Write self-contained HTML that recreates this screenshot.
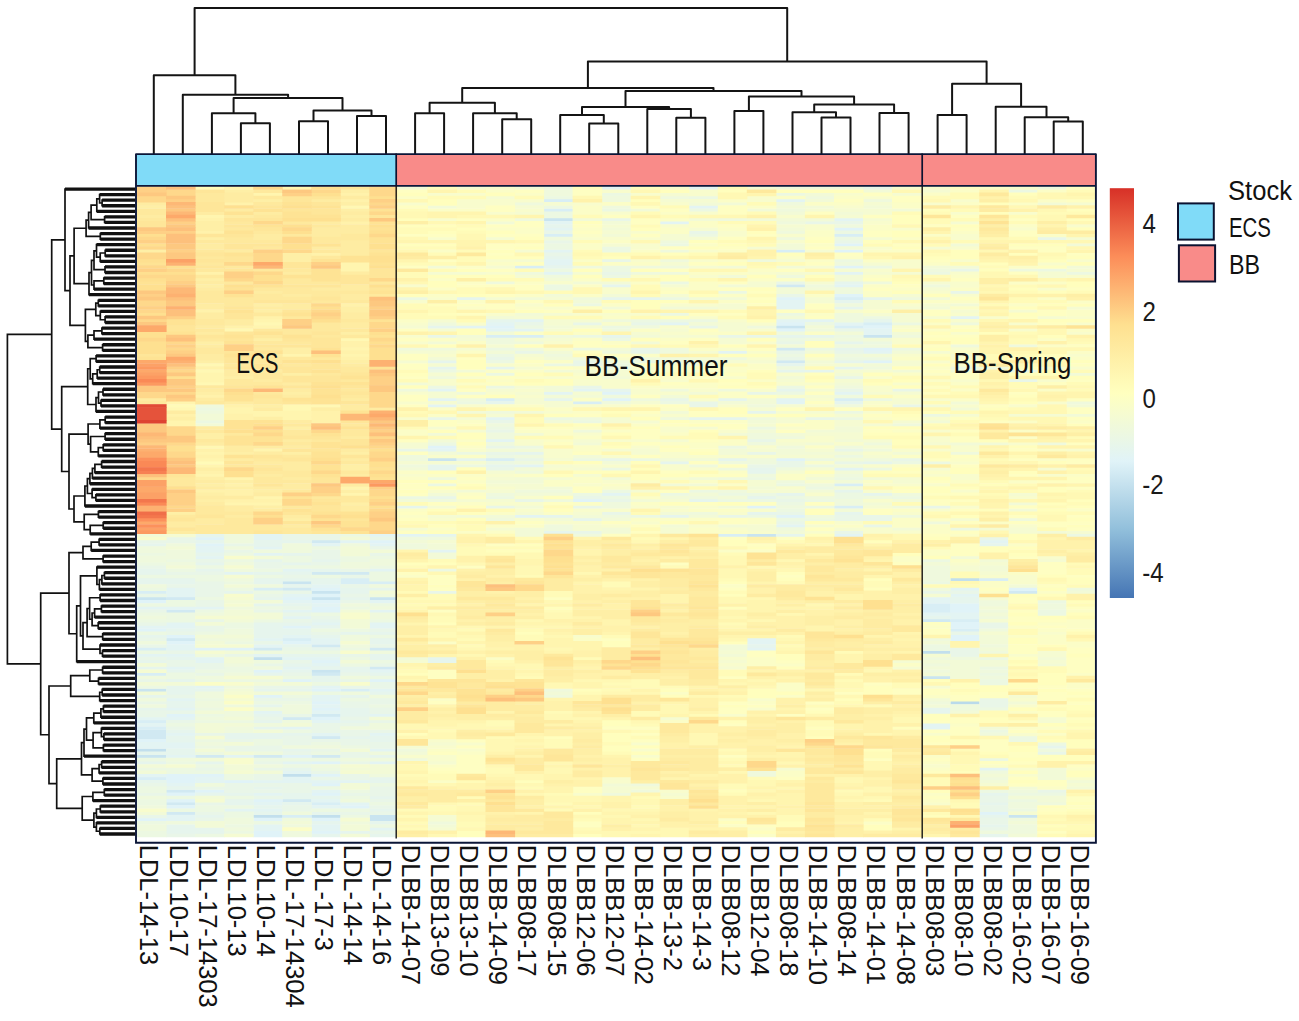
<!DOCTYPE html>
<html><head><meta charset="utf-8"><style>
html,body{margin:0;padding:0;background:#fff;width:1299px;height:1021px;overflow:hidden}
svg{position:absolute;left:0;top:0}
</style></head><body>
<svg width="1299" height="1021" viewBox="0 0 1299 1021">
<defs><linearGradient id="cb" x1="0" y1="1" x2="0" y2="0">
<stop offset="0" stop-color="#4575b4"/><stop offset="0.1667" stop-color="#91bfdb"/><stop offset="0.3333" stop-color="#e0f3f8"/><stop offset="0.5" stop-color="#ffffbf"/><stop offset="0.6667" stop-color="#fee090"/><stop offset="0.8333" stop-color="#fc8d59"/><stop offset="1" stop-color="#d73027"/>
</linearGradient>
<filter id="bl" x="-1%" y="-1%" width="102%" height="102%"><feGaussianBlur stdDeviation="0.55"/></filter>
</defs>
<path d="M194.6 75.2V8.0H787.2V61.4M153.8 154.0V75.2H235.4V94.8M182.8 154.0V94.8H288.1V98.0M233.6 113.2V98.0H342.5V110.4M211.9 154.0V113.2H255.4V123.2M240.9 154.0V123.2H269.9V154.0M313.5 121.2V110.4H371.5V116.0M299.0 154.0V121.2H328.0V154.0M357.0 154.0V116.0H386.0V154.0M587.9 88.0V61.4H986.6V83.8M462.2 102.8V88.0H713.5V91.0M429.6 113.2V102.8H494.9V113.2M415.1 154.0V113.2H444.1V154.0M473.1 154.0V113.2H516.7V119.2M502.2 154.0V119.2H531.2V154.0M625.5 107.0V91.0H801.5V96.6M582.0 115.0V107.0H669.1V109.0M560.2 154.0V115.0H603.8V123.4M589.2 154.0V123.4H618.3V154.0M647.3 154.0V109.0H690.9V117.8M676.3 154.0V117.8H705.4V154.0M748.9 111.0V96.6H854.1V104.6M734.4 154.0V111.0H763.4V154.0M814.2 112.3V104.6H894.1V113.0M792.5 154.0V112.3H836.0V117.4M821.5 154.0V117.4H850.5V154.0M879.5 154.0V113.0H908.6V154.0M952.1 115.0V83.8H1021.1V106.7M937.6 154.0V115.0H966.6V154.0M995.7 154.0V106.7H1046.5V117.3M1024.7 154.0V117.3H1068.2V121.5M1053.7 154.0V121.5H1082.8V154.0" fill="none" stroke="#141414" stroke-width="2.0" stroke-linejoin="round"/>
<path d="M135.0 200.20H102.1V205.76H135.0M135.0 194.64H99.6V202.98H102.1M99.6 198.81H96.8V211.32H135.0M135.0 216.88H104.6V222.44H135.0M96.8 205.06H91.1V219.66H104.6M91.1 212.36H88.6V228.00H135.0M135.0 233.56H100.3V239.12H135.0M88.6 220.18H86.1V236.34H100.3M135.0 250.24H105.2V255.80H135.0M105.2 253.02H100.2V261.36H135.0M135.0 244.68H96.5V257.19H100.2M135.0 266.92H105.0V272.48H135.0M96.5 250.93H94.0V269.70H105.0M135.0 278.04H103.8V283.60H135.0M103.8 280.82H94.0V289.16H135.0M94.0 260.32H91.5V284.99H94.0M91.5 272.65H89.0V294.72H135.0M86.1 228.26H74.1V283.68H89.0M135.0 300.28H98.3V305.84H135.0M135.0 316.96H105.1V322.52H135.0M135.0 311.40H100.3V319.74H105.1M98.3 303.06H95.8V315.57H100.3M135.0 328.08H101.9V333.64H135.0M101.9 330.86H94.0V339.20H135.0M135.0 344.76H102.6V350.31H135.0M94.0 335.03H87.9V347.54H102.6M95.8 309.31H85.4V341.28H87.9M74.1 255.97H70.0V325.30H85.4M135.0 189.08H65.0V290.63H70.0M135.0 355.87H96.1V361.43H135.0M135.0 366.99H99.7V372.55H135.0M99.7 369.77H97.2V378.11H135.0M97.2 373.94H92.7V383.67H135.0M96.1 358.65H90.2V378.81H92.7M135.0 389.23H103.0V394.79H135.0M135.0 400.35H101.0V405.91H135.0M103.0 392.01H98.5V403.13H101.0M98.5 397.57H96.0V411.47H135.0M90.2 368.73H87.7V404.52H96.0M135.0 417.03H105.2V422.59H135.0M105.2 419.81H99.9V428.15H135.0M135.0 433.71H105.1V439.27H135.0M135.0 444.83H103.2V450.39H135.0M103.2 447.61H98.3V455.95H135.0M105.1 436.49H90.6V451.78H98.3M99.9 423.98H88.1V444.14H90.6M135.0 461.51H101.6V467.07H135.0M101.6 464.29H94.9V472.63H135.0M94.9 468.46H92.4V478.19H135.0M92.4 473.33H89.9V483.75H135.0M135.0 494.87H95.9V500.43H135.0M135.0 489.31H92.1V497.65H95.9M89.9 478.54H87.4V493.48H92.1M87.4 486.01H84.9V505.99H135.0M135.0 511.55H98.4V517.11H135.0M135.0 522.67H103.2V528.23H135.0M103.2 525.45H90.2V533.79H135.0M98.4 514.33H84.2V529.62H90.2M84.9 496.00H74.0V521.97H84.2M88.1 434.06H69.0V508.99H74.0M87.7 386.63H61.7V471.52H69.0M65.0 239.86H51.7V429.08H61.7M135.0 539.35H99.1V544.91H135.0M99.1 542.13H91.2V550.47H135.0M135.0 556.03H103.1V561.59H135.0M91.2 546.30H83.0V558.81H103.1M135.0 572.71H104.4V578.27H135.0M104.4 575.49H101.9V583.83H135.0M101.9 579.66H99.4V589.39H135.0M135.0 567.15H96.9V584.52H99.4M135.0 594.95H100.1V600.51H135.0M135.0 606.07H101.4V611.63H135.0M101.4 608.85H94.6V617.19H135.0M135.0 622.75H98.2V628.31H135.0M94.6 613.02H92.1V625.53H98.2M100.1 597.73H89.6V619.27H92.1M135.0 633.87H102.7V639.43H135.0M89.6 608.50H87.1V636.65H102.7M135.0 650.55H102.5V656.11H135.0M135.0 644.99H100.0V653.33H102.5M87.1 622.57H83.0V649.16H100.0M96.9 575.84H80.5V635.86H83.0M80.5 605.85H76.7V661.67H135.0M83.0 552.55H69.0V633.76H76.7M135.0 667.23H102.6V672.79H135.0M135.0 678.34H98.5V683.90H135.0M102.6 670.01H89.8V681.12H98.5M135.0 689.46H102.2V695.02H135.0M102.2 692.24H99.7V700.58H135.0M89.8 675.56H70.7V696.41H99.7M135.0 706.14H103.4V711.70H135.0M103.4 708.92H100.9V717.26H135.0M100.9 713.09H93.8V722.82H135.0M135.0 733.94H103.9V739.50H135.0M135.0 728.38H101.4V736.72H103.9M135.0 745.06H103.4V750.62H135.0M101.4 732.55H93.1V747.84H103.4M93.8 717.96H86.5V740.20H93.1M86.5 729.08H84.0V756.18H135.0M135.0 761.74H101.6V767.30H135.0M101.6 764.52H99.1V772.86H135.0M135.0 778.42H102.9V783.98H135.0M99.1 768.69H92.1V781.20H102.9M84.0 742.63H81.5V774.95H92.1M135.0 789.54H104.3V795.10H135.0M104.3 792.32H92.9V800.66H135.0M135.0 806.22H100.3V811.78H135.0M100.3 809.00H96.4V817.34H135.0M135.0 828.46H99.8V834.02H135.0M135.0 822.90H96.4V831.24H99.8M96.4 813.17H93.9V827.07H96.4M92.9 796.49H82.2V820.12H93.9M81.5 758.79H56.7V808.31H82.2M70.7 685.99H49.0V783.55H56.7M69.0 593.16H40.7V734.77H49.0M51.7 334.47H7.4V663.96H40.7" fill="none" stroke="#111" stroke-width="1.7"/><path d="M102.1 200.20H135.0M102.1 205.76H135.0M99.6 194.64H135.0M96.8 211.32H135.0M104.6 216.88H135.0M104.6 222.44H135.0M88.6 228.00H135.0M100.3 233.56H135.0M100.3 239.12H135.0M105.2 250.24H135.0M105.2 255.80H135.0M100.2 261.36H135.0M96.5 244.68H135.0M105.0 266.92H135.0M105.0 272.48H135.0M103.8 278.04H135.0M103.8 283.60H135.0M94.0 289.16H135.0M89.0 294.72H135.0M98.3 300.28H135.0M98.3 305.84H135.0M105.1 316.96H135.0M105.1 322.52H135.0M100.3 311.40H135.0M101.9 328.08H135.0M101.9 333.64H135.0M94.0 339.20H135.0M102.6 344.76H135.0M102.6 350.31H135.0M65.0 189.08H135.0M96.1 355.87H135.0M96.1 361.43H135.0M99.7 366.99H135.0M99.7 372.55H135.0M97.2 378.11H135.0M92.7 383.67H135.0M103.0 389.23H135.0M103.0 394.79H135.0M101.0 400.35H135.0M101.0 405.91H135.0M96.0 411.47H135.0M105.2 417.03H135.0M105.2 422.59H135.0M99.9 428.15H135.0M105.1 433.71H135.0M105.1 439.27H135.0M103.2 444.83H135.0M103.2 450.39H135.0M98.3 455.95H135.0M101.6 461.51H135.0M101.6 467.07H135.0M94.9 472.63H135.0M92.4 478.19H135.0M89.9 483.75H135.0M95.9 494.87H135.0M95.9 500.43H135.0M92.1 489.31H135.0M84.9 505.99H135.0M98.4 511.55H135.0M98.4 517.11H135.0M103.2 522.67H135.0M103.2 528.23H135.0M90.2 533.79H135.0M99.1 539.35H135.0M99.1 544.91H135.0M91.2 550.47H135.0M103.1 556.03H135.0M103.1 561.59H135.0M104.4 572.71H135.0M104.4 578.27H135.0M101.9 583.83H135.0M99.4 589.39H135.0M96.9 567.15H135.0M100.1 594.95H135.0M100.1 600.51H135.0M101.4 606.07H135.0M101.4 611.63H135.0M94.6 617.19H135.0M98.2 622.75H135.0M98.2 628.31H135.0M102.7 633.87H135.0M102.7 639.43H135.0M102.5 650.55H135.0M102.5 656.11H135.0M100.0 644.99H135.0M76.7 661.67H135.0M102.6 667.23H135.0M102.6 672.79H135.0M98.5 678.34H135.0M98.5 683.90H135.0M102.2 689.46H135.0M102.2 695.02H135.0M99.7 700.58H135.0M103.4 706.14H135.0M103.4 711.70H135.0M100.9 717.26H135.0M93.8 722.82H135.0M103.9 733.94H135.0M103.9 739.50H135.0M101.4 728.38H135.0M103.4 745.06H135.0M103.4 750.62H135.0M84.0 756.18H135.0M101.6 761.74H135.0M101.6 767.30H135.0M99.1 772.86H135.0M102.9 778.42H135.0M102.9 783.98H135.0M104.3 789.54H135.0M104.3 795.10H135.0M92.9 800.66H135.0M100.3 806.22H135.0M100.3 811.78H135.0M96.4 817.34H135.0M99.8 828.46H135.0M99.8 834.02H135.0M96.4 822.90H135.0" fill="none" stroke="#111" stroke-width="3.3"/>
<g filter="url(#bl)"><path fill="#badaea" d="M950.1 701.02h29.6v3.56h-29.6z"/><path fill="#c2dfed" d="M950.1 577.86h29.6v3.56h-29.6zM922.0 650.49h28.7v3.56h-28.7zM253.2 656.81h29.6v3.56h-29.6zM137.0 748.38h29.6v3.56h-29.6zM282.2 773.64h29.6v3.56h-29.6zM253.2 814.70h29.6v3.56h-29.6zM311.2 814.70h29.6v3.56h-29.6z"/><path fill="#c9e4f0" d="M543.6 217.88h29.6v3.56h-29.6zM775.9 325.24h29.6v3.56h-29.6zM863.0 334.72h29.6v3.56h-29.6zM427.4 457.87h29.6v3.56h-29.6zM746.8 533.65h29.6v3.56h-29.6zM282.2 581.02h29.6v3.56h-29.6zM311.2 590.49h29.6v3.56h-29.6zM137.0 596.81h29.6v3.56h-29.6zM311.2 596.81h29.6v3.56h-29.6zM369.3 596.81h27.9v3.56h-27.9zM311.2 669.44h29.6v3.56h-29.6zM922.0 675.75h28.7v3.56h-28.7zM137.0 688.38h29.6v3.56h-29.6zM137.0 754.70h29.6v3.56h-29.6zM369.3 814.70h27.9v3.56h-27.9zM1008.2 814.70h29.6v3.56h-29.6zM369.3 817.85h27.9v3.56h-27.9z"/><path fill="#d1e9f2" d="M775.9 284.19h29.6v3.56h-29.6zM775.9 347.35h29.6v3.56h-29.6zM775.9 359.98h29.6v3.56h-29.6zM311.2 539.97h29.6v3.56h-29.6zM311.2 571.55h58.7v3.56h-58.7zM282.2 587.34h29.6v3.56h-29.6zM1008.2 590.49h29.6v3.56h-29.6zM166.0 596.81h29.6v3.56h-29.6zM166.0 609.44h29.6v3.56h-29.6zM922.0 618.91h28.7v3.56h-28.7zM166.0 637.86h29.6v3.56h-29.6zM311.2 644.18h29.6v3.56h-29.6zM253.2 647.33h29.6v3.56h-29.6zM369.3 647.33h27.9v3.56h-27.9zM369.3 666.28h27.9v3.56h-27.9zM311.2 672.60h29.6v3.56h-29.6zM311.2 713.65h29.6v3.56h-29.6zM282.2 716.80h29.6v3.56h-29.6zM137.0 729.44h29.6v3.56h-29.6zM137.0 732.59h29.6v3.56h-29.6zM137.0 735.75h29.6v3.56h-29.6zM311.2 735.75h29.6v3.56h-29.6zM195.1 754.70h29.6v3.56h-29.6zM253.2 754.70h29.6v3.56h-29.6zM311.2 754.70h29.6v3.56h-29.6zM166.0 789.43h29.6v3.56h-29.6zM282.2 798.91h29.6v3.56h-29.6zM166.0 802.06h29.6v3.56h-29.6zM166.0 811.54h29.6v3.56h-29.6z"/><path fill="#d8eef5" d="M543.6 198.93h29.6v3.56h-29.6zM543.6 208.40h29.6v3.56h-29.6zM543.6 233.67h29.6v3.56h-29.6zM834.0 233.67h29.6v3.56h-29.6zM775.9 249.46h29.6v3.56h-29.6zM514.5 265.24h29.6v3.56h-29.6zM834.0 296.82h29.6v3.56h-29.6zM863.0 322.08h29.6v3.56h-29.6zM834.0 325.24h29.6v3.56h-29.6zM485.5 334.72h58.7v3.56h-58.7zM485.5 397.87h29.6v3.56h-29.6zM834.0 397.87h29.6v3.56h-29.6zM572.6 401.03h29.6v3.56h-29.6zM485.5 457.87h29.6v3.56h-29.6zM834.0 483.13h29.6v3.56h-29.6zM834.0 505.23h29.6v3.56h-29.6zM717.8 533.65h29.6v3.56h-29.6zM340.3 577.86h29.6v3.56h-29.6zM979.2 577.86h29.6v3.56h-29.6zM340.3 581.02h56.9v3.56h-56.9zM253.2 587.34h29.6v3.56h-29.6zM137.0 590.49h29.6v3.56h-29.6zM922.0 603.13h28.7v3.56h-28.7zM922.0 606.28h28.7v3.56h-28.7zM922.0 609.44h28.7v3.56h-28.7zM950.1 618.91h29.6v3.56h-29.6zM950.1 628.39h29.6v3.56h-29.6zM282.2 637.86h29.6v3.56h-29.6zM137.0 647.33h29.6v3.56h-29.6zM137.0 672.60h29.6v3.56h-29.6zM340.3 688.38h29.6v3.56h-29.6zM137.0 719.96h29.6v3.56h-29.6zM137.0 726.28h29.6v3.56h-29.6zM137.0 776.80h29.6v3.56h-29.6zM311.2 802.06h29.6v3.56h-29.6zM282.2 814.70h29.6v3.56h-29.6z"/><path fill="#e0f3f8" d="M834.0 227.35h29.6v3.56h-29.6zM834.0 243.14h29.6v3.56h-29.6zM834.0 249.46h29.6v3.56h-29.6zM834.0 265.24h29.6v3.56h-29.6zM834.0 293.66h29.6v3.56h-29.6zM775.9 296.82h29.6v3.56h-29.6zM775.9 322.08h29.6v3.56h-29.6zM485.5 325.24h29.6v3.56h-29.6zM863.0 325.24h29.6v3.56h-29.6zM775.9 328.40h29.6v3.56h-29.6zM863.0 347.35h29.6v3.56h-29.6zM863.0 359.98h29.6v3.56h-29.6zM601.6 391.55h29.6v3.56h-29.6zM601.6 397.87h29.6v3.56h-29.6zM427.4 445.24h29.6v3.56h-29.6zM775.9 457.87h29.6v3.56h-29.6zM572.6 498.92h29.6v3.56h-29.6zM746.8 505.23h29.6v3.56h-29.6zM775.9 514.71h29.6v3.56h-29.6zM195.1 536.81h29.6v3.56h-29.6zM369.3 539.97h27.9v3.56h-27.9zM195.1 543.13h29.6v3.56h-29.6zM311.2 587.34h29.6v3.56h-29.6zM1008.2 587.34h29.6v3.56h-29.6zM311.2 593.65h29.6v3.56h-29.6zM282.2 596.81h29.6v3.56h-29.6zM137.0 599.97h29.6v3.56h-29.6zM311.2 599.97h29.6v3.56h-29.6zM950.1 603.13h29.6v3.56h-29.6zM311.2 606.28h29.6v3.56h-29.6zM950.1 606.28h29.6v3.56h-29.6zM311.2 609.44h29.6v3.56h-29.6zM950.1 609.44h29.6v3.56h-29.6zM950.1 622.07h29.6v3.56h-29.6zM282.2 625.23h29.6v3.56h-29.6zM950.1 625.23h29.6v3.56h-29.6zM137.0 628.39h29.6v3.56h-29.6zM166.0 634.70h29.6v3.56h-29.6zM950.1 634.70h29.6v3.56h-29.6zM950.1 637.86h29.6v3.56h-29.6zM166.0 641.02h29.6v3.56h-29.6zM282.2 641.02h29.6v3.56h-29.6zM195.1 647.33h58.7v3.56h-58.7zM311.2 659.97h29.6v3.56h-29.6zM253.2 669.44h29.6v3.56h-29.6zM282.2 678.91h29.6v3.56h-29.6zM369.3 678.91h27.9v3.56h-27.9zM311.2 688.38h29.6v3.56h-29.6zM253.2 694.70h29.6v3.56h-29.6zM311.2 701.02h29.6v3.56h-29.6zM311.2 707.33h29.6v3.56h-29.6zM166.0 713.65h29.6v3.56h-29.6zM311.2 716.80h29.6v3.56h-29.6zM137.0 738.91h29.6v3.56h-29.6zM282.2 754.70h29.6v3.56h-29.6zM311.2 761.01h29.6v3.56h-29.6zM166.0 773.64h58.7v3.56h-58.7zM311.2 773.64h29.6v3.56h-29.6zM166.0 776.80h29.6v3.56h-29.6zM166.0 779.96h29.6v3.56h-29.6zM224.1 779.96h29.6v3.56h-29.6zM311.2 783.12h29.6v3.56h-29.6zM195.1 789.43h29.6v3.56h-29.6zM166.0 792.59h29.6v3.56h-29.6zM311.2 792.59h29.6v3.56h-29.6zM166.0 798.91h29.6v3.56h-29.6zM253.2 798.91h29.6v3.56h-29.6zM166.0 805.22h29.6v3.56h-29.6zM340.3 805.22h29.6v3.56h-29.6zM979.2 811.54h29.6v3.56h-29.6zM137.0 817.85h29.6v3.56h-29.6zM253.2 817.85h29.6v3.56h-29.6zM311.2 817.85h29.6v3.56h-29.6zM253.2 830.48h29.6v3.56h-29.6zM311.2 830.48h29.6v3.56h-29.6zM253.2 833.64h29.6v3.56h-29.6z"/><path fill="#e3f4f3" d="M601.6 186.30h29.6v3.56h-29.6zM688.8 186.30h29.6v3.56h-29.6zM775.9 198.93h29.6v3.56h-29.6zM688.8 205.25h29.6v3.56h-29.6zM834.0 217.88h29.6v3.56h-29.6zM543.6 221.04h29.6v3.56h-29.6zM659.7 221.04h29.6v3.56h-29.6zM543.6 227.35h29.6v3.56h-29.6zM543.6 249.46h29.6v3.56h-29.6zM543.6 258.93h29.6v3.56h-29.6zM543.6 262.09h29.6v3.56h-29.6zM543.6 271.56h29.6v3.56h-29.6zM834.0 271.56h29.6v3.56h-29.6zM834.0 284.19h29.6v3.56h-29.6zM775.9 299.98h29.6v3.56h-29.6zM775.9 303.14h29.6v3.56h-29.6zM775.9 306.30h29.6v3.56h-29.6zM950.1 315.77h29.6v3.56h-29.6zM514.5 318.93h29.6v3.56h-29.6zM775.9 318.93h58.7v3.56h-58.7zM485.5 322.08h29.6v3.56h-29.6zM659.7 322.08h29.6v3.56h-29.6zM834.0 322.08h29.6v3.56h-29.6zM456.4 325.24h29.6v3.56h-29.6zM485.5 328.40h58.7v3.56h-58.7zM863.0 328.40h29.6v3.56h-29.6zM863.0 331.56h29.6v3.56h-29.6zM717.8 350.50h29.6v3.56h-29.6zM863.0 350.50h29.6v3.56h-29.6zM427.4 388.40h29.6v3.56h-29.6zM572.6 388.40h29.6v3.56h-29.6zM543.6 391.55h29.6v3.56h-29.6zM834.0 391.55h29.6v3.56h-29.6zM427.4 397.87h29.6v3.56h-29.6zM775.9 397.87h29.6v3.56h-29.6zM775.9 401.03h29.6v3.56h-29.6zM427.4 404.19h29.6v3.56h-29.6zM485.5 416.82h29.6v3.56h-29.6zM485.5 438.92h29.6v3.56h-29.6zM427.4 448.39h29.6v3.56h-29.6zM514.5 464.18h29.6v3.56h-29.6zM834.0 467.34h29.6v3.56h-29.6zM601.6 492.60h29.6v3.56h-29.6zM514.5 514.71h29.6v3.56h-29.6zM775.9 524.18h29.6v3.56h-29.6zM253.2 533.65h29.6v3.56h-29.6zM369.3 533.65h58.7v3.56h-58.7zM834.0 533.65h29.6v3.56h-29.6zM253.2 536.81h29.6v3.56h-29.6zM340.3 539.97h29.6v3.56h-29.6zM979.2 539.97h29.6v3.56h-29.6zM311.2 543.13h29.6v3.56h-29.6zM369.3 543.13h27.9v3.56h-27.9zM195.1 546.29h29.6v3.56h-29.6zM253.2 546.29h29.6v3.56h-29.6zM195.1 549.44h29.6v3.56h-29.6zM427.4 549.44h29.6v3.56h-29.6zM253.2 552.60h29.6v3.56h-29.6zM195.1 555.76h29.6v3.56h-29.6zM282.2 568.39h29.6v3.56h-29.6zM369.3 568.39h27.9v3.56h-27.9zM224.1 571.55h29.6v3.56h-29.6zM311.2 584.18h29.6v3.56h-29.6zM166.0 587.34h29.6v3.56h-29.6zM950.1 587.34h29.6v3.56h-29.6zM166.0 590.49h29.6v3.56h-29.6zM166.0 593.65h29.6v3.56h-29.6zM282.2 593.65h29.6v3.56h-29.6zM950.1 593.65h29.6v3.56h-29.6zM922.0 596.81h28.7v3.56h-28.7zM282.2 599.97h29.6v3.56h-29.6zM369.3 599.97h27.9v3.56h-27.9zM922.0 599.97h28.7v3.56h-28.7zM311.2 603.13h29.6v3.56h-29.6zM137.0 606.28h87.7v3.56h-87.7zM282.2 609.44h29.6v3.56h-29.6zM369.3 609.44h27.9v3.56h-27.9zM922.0 612.60h57.8v3.56h-57.8zM282.2 615.76h29.6v3.56h-29.6zM950.1 615.76h29.6v3.56h-29.6zM166.0 622.07h29.6v3.56h-29.6zM311.2 622.07h29.6v3.56h-29.6zM369.3 622.07h27.9v3.56h-27.9zM137.0 625.23h58.7v3.56h-58.7zM369.3 625.23h27.9v3.56h-27.9zM282.2 634.70h29.6v3.56h-29.6zM253.2 637.86h29.6v3.56h-29.6zM311.2 637.86h29.6v3.56h-29.6zM746.8 637.86h29.6v3.56h-29.6zM311.2 641.02h29.6v3.56h-29.6zM746.8 641.02h29.6v3.56h-29.6zM166.0 644.18h29.6v3.56h-29.6zM253.2 644.18h29.6v3.56h-29.6zM166.0 647.33h29.6v3.56h-29.6zM746.8 647.33h29.6v3.56h-29.6zM137.0 653.65h58.7v3.56h-58.7zM253.2 653.65h29.6v3.56h-29.6zM195.1 656.81h29.6v3.56h-29.6zM282.2 656.81h58.7v3.56h-58.7zM195.1 659.97h29.6v3.56h-29.6zM311.2 663.12h29.6v3.56h-29.6zM166.0 666.28h29.6v3.56h-29.6zM282.2 666.28h29.6v3.56h-29.6zM369.3 669.44h27.9v3.56h-27.9zM195.1 685.23h29.6v3.56h-29.6zM311.2 685.23h29.6v3.56h-29.6zM369.3 688.38h27.9v3.56h-27.9zM311.2 694.70h29.6v3.56h-29.6zM166.0 697.86h29.6v3.56h-29.6zM311.2 697.86h29.6v3.56h-29.6zM311.2 704.17h29.6v3.56h-29.6zM166.0 707.33h29.6v3.56h-29.6zM253.2 710.49h29.6v3.56h-29.6zM311.2 710.49h29.6v3.56h-29.6zM369.3 713.65h27.9v3.56h-27.9zM137.0 716.80h58.7v3.56h-58.7zM311.2 719.96h29.6v3.56h-29.6zM137.0 723.12h29.6v3.56h-29.6zM922.0 723.12h28.7v3.56h-28.7zM282.2 726.28h29.6v3.56h-29.6zM922.0 726.28h28.7v3.56h-28.7zM166.0 732.59h29.6v3.56h-29.6zM311.2 732.59h29.6v3.56h-29.6zM369.3 732.59h27.9v3.56h-27.9zM137.0 742.07h58.7v3.56h-58.7zM137.0 745.22h58.7v3.56h-58.7zM369.3 748.38h27.9v3.56h-27.9zM166.0 754.70h29.6v3.56h-29.6zM224.1 754.70h29.6v3.56h-29.6zM282.2 761.01h29.6v3.56h-29.6zM369.3 761.01h27.9v3.56h-27.9zM979.2 767.33h29.6v3.56h-29.6zM282.2 770.49h29.6v3.56h-29.6zM137.0 773.64h29.6v3.56h-29.6zM195.1 776.80h29.6v3.56h-29.6zM282.2 776.80h29.6v3.56h-29.6zM195.1 779.96h29.6v3.56h-29.6zM253.2 779.96h116.8v3.56h-116.8zM166.0 783.12h29.6v3.56h-29.6zM311.2 789.43h29.6v3.56h-29.6zM253.2 792.59h29.6v3.56h-29.6zM311.2 798.91h29.6v3.56h-29.6zM253.2 802.06h29.6v3.56h-29.6zM340.3 802.06h29.6v3.56h-29.6zM311.2 805.22h29.6v3.56h-29.6zM224.1 808.38h58.7v3.56h-58.7zM166.0 814.70h29.6v3.56h-29.6zM166.0 817.85h29.6v3.56h-29.6zM253.2 824.17h29.6v3.56h-29.6zM311.2 824.17h29.6v3.56h-29.6zM253.2 827.33h29.6v3.56h-29.6zM311.2 827.33h29.6v3.56h-29.6zM369.3 827.33h27.9v3.56h-27.9z"/><path fill="#e6f5ed" d="M543.6 224.19h29.6v3.56h-29.6zM543.6 255.77h29.6v3.56h-29.6zM543.6 265.24h29.6v3.56h-29.6zM834.0 281.03h29.6v3.56h-29.6zM601.6 284.19h29.6v3.56h-29.6zM456.4 296.82h29.6v3.56h-29.6zM601.6 296.82h58.7v3.56h-58.7zM863.0 296.82h29.6v3.56h-29.6zM834.0 299.98h29.6v3.56h-29.6zM834.0 306.30h29.6v3.56h-29.6zM485.5 318.93h29.6v3.56h-29.6zM863.0 318.93h29.6v3.56h-29.6zM427.4 325.24h29.6v3.56h-29.6zM601.6 334.72h29.6v3.56h-29.6zM775.9 334.72h58.7v3.56h-58.7zM834.0 341.03h29.6v3.56h-29.6zM834.0 347.35h29.6v3.56h-29.6zM427.4 359.98h29.6v3.56h-29.6zM834.0 359.98h29.6v3.56h-29.6zM775.9 363.13h29.6v3.56h-29.6zM427.4 366.29h29.6v3.56h-29.6zM485.5 366.29h29.6v3.56h-29.6zM834.0 366.29h29.6v3.56h-29.6zM775.9 369.45h58.7v3.56h-58.7zM601.6 388.40h29.6v3.56h-29.6zM775.9 388.40h29.6v3.56h-29.6zM543.6 397.87h29.6v3.56h-29.6zM717.8 397.87h29.6v3.56h-29.6zM485.5 401.03h29.6v3.56h-29.6zM834.0 401.03h29.6v3.56h-29.6zM746.8 410.50h29.6v3.56h-29.6zM688.8 416.82h58.7v3.56h-58.7zM514.5 451.55h29.6v3.56h-29.6zM456.4 457.87h29.6v3.56h-29.6zM717.8 457.87h29.6v3.56h-29.6zM659.7 461.03h29.6v3.56h-29.6zM863.0 461.03h29.6v3.56h-29.6zM427.4 464.18h29.6v3.56h-29.6zM485.5 464.18h29.6v3.56h-29.6zM427.4 467.34h29.6v3.56h-29.6zM746.8 467.34h29.6v3.56h-29.6zM746.8 470.50h29.6v3.56h-29.6zM834.0 489.45h29.6v3.56h-29.6zM775.9 492.60h29.6v3.56h-29.6zM863.0 492.60h29.6v3.56h-29.6zM746.8 495.76h29.6v3.56h-29.6zM688.8 498.92h29.6v3.56h-29.6zM396.6 505.23h31.4v3.56h-31.4zM746.8 511.55h29.6v3.56h-29.6zM834.0 511.55h29.6v3.56h-29.6zM543.6 514.71h29.6v3.56h-29.6zM659.7 514.71h29.6v3.56h-29.6zM572.6 517.87h29.6v3.56h-29.6zM543.6 530.50h29.6v3.56h-29.6zM195.1 533.65h29.6v3.56h-29.6zM427.4 533.65h29.6v3.56h-29.6zM775.9 533.65h29.6v3.56h-29.6zM195.1 539.97h29.6v3.56h-29.6zM253.2 539.97h58.7v3.56h-58.7zM137.0 543.13h29.6v3.56h-29.6zM253.2 543.13h29.6v3.56h-29.6zM979.2 543.13h29.6v3.56h-29.6zM195.1 552.60h29.6v3.56h-29.6zM282.2 552.60h29.6v3.56h-29.6zM253.2 558.92h29.6v3.56h-29.6zM311.2 558.92h29.6v3.56h-29.6zM195.1 562.07h29.6v3.56h-29.6zM282.2 562.07h29.6v3.56h-29.6zM137.0 568.39h29.6v3.56h-29.6zM195.1 568.39h29.6v3.56h-29.6zM311.2 568.39h29.6v3.56h-29.6zM137.0 571.55h29.6v3.56h-29.6zM253.2 571.55h58.7v3.56h-58.7zM137.0 577.86h58.7v3.56h-58.7zM253.2 577.86h87.7v3.56h-87.7zM137.0 581.02h58.7v3.56h-58.7zM253.2 581.02h29.6v3.56h-29.6zM311.2 581.02h29.6v3.56h-29.6zM282.2 584.18h29.6v3.56h-29.6zM340.3 587.34h56.9v3.56h-56.9zM224.1 590.49h29.6v3.56h-29.6zM340.3 590.49h29.6v3.56h-29.6zM253.2 596.81h29.6v3.56h-29.6zM340.3 596.81h29.6v3.56h-29.6zM950.1 596.81h29.6v3.56h-29.6zM950.1 599.97h29.6v3.56h-29.6zM253.2 603.13h58.7v3.56h-58.7zM922.0 615.76h28.7v3.56h-28.7zM311.2 618.91h29.6v3.56h-29.6zM253.2 622.07h58.7v3.56h-58.7zM253.2 625.23h29.6v3.56h-29.6zM311.2 625.23h29.6v3.56h-29.6zM166.0 628.39h29.6v3.56h-29.6zM253.2 628.39h58.7v3.56h-58.7zM253.2 631.55h58.7v3.56h-58.7zM340.3 631.55h56.9v3.56h-56.9zM137.0 634.70h29.6v3.56h-29.6zM253.2 634.70h29.6v3.56h-29.6zM311.2 634.70h29.6v3.56h-29.6zM369.3 637.86h27.9v3.56h-27.9zM369.3 641.02h27.9v3.56h-27.9zM282.2 644.18h29.6v3.56h-29.6zM746.8 644.18h29.6v3.56h-29.6zM311.2 647.33h29.6v3.56h-29.6zM282.2 653.65h58.7v3.56h-58.7zM369.3 653.65h27.9v3.56h-27.9zM166.0 656.81h29.6v3.56h-29.6zM369.3 656.81h27.9v3.56h-27.9zM427.4 656.81h29.6v3.56h-29.6zM137.0 659.97h29.6v3.56h-29.6zM427.4 659.97h29.6v3.56h-29.6zM282.2 663.12h29.6v3.56h-29.6zM137.0 666.28h29.6v3.56h-29.6zM311.2 666.28h58.7v3.56h-58.7zM166.0 669.44h29.6v3.56h-29.6zM282.2 669.44h29.6v3.56h-29.6zM340.3 669.44h29.6v3.56h-29.6zM253.2 672.60h29.6v3.56h-29.6zM369.3 672.60h27.9v3.56h-27.9zM311.2 675.75h29.6v3.56h-29.6zM166.0 678.91h29.6v3.56h-29.6zM311.2 678.91h29.6v3.56h-29.6zM166.0 685.23h29.6v3.56h-29.6zM166.0 688.38h58.7v3.56h-58.7zM253.2 688.38h58.7v3.56h-58.7zM166.0 691.54h29.6v3.56h-29.6zM369.3 691.54h27.9v3.56h-27.9zM137.0 694.70h29.6v3.56h-29.6zM340.3 694.70h29.6v3.56h-29.6zM166.0 701.02h29.6v3.56h-29.6zM166.0 704.17h29.6v3.56h-29.6zM253.2 704.17h29.6v3.56h-29.6zM137.0 707.33h29.6v3.56h-29.6zM340.3 707.33h29.6v3.56h-29.6zM922.0 707.33h28.7v3.56h-28.7zM340.3 710.49h29.6v3.56h-29.6zM922.0 710.49h28.7v3.56h-28.7zM253.2 713.65h29.6v3.56h-29.6zM340.3 713.65h29.6v3.56h-29.6zM253.2 719.96h29.6v3.56h-29.6zM340.3 719.96h29.6v3.56h-29.6zM253.2 726.28h29.6v3.56h-29.6zM166.0 729.44h29.6v3.56h-29.6zM224.1 732.59h87.7v3.56h-87.7zM166.0 735.75h29.6v3.56h-29.6zM224.1 735.75h58.7v3.56h-58.7zM340.3 735.75h56.9v3.56h-56.9zM166.0 738.91h29.6v3.56h-29.6zM369.3 738.91h27.9v3.56h-27.9zM1037.2 745.22h29.6v3.56h-29.6zM166.0 748.38h29.6v3.56h-29.6zM282.2 748.38h29.6v3.56h-29.6zM137.0 751.54h58.7v3.56h-58.7zM369.3 754.70h27.9v3.56h-27.9zM137.0 761.01h29.6v3.56h-29.6zM195.1 761.01h29.6v3.56h-29.6zM282.2 767.33h29.6v3.56h-29.6zM369.3 776.80h27.9v3.56h-27.9zM137.0 779.96h29.6v3.56h-29.6zM369.3 779.96h27.9v3.56h-27.9zM166.0 786.28h29.6v3.56h-29.6zM253.2 786.28h29.6v3.56h-29.6zM195.1 792.59h58.7v3.56h-58.7zM282.2 792.59h29.6v3.56h-29.6zM979.2 792.59h29.6v3.56h-29.6zM282.2 795.75h58.7v3.56h-58.7zM369.3 795.75h27.9v3.56h-27.9zM224.1 798.91h29.6v3.56h-29.6zM224.1 802.06h29.6v3.56h-29.6zM282.2 802.06h29.6v3.56h-29.6zM979.2 802.06h29.6v3.56h-29.6zM253.2 805.22h29.6v3.56h-29.6zM369.3 808.38h27.9v3.56h-27.9zM253.2 811.54h29.6v3.56h-29.6zM311.2 811.54h29.6v3.56h-29.6zM195.1 814.70h29.6v3.56h-29.6zM979.2 814.70h29.6v3.56h-29.6zM311.2 821.01h29.6v3.56h-29.6zM369.3 821.01h27.9v3.56h-27.9zM166.0 824.17h29.6v3.56h-29.6zM979.2 824.17h29.6v3.56h-29.6zM166.0 827.33h58.7v3.56h-58.7zM166.0 830.48h58.7v3.56h-58.7zM340.3 830.48h29.6v3.56h-29.6zM311.2 833.64h29.6v3.56h-29.6zM369.3 833.64h27.9v3.56h-27.9zM979.2 833.64h29.6v3.56h-29.6z"/><path fill="#e9f6e8" d="M863.0 186.30h29.6v3.56h-29.6zM601.6 217.88h29.6v3.56h-29.6zM804.9 221.04h58.7v3.56h-58.7zM543.6 230.51h29.6v3.56h-29.6zM688.8 230.51h29.6v3.56h-29.6zM1037.2 236.82h29.6v3.56h-29.6zM543.6 239.98h29.6v3.56h-29.6zM834.0 239.98h29.6v3.56h-29.6zM543.6 252.61h29.6v3.56h-29.6zM601.6 258.93h29.6v3.56h-29.6zM950.1 268.40h29.6v3.56h-29.6zM601.6 271.56h29.6v3.56h-29.6zM775.9 281.03h29.6v3.56h-29.6zM950.1 290.51h29.6v3.56h-29.6zM775.9 293.66h29.6v3.56h-29.6zM514.5 322.08h29.6v3.56h-29.6zM572.6 322.08h29.6v3.56h-29.6zM630.7 322.08h29.6v3.56h-29.6zM688.8 325.24h29.6v3.56h-29.6zM834.0 328.40h29.6v3.56h-29.6zM427.4 334.72h29.6v3.56h-29.6zM717.8 334.72h58.7v3.56h-58.7zM775.9 341.03h29.6v3.56h-29.6zM630.7 347.35h29.6v3.56h-29.6zM514.5 350.50h29.6v3.56h-29.6zM630.7 350.50h29.6v3.56h-29.6zM775.9 350.50h29.6v3.56h-29.6zM834.0 350.50h29.6v3.56h-29.6zM485.5 356.82h29.6v3.56h-29.6zM775.9 356.82h29.6v3.56h-29.6zM572.6 359.98h29.6v3.56h-29.6zM572.6 363.13h29.6v3.56h-29.6zM834.0 375.77h29.6v3.56h-29.6zM1008.2 378.92h29.6v3.56h-29.6zM572.6 385.24h29.6v3.56h-29.6zM834.0 388.40h29.6v3.56h-29.6zM892.0 388.40h30.6v3.56h-30.6zM746.8 391.55h29.6v3.56h-29.6zM659.7 397.87h29.6v3.56h-29.6zM688.8 401.03h29.6v3.56h-29.6zM688.8 404.19h29.6v3.56h-29.6zM892.0 404.19h30.6v3.56h-30.6zM427.4 416.82h29.6v3.56h-29.6zM804.9 416.82h29.6v3.56h-29.6zM485.5 419.97h29.6v3.56h-29.6zM485.5 429.45h29.6v3.56h-29.6zM746.8 438.92h29.6v3.56h-29.6zM485.5 445.24h29.6v3.56h-29.6zM396.6 448.39h31.4v3.56h-31.4zM834.0 448.39h29.6v3.56h-29.6zM485.5 451.55h29.6v3.56h-29.6zM746.8 451.55h29.6v3.56h-29.6zM514.5 457.87h29.6v3.56h-29.6zM601.6 457.87h29.6v3.56h-29.6zM892.0 457.87h30.6v3.56h-30.6zM775.9 461.03h29.6v3.56h-29.6zM834.0 461.03h29.6v3.56h-29.6zM746.8 464.18h58.7v3.56h-58.7zM485.5 467.34h29.6v3.56h-29.6zM427.4 495.76h29.6v3.56h-29.6zM572.6 495.76h29.6v3.56h-29.6zM514.5 498.92h29.6v3.56h-29.6zM601.6 498.92h29.6v3.56h-29.6zM775.9 498.92h29.6v3.56h-29.6zM485.5 505.23h29.6v3.56h-29.6zM572.6 505.23h29.6v3.56h-29.6zM922.0 505.23h28.7v3.56h-28.7zM601.6 511.55h29.6v3.56h-29.6zM775.9 511.55h29.6v3.56h-29.6zM717.8 514.71h29.6v3.56h-29.6zM834.0 514.71h58.7v3.56h-58.7zM834.0 517.87h58.7v3.56h-58.7zM775.9 521.02h29.6v3.56h-29.6zM863.0 524.18h29.6v3.56h-29.6zM572.6 530.50h29.6v3.56h-29.6zM834.0 530.50h29.6v3.56h-29.6zM282.2 533.65h58.7v3.56h-58.7zM166.0 536.81h29.6v3.56h-29.6zM282.2 536.81h58.7v3.56h-58.7zM369.3 536.81h27.9v3.56h-27.9zM979.2 536.81h29.6v3.56h-29.6zM137.0 539.97h58.7v3.56h-58.7zM224.1 543.13h29.6v3.56h-29.6zM369.3 546.29h27.9v3.56h-27.9zM224.1 549.44h29.6v3.56h-29.6zM311.2 549.44h29.6v3.56h-29.6zM311.2 552.60h29.6v3.56h-29.6zM369.3 552.60h27.9v3.56h-27.9zM311.2 555.76h29.6v3.56h-29.6zM195.1 558.92h29.6v3.56h-29.6zM253.2 562.07h29.6v3.56h-29.6zM311.2 562.07h29.6v3.56h-29.6zM137.0 565.23h29.6v3.56h-29.6zM253.2 565.23h29.6v3.56h-29.6zM340.3 568.39h29.6v3.56h-29.6zM166.0 571.55h58.7v3.56h-58.7zM282.2 574.71h29.6v3.56h-29.6zM340.3 574.71h29.6v3.56h-29.6zM195.1 581.02h29.6v3.56h-29.6zM166.0 584.18h58.7v3.56h-58.7zM340.3 584.18h29.6v3.56h-29.6zM195.1 587.34h29.6v3.56h-29.6zM195.1 590.49h29.6v3.56h-29.6zM282.2 590.49h29.6v3.56h-29.6zM427.4 590.49h29.6v3.56h-29.6zM922.0 590.49h57.8v3.56h-57.8zM137.0 593.65h29.6v3.56h-29.6zM195.1 593.65h29.6v3.56h-29.6zM253.2 593.65h29.6v3.56h-29.6zM340.3 593.65h29.6v3.56h-29.6zM195.1 599.97h29.6v3.56h-29.6zM340.3 599.97h29.6v3.56h-29.6zM195.1 603.13h29.6v3.56h-29.6zM282.2 606.28h29.6v3.56h-29.6zM137.0 609.44h29.6v3.56h-29.6zM253.2 609.44h29.6v3.56h-29.6zM282.2 612.60h29.6v3.56h-29.6zM311.2 615.76h29.6v3.56h-29.6zM195.1 618.91h29.6v3.56h-29.6zM282.2 618.91h29.6v3.56h-29.6zM137.0 622.07h29.6v3.56h-29.6zM979.2 622.07h29.6v3.56h-29.6zM195.1 625.23h29.6v3.56h-29.6zM979.2 625.23h29.6v3.56h-29.6zM195.1 628.39h29.6v3.56h-29.6zM369.3 628.39h27.9v3.56h-27.9zM166.0 631.55h29.6v3.56h-29.6zM311.2 631.55h29.6v3.56h-29.6zM950.1 631.55h29.6v3.56h-29.6zM137.0 637.86h29.6v3.56h-29.6zM253.2 641.02h29.6v3.56h-29.6zM137.0 644.18h29.6v3.56h-29.6zM369.3 644.18h27.9v3.56h-27.9zM282.2 647.33h29.6v3.56h-29.6zM950.1 647.33h29.6v3.56h-29.6zM166.0 650.49h29.6v3.56h-29.6zM950.1 650.49h29.6v3.56h-29.6zM224.1 653.65h29.6v3.56h-29.6zM340.3 653.65h29.6v3.56h-29.6zM950.1 653.65h29.6v3.56h-29.6zM137.0 656.81h29.6v3.56h-29.6zM166.0 659.97h29.6v3.56h-29.6zM282.2 659.97h29.6v3.56h-29.6zM166.0 663.12h58.7v3.56h-58.7zM253.2 663.12h29.6v3.56h-29.6zM369.3 663.12h27.9v3.56h-27.9zM195.1 666.28h29.6v3.56h-29.6zM195.1 672.60h29.6v3.56h-29.6zM282.2 672.60h29.6v3.56h-29.6zM340.3 672.60h29.6v3.56h-29.6zM137.0 678.91h29.6v3.56h-29.6zM340.3 678.91h29.6v3.56h-29.6zM369.3 682.07h27.9v3.56h-27.9zM253.2 685.23h58.7v3.56h-58.7zM340.3 685.23h56.9v3.56h-56.9zM166.0 694.70h29.6v3.56h-29.6zM253.2 697.86h58.7v3.56h-58.7zM369.3 697.86h27.9v3.56h-27.9zM979.2 697.86h29.6v3.56h-29.6zM137.0 701.02h29.6v3.56h-29.6zM340.3 701.02h56.9v3.56h-56.9zM979.2 701.02h29.6v3.56h-29.6zM340.3 704.17h29.6v3.56h-29.6zM979.2 704.17h29.6v3.56h-29.6zM369.3 707.33h27.9v3.56h-27.9zM137.0 710.49h58.7v3.56h-58.7zM369.3 710.49h27.9v3.56h-27.9zM137.0 713.65h29.6v3.56h-29.6zM282.2 713.65h29.6v3.56h-29.6zM253.2 716.80h29.6v3.56h-29.6zM340.3 716.80h29.6v3.56h-29.6zM166.0 719.96h29.6v3.56h-29.6zM369.3 719.96h27.9v3.56h-27.9zM311.2 723.12h58.7v3.56h-58.7zM166.0 726.28h29.6v3.56h-29.6zM311.2 726.28h29.6v3.56h-29.6zM311.2 729.44h86.0v3.56h-86.0zM195.1 732.59h29.6v3.56h-29.6zM340.3 732.59h29.6v3.56h-29.6zM282.2 735.75h29.6v3.56h-29.6zM224.1 738.91h29.6v3.56h-29.6zM282.2 738.91h87.7v3.56h-87.7zM282.2 742.07h29.6v3.56h-29.6zM340.3 742.07h56.9v3.56h-56.9zM224.1 745.22h58.7v3.56h-58.7zM369.3 745.22h27.9v3.56h-27.9zM224.1 748.38h58.7v3.56h-58.7zM311.2 748.38h29.6v3.56h-29.6zM282.2 751.54h29.6v3.56h-29.6zM340.3 751.54h29.6v3.56h-29.6zM1037.2 751.54h29.6v3.56h-29.6zM340.3 754.70h29.6v3.56h-29.6zM253.2 761.01h29.6v3.56h-29.6zM340.3 761.01h29.6v3.56h-29.6zM195.1 767.33h29.6v3.56h-29.6zM253.2 767.33h29.6v3.56h-29.6zM311.2 770.49h29.6v3.56h-29.6zM253.2 773.64h29.6v3.56h-29.6zM340.3 773.64h29.6v3.56h-29.6zM253.2 776.80h29.6v3.56h-29.6zM311.2 776.80h58.7v3.56h-58.7zM137.0 783.12h29.6v3.56h-29.6zM224.1 783.12h87.7v3.56h-87.7zM195.1 786.28h58.7v3.56h-58.7zM282.2 786.28h29.6v3.56h-29.6zM369.3 786.28h27.9v3.56h-27.9zM224.1 789.43h87.7v3.56h-87.7zM369.3 789.43h27.9v3.56h-27.9zM1037.2 789.43h29.6v3.56h-29.6zM137.0 792.59h29.6v3.56h-29.6zM340.3 792.59h56.9v3.56h-56.9zM253.2 795.75h29.6v3.56h-29.6zM979.2 795.75h29.6v3.56h-29.6zM369.3 798.91h27.9v3.56h-27.9zM979.2 798.91h29.6v3.56h-29.6zM195.1 802.06h29.6v3.56h-29.6zM282.2 805.22h29.6v3.56h-29.6zM369.3 805.22h27.9v3.56h-27.9zM979.2 805.22h29.6v3.56h-29.6zM282.2 808.38h29.6v3.56h-29.6zM979.2 808.38h29.6v3.56h-29.6zM195.1 811.54h29.6v3.56h-29.6zM340.3 811.54h56.9v3.56h-56.9zM137.0 814.70h29.6v3.56h-29.6zM195.1 817.85h29.6v3.56h-29.6zM979.2 817.85h29.6v3.56h-29.6zM979.2 821.01h29.6v3.56h-29.6zM979.2 827.33h29.6v3.56h-29.6zM369.3 830.48h27.9v3.56h-27.9zM166.0 833.64h29.6v3.56h-29.6z"/><path fill="#ecf8e2" d="M543.6 186.30h29.6v3.56h-29.6zM1008.2 189.46h29.6v3.56h-29.6zM601.6 192.62h29.6v3.56h-29.6zM775.9 192.62h29.6v3.56h-29.6zM543.6 195.77h29.6v3.56h-29.6zM688.8 195.77h29.6v3.56h-29.6zM543.6 205.25h29.6v3.56h-29.6zM601.6 208.40h29.6v3.56h-29.6zM688.8 208.40h29.6v3.56h-29.6zM543.6 211.56h29.6v3.56h-29.6zM543.6 214.72h29.6v3.56h-29.6zM834.0 230.51h29.6v3.56h-29.6zM688.8 233.67h29.6v3.56h-29.6zM834.0 236.82h29.6v3.56h-29.6zM543.6 243.14h29.6v3.56h-29.6zM659.7 243.14h29.6v3.56h-29.6zM543.6 246.30h29.6v3.56h-29.6zM601.6 246.30h29.6v3.56h-29.6zM601.6 249.46h29.6v3.56h-29.6zM834.0 258.93h29.6v3.56h-29.6zM601.6 265.24h29.6v3.56h-29.6zM863.0 265.24h29.6v3.56h-29.6zM543.6 268.40h29.6v3.56h-29.6zM601.6 268.40h29.6v3.56h-29.6zM1037.2 268.40h29.6v3.56h-29.6zM922.0 271.56h28.7v3.56h-28.7zM1066.3 271.56h29.0v3.56h-29.0zM601.6 274.72h29.6v3.56h-29.6zM659.7 281.03h29.6v3.56h-29.6zM543.6 284.19h29.6v3.56h-29.6zM543.6 287.35h29.6v3.56h-29.6zM717.8 290.51h29.6v3.56h-29.6zM396.6 296.82h31.4v3.56h-31.4zM659.7 296.82h29.6v3.56h-29.6zM572.6 303.14h29.6v3.56h-29.6zM659.7 312.61h29.6v3.56h-29.6zM775.9 312.61h29.6v3.56h-29.6zM863.0 315.77h29.6v3.56h-29.6zM630.7 318.93h87.7v3.56h-87.7zM804.9 322.08h29.6v3.56h-29.6zM892.0 322.08h30.6v3.56h-30.6zM514.5 325.24h29.6v3.56h-29.6zM601.6 325.24h29.6v3.56h-29.6zM572.6 334.72h29.6v3.56h-29.6zM834.0 334.72h29.6v3.56h-29.6zM601.6 337.87h29.6v3.56h-29.6zM775.9 337.87h29.6v3.56h-29.6zM863.0 341.03h29.6v3.56h-29.6zM485.5 347.35h29.6v3.56h-29.6zM572.6 347.35h29.6v3.56h-29.6zM804.9 347.35h29.6v3.56h-29.6zM892.0 347.35h30.6v3.56h-30.6zM485.5 353.66h29.6v3.56h-29.6zM775.9 353.66h29.6v3.56h-29.6zM834.0 356.82h58.7v3.56h-58.7zM485.5 359.98h29.6v3.56h-29.6zM630.7 359.98h29.6v3.56h-29.6zM543.6 363.13h29.6v3.56h-29.6zM601.6 363.13h29.6v3.56h-29.6zM601.6 366.29h29.6v3.56h-29.6zM950.1 366.29h29.6v3.56h-29.6zM427.4 369.45h29.6v3.56h-29.6zM1008.2 369.45h29.6v3.56h-29.6zM485.5 372.61h29.6v3.56h-29.6zM427.4 385.24h29.6v3.56h-29.6zM485.5 385.24h29.6v3.56h-29.6zM775.9 385.24h29.6v3.56h-29.6zM775.9 391.55h29.6v3.56h-29.6zM863.0 397.87h29.6v3.56h-29.6zM456.4 401.03h29.6v3.56h-29.6zM659.7 401.03h29.6v3.56h-29.6zM195.1 407.34h29.6v3.56h-29.6zM834.0 410.50h29.6v3.56h-29.6zM922.0 413.66h28.7v3.56h-28.7zM543.6 416.82h29.6v3.56h-29.6zM834.0 416.82h29.6v3.56h-29.6zM195.1 419.97h29.6v3.56h-29.6zM572.6 419.97h29.6v3.56h-29.6zM485.5 426.29h29.6v3.56h-29.6zM746.8 426.29h29.6v3.56h-29.6zM427.4 442.08h29.6v3.56h-29.6zM514.5 445.24h29.6v3.56h-29.6zM717.8 445.24h29.6v3.56h-29.6zM456.4 451.55h29.6v3.56h-29.6zM485.5 454.71h29.6v3.56h-29.6zM834.0 454.71h29.6v3.56h-29.6zM572.6 457.87h29.6v3.56h-29.6zM630.7 457.87h29.6v3.56h-29.6zM804.9 457.87h29.6v3.56h-29.6zM485.5 461.03h29.6v3.56h-29.6zM892.0 461.03h58.7v3.56h-58.7zM456.4 464.18h29.6v3.56h-29.6zM804.9 464.18h29.6v3.56h-29.6zM601.6 467.34h29.6v3.56h-29.6zM863.0 467.34h29.6v3.56h-29.6zM746.8 476.81h29.6v3.56h-29.6zM834.0 476.81h29.6v3.56h-29.6zM427.4 483.13h29.6v3.56h-29.6zM775.9 483.13h29.6v3.56h-29.6zM804.9 486.29h29.6v3.56h-29.6zM601.6 489.45h29.6v3.56h-29.6zM688.8 489.45h29.6v3.56h-29.6zM572.6 492.60h29.6v3.56h-29.6zM659.7 492.60h29.6v3.56h-29.6zM717.8 492.60h58.7v3.56h-58.7zM834.0 492.60h29.6v3.56h-29.6zM396.6 495.76h31.4v3.56h-31.4zM485.5 495.76h29.6v3.56h-29.6zM601.6 495.76h29.6v3.56h-29.6zM775.9 495.76h29.6v3.56h-29.6zM834.0 495.76h29.6v3.56h-29.6zM892.0 495.76h30.6v3.56h-30.6zM717.8 498.92h58.7v3.56h-58.7zM804.9 498.92h29.6v3.56h-29.6zM775.9 502.08h29.6v3.56h-29.6zM804.9 505.23h29.6v3.56h-29.6zM775.9 508.39h29.6v3.56h-29.6zM630.7 514.71h29.6v3.56h-29.6zM746.8 514.71h29.6v3.56h-29.6zM775.9 517.87h58.7v3.56h-58.7zM950.1 527.34h29.6v3.56h-29.6zM340.3 533.65h29.6v3.56h-29.6zM1066.3 533.65h29.0v3.56h-29.0zM311.2 546.29h29.6v3.56h-29.6zM137.0 552.60h29.6v3.56h-29.6zM224.1 552.60h29.6v3.56h-29.6zM282.2 555.76h29.6v3.56h-29.6zM340.3 555.76h56.9v3.56h-56.9zM166.0 558.92h29.6v3.56h-29.6zM224.1 558.92h29.6v3.56h-29.6zM282.2 558.92h29.6v3.56h-29.6zM340.3 558.92h29.6v3.56h-29.6zM922.0 558.92h28.7v3.56h-28.7zM137.0 562.07h29.6v3.56h-29.6zM195.1 565.23h29.6v3.56h-29.6zM282.2 565.23h58.7v3.56h-58.7zM369.3 565.23h27.9v3.56h-27.9zM166.0 568.39h29.6v3.56h-29.6zM253.2 568.39h29.6v3.56h-29.6zM427.4 568.39h29.6v3.56h-29.6zM369.3 571.55h27.9v3.56h-27.9zM137.0 574.71h87.7v3.56h-87.7zM253.2 574.71h29.6v3.56h-29.6zM311.2 574.71h29.6v3.56h-29.6zM369.3 574.71h27.9v3.56h-27.9zM195.1 577.86h29.6v3.56h-29.6zM369.3 577.86h27.9v3.56h-27.9zM224.1 581.02h29.6v3.56h-29.6zM922.0 581.02h28.7v3.56h-28.7zM137.0 587.34h29.6v3.56h-29.6zM224.1 587.34h29.6v3.56h-29.6zM253.2 590.49h29.6v3.56h-29.6zM195.1 596.81h29.6v3.56h-29.6zM166.0 599.97h29.6v3.56h-29.6zM1037.2 599.97h29.6v3.56h-29.6zM137.0 603.13h58.7v3.56h-58.7zM369.3 603.13h27.9v3.56h-27.9zM253.2 606.28h29.6v3.56h-29.6zM340.3 606.28h29.6v3.56h-29.6zM195.1 609.44h29.6v3.56h-29.6zM1037.2 609.44h29.6v3.56h-29.6zM137.0 612.60h58.7v3.56h-58.7zM311.2 612.60h29.6v3.56h-29.6zM1037.2 612.60h29.6v3.56h-29.6zM166.0 615.76h29.6v3.56h-29.6zM137.0 618.91h58.7v3.56h-58.7zM253.2 618.91h29.6v3.56h-29.6zM369.3 618.91h27.9v3.56h-27.9zM224.1 622.07h29.6v3.56h-29.6zM224.1 625.23h29.6v3.56h-29.6zM311.2 628.39h58.7v3.56h-58.7zM137.0 631.55h29.6v3.56h-29.6zM195.1 631.55h29.6v3.56h-29.6zM369.3 634.70h27.9v3.56h-27.9zM224.1 641.02h29.6v3.56h-29.6zM922.0 644.18h28.7v3.56h-28.7zM340.3 647.33h29.6v3.56h-29.6zM922.0 647.33h28.7v3.56h-28.7zM137.0 650.49h29.6v3.56h-29.6zM282.2 650.49h58.7v3.56h-58.7zM340.3 656.81h29.6v3.56h-29.6zM979.2 656.81h29.6v3.56h-29.6zM369.3 659.97h27.9v3.56h-27.9zM340.3 663.12h29.6v3.56h-29.6zM224.1 666.28h29.6v3.56h-29.6zM979.2 666.28h29.6v3.56h-29.6zM195.1 669.44h58.7v3.56h-58.7zM166.0 672.60h29.6v3.56h-29.6zM979.2 672.60h29.6v3.56h-29.6zM166.0 675.75h29.6v3.56h-29.6zM282.2 675.75h29.6v3.56h-29.6zM369.3 675.75h27.9v3.56h-27.9zM195.1 678.91h87.7v3.56h-87.7zM979.2 678.91h29.6v3.56h-29.6zM311.2 682.07h29.6v3.56h-29.6zM979.2 682.07h29.6v3.56h-29.6zM137.0 685.23h29.6v3.56h-29.6zM311.2 691.54h29.6v3.56h-29.6zM282.2 694.70h29.6v3.56h-29.6zM195.1 697.86h29.6v3.56h-29.6zM340.3 697.86h29.6v3.56h-29.6zM253.2 701.02h58.7v3.56h-58.7zM369.3 704.17h27.9v3.56h-27.9zM195.1 707.33h29.6v3.56h-29.6zM979.2 707.33h29.6v3.56h-29.6zM195.1 713.65h29.6v3.56h-29.6zM195.1 719.96h58.7v3.56h-58.7zM166.0 723.12h29.6v3.56h-29.6zM282.2 729.44h29.6v3.56h-29.6zM979.2 729.44h29.6v3.56h-29.6zM1008.2 735.75h29.6v3.56h-29.6zM195.1 738.91h29.6v3.56h-29.6zM253.2 738.91h29.6v3.56h-29.6zM1008.2 738.91h29.6v3.56h-29.6zM253.2 742.07h29.6v3.56h-29.6zM311.2 742.07h29.6v3.56h-29.6zM1037.2 742.07h29.6v3.56h-29.6zM195.1 745.22h29.6v3.56h-29.6zM340.3 745.22h29.6v3.56h-29.6zM195.1 751.54h29.6v3.56h-29.6zM311.2 751.54h29.6v3.56h-29.6zM137.0 757.86h29.6v3.56h-29.6zM253.2 757.86h87.7v3.56h-87.7zM979.2 757.86h29.6v3.56h-29.6zM166.0 761.01h29.6v3.56h-29.6zM195.1 764.17h29.6v3.56h-29.6zM282.2 764.17h29.6v3.56h-29.6zM137.0 767.33h58.7v3.56h-58.7zM311.2 767.33h29.6v3.56h-29.6zM166.0 770.49h58.7v3.56h-58.7zM224.1 773.64h29.6v3.56h-29.6zM224.1 776.80h29.6v3.56h-29.6zM369.3 783.12h27.9v3.56h-27.9zM137.0 786.28h29.6v3.56h-29.6zM311.2 786.28h29.6v3.56h-29.6zM137.0 789.43h29.6v3.56h-29.6zM340.3 789.43h29.6v3.56h-29.6zM979.2 789.43h29.6v3.56h-29.6zM1008.2 792.59h58.7v3.56h-58.7zM166.0 795.75h29.6v3.56h-29.6zM224.1 795.75h29.6v3.56h-29.6zM340.3 795.75h29.6v3.56h-29.6zM137.0 798.91h29.6v3.56h-29.6zM1008.2 798.91h29.6v3.56h-29.6zM137.0 802.06h29.6v3.56h-29.6zM369.3 802.06h27.9v3.56h-27.9zM195.1 805.22h58.7v3.56h-58.7zM166.0 808.38h58.7v3.56h-58.7zM311.2 808.38h58.7v3.56h-58.7zM1008.2 808.38h29.6v3.56h-29.6zM224.1 811.54h29.6v3.56h-29.6zM224.1 814.70h29.6v3.56h-29.6zM340.3 814.70h29.6v3.56h-29.6zM137.0 821.01h29.6v3.56h-29.6zM253.2 821.01h29.6v3.56h-29.6zM224.1 824.17h29.6v3.56h-29.6zM369.3 824.17h27.9v3.56h-27.9zM137.0 830.48h29.6v3.56h-29.6zM224.1 830.48h29.6v3.56h-29.6zM137.0 833.64h29.6v3.56h-29.6zM195.1 833.64h29.6v3.56h-29.6z"/><path fill="#eff9dd" d="M775.9 186.30h87.7v3.56h-87.7zM1037.2 186.30h29.6v3.56h-29.6zM543.6 189.46h29.6v3.56h-29.6zM543.6 192.62h29.6v3.56h-29.6zM601.6 195.77h29.6v3.56h-29.6zM659.7 195.77h29.6v3.56h-29.6zM804.9 195.77h29.6v3.56h-29.6zM601.6 198.93h29.6v3.56h-29.6zM863.0 198.93h29.6v3.56h-29.6zM514.5 202.09h29.6v3.56h-29.6zM775.9 202.09h29.6v3.56h-29.6zM601.6 205.25h29.6v3.56h-29.6zM775.9 208.40h29.6v3.56h-29.6zM514.5 217.88h29.6v3.56h-29.6zM717.8 217.88h29.6v3.56h-29.6zM775.9 221.04h29.6v3.56h-29.6zM834.0 224.19h29.6v3.56h-29.6zM775.9 230.51h29.6v3.56h-29.6zM543.6 236.82h29.6v3.56h-29.6zM775.9 236.82h29.6v3.56h-29.6zM659.7 239.98h29.6v3.56h-29.6zM659.7 249.46h29.6v3.56h-29.6zM659.7 258.93h29.6v3.56h-29.6zM746.8 258.93h29.6v3.56h-29.6zM834.0 262.09h29.6v3.56h-29.6zM572.6 265.24h29.6v3.56h-29.6zM630.7 265.24h58.7v3.56h-58.7zM922.0 268.40h28.7v3.56h-28.7zM1008.2 268.40h29.6v3.56h-29.6zM514.5 271.56h29.6v3.56h-29.6zM630.7 271.56h58.7v3.56h-58.7zM543.6 274.72h29.6v3.56h-29.6zM775.9 274.72h29.6v3.56h-29.6zM485.5 281.03h29.6v3.56h-29.6zM863.0 281.03h29.6v3.56h-29.6zM804.9 284.19h29.6v3.56h-29.6zM922.0 284.19h28.7v3.56h-28.7zM834.0 287.35h29.6v3.56h-29.6zM834.0 290.51h29.6v3.56h-29.6zM572.6 296.82h29.6v3.56h-29.6zM892.0 296.82h30.6v3.56h-30.6zM834.0 303.14h29.6v3.56h-29.6zM834.0 312.61h29.6v3.56h-29.6zM834.0 315.77h29.6v3.56h-29.6zM601.6 318.93h29.6v3.56h-29.6zM834.0 318.93h29.6v3.56h-29.6zM427.4 322.08h29.6v3.56h-29.6zM950.1 322.08h29.6v3.56h-29.6zM630.7 325.24h29.6v3.56h-29.6zM746.8 325.24h29.6v3.56h-29.6zM601.6 328.40h29.6v3.56h-29.6zM804.9 328.40h29.6v3.56h-29.6zM775.9 331.56h29.6v3.56h-29.6zM543.6 334.72h29.6v3.56h-29.6zM892.0 334.72h30.6v3.56h-30.6zM485.5 337.87h29.6v3.56h-29.6zM804.9 337.87h58.7v3.56h-58.7zM485.5 341.03h58.7v3.56h-58.7zM834.0 344.19h58.7v3.56h-58.7zM950.1 344.19h29.6v3.56h-29.6zM1008.2 344.19h29.6v3.56h-29.6zM396.6 347.35h60.4v3.56h-60.4zM514.5 347.35h29.6v3.56h-29.6zM659.7 347.35h29.6v3.56h-29.6zM601.6 350.50h29.6v3.56h-29.6zM659.7 350.50h29.6v3.56h-29.6zM543.6 353.66h29.6v3.56h-29.6zM834.0 353.66h29.6v3.56h-29.6zM572.6 356.82h29.6v3.56h-29.6zM630.7 356.82h58.7v3.56h-58.7zM717.8 356.82h29.6v3.56h-29.6zM601.6 359.98h29.6v3.56h-29.6zM659.7 359.98h29.6v3.56h-29.6zM775.9 366.29h29.6v3.56h-29.6zM863.0 366.29h29.6v3.56h-29.6zM979.2 366.29h29.6v3.56h-29.6zM427.4 375.77h29.6v3.56h-29.6zM834.0 385.24h29.6v3.56h-29.6zM396.6 388.40h31.4v3.56h-31.4zM659.7 388.40h29.6v3.56h-29.6zM717.8 388.40h29.6v3.56h-29.6zM456.4 391.55h29.6v3.56h-29.6zM601.6 394.71h29.6v3.56h-29.6zM834.0 394.71h29.6v3.56h-29.6zM456.4 397.87h29.6v3.56h-29.6zM630.7 397.87h29.6v3.56h-29.6zM601.6 401.03h29.6v3.56h-29.6zM1066.3 401.03h29.0v3.56h-29.0zM195.1 404.19h29.6v3.56h-29.6zM746.8 404.19h29.6v3.56h-29.6zM834.0 404.19h29.6v3.56h-29.6zM195.1 410.50h29.6v3.56h-29.6zM485.5 410.50h29.6v3.56h-29.6zM572.6 416.82h29.6v3.56h-29.6zM659.7 416.82h29.6v3.56h-29.6zM746.8 416.82h29.6v3.56h-29.6zM485.5 423.13h29.6v3.56h-29.6zM892.0 423.13h30.6v3.56h-30.6zM572.6 429.45h29.6v3.56h-29.6zM485.5 432.61h29.6v3.56h-29.6zM746.8 432.61h29.6v3.56h-29.6zM485.5 435.76h29.6v3.56h-29.6zM746.8 435.76h58.7v3.56h-58.7zM485.5 442.08h29.6v3.56h-29.6zM746.8 442.08h29.6v3.56h-29.6zM863.0 442.08h29.6v3.56h-29.6zM1037.2 442.08h29.6v3.56h-29.6zM775.9 445.24h29.6v3.56h-29.6zM834.0 445.24h29.6v3.56h-29.6zM863.0 448.39h29.6v3.56h-29.6zM950.1 451.55h29.6v3.56h-29.6zM396.6 454.71h31.4v3.56h-31.4zM514.5 454.71h29.6v3.56h-29.6zM396.6 457.87h31.4v3.56h-31.4zM746.8 457.87h29.6v3.56h-29.6zM863.0 457.87h29.6v3.56h-29.6zM514.5 461.03h29.6v3.56h-29.6zM717.8 461.03h58.7v3.56h-58.7zM396.6 464.18h31.4v3.56h-31.4zM688.8 464.18h29.6v3.56h-29.6zM717.8 467.34h29.6v3.56h-29.6zM775.9 467.34h29.6v3.56h-29.6zM514.5 470.50h29.6v3.56h-29.6zM746.8 473.66h29.6v3.56h-29.6zM834.0 473.66h29.6v3.56h-29.6zM427.4 476.81h29.6v3.56h-29.6zM717.8 476.81h29.6v3.56h-29.6zM775.9 479.97h29.6v3.56h-29.6zM804.9 483.13h29.6v3.56h-29.6zM514.5 489.45h58.7v3.56h-58.7zM717.8 489.45h29.6v3.56h-29.6zM485.5 492.60h29.6v3.56h-29.6zM892.0 492.60h30.6v3.56h-30.6zM688.8 495.76h29.6v3.56h-29.6zM804.9 495.76h29.6v3.56h-29.6zM863.0 495.76h29.6v3.56h-29.6zM427.4 498.92h29.6v3.56h-29.6zM543.6 498.92h29.6v3.56h-29.6zM834.0 498.92h29.6v3.56h-29.6zM601.6 502.08h29.6v3.56h-29.6zM834.0 502.08h29.6v3.56h-29.6zM601.6 505.23h29.6v3.56h-29.6zM775.9 505.23h29.6v3.56h-29.6zM892.0 505.23h30.6v3.56h-30.6zM688.8 511.55h29.6v3.56h-29.6zM601.6 514.71h29.6v3.56h-29.6zM804.9 514.71h29.6v3.56h-29.6zM892.0 514.71h30.6v3.56h-30.6zM485.5 517.87h29.6v3.56h-29.6zM1008.2 517.87h29.6v3.56h-29.6zM922.0 521.02h28.7v3.56h-28.7zM543.6 524.18h29.6v3.56h-29.6zM543.6 527.34h29.6v3.56h-29.6zM775.9 527.34h29.6v3.56h-29.6zM224.1 533.65h29.6v3.56h-29.6zM572.6 533.65h29.6v3.56h-29.6zM224.1 536.81h29.6v3.56h-29.6zM396.6 536.81h60.4v3.56h-60.4zM224.1 539.97h29.6v3.56h-29.6zM166.0 543.13h29.6v3.56h-29.6zM282.2 543.13h29.6v3.56h-29.6zM340.3 543.13h29.6v3.56h-29.6zM396.6 543.13h31.4v3.56h-31.4zM137.0 546.29h29.6v3.56h-29.6zM224.1 546.29h29.6v3.56h-29.6zM282.2 546.29h29.6v3.56h-29.6zM396.6 546.29h31.4v3.56h-31.4zM137.0 549.44h58.7v3.56h-58.7zM253.2 549.44h58.7v3.56h-58.7zM166.0 552.60h29.6v3.56h-29.6zM137.0 555.76h58.7v3.56h-58.7zM137.0 558.92h29.6v3.56h-29.6zM369.3 558.92h27.9v3.56h-27.9zM166.0 562.07h29.6v3.56h-29.6zM224.1 562.07h29.6v3.56h-29.6zM340.3 562.07h56.9v3.56h-56.9zM340.3 565.23h29.6v3.56h-29.6zM922.0 565.23h28.7v3.56h-28.7zM224.1 568.39h29.6v3.56h-29.6zM922.0 568.39h28.7v3.56h-28.7zM922.0 571.55h28.7v3.56h-28.7zM922.0 574.71h28.7v3.56h-28.7zM224.1 577.86h29.6v3.56h-29.6zM922.0 577.86h28.7v3.56h-28.7zM137.0 584.18h29.6v3.56h-29.6zM253.2 584.18h29.6v3.56h-29.6zM369.3 584.18h27.9v3.56h-27.9zM922.0 587.34h28.7v3.56h-28.7zM1066.3 587.34h29.0v3.56h-29.0zM369.3 593.65h27.9v3.56h-27.9zM979.2 599.97h29.6v3.56h-29.6zM340.3 603.13h29.6v3.56h-29.6zM979.2 603.13h29.6v3.56h-29.6zM1037.2 603.13h29.6v3.56h-29.6zM224.1 606.28h29.6v3.56h-29.6zM369.3 606.28h27.9v3.56h-27.9zM1037.2 606.28h29.6v3.56h-29.6zM979.2 609.44h29.6v3.56h-29.6zM195.1 612.60h29.6v3.56h-29.6zM369.3 612.60h27.9v3.56h-27.9zM137.0 615.76h29.6v3.56h-29.6zM369.3 615.76h27.9v3.56h-27.9zM979.2 615.76h29.6v3.56h-29.6zM224.1 628.39h29.6v3.56h-29.6zM979.2 628.39h29.6v3.56h-29.6zM224.1 631.55h29.6v3.56h-29.6zM340.3 634.70h29.6v3.56h-29.6zM195.1 637.86h58.7v3.56h-58.7zM340.3 637.86h29.6v3.56h-29.6zM922.0 637.86h28.7v3.56h-28.7zM137.0 641.02h29.6v3.56h-29.6zM340.3 644.18h29.6v3.56h-29.6zM979.2 644.18h29.6v3.56h-29.6zM253.2 650.49h29.6v3.56h-29.6zM369.3 650.49h27.9v3.56h-27.9zM979.2 650.49h29.6v3.56h-29.6zM195.1 653.65h29.6v3.56h-29.6zM922.0 656.81h57.8v3.56h-57.8zM253.2 659.97h29.6v3.56h-29.6zM224.1 663.12h29.6v3.56h-29.6zM922.0 663.12h28.7v3.56h-28.7zM253.2 666.28h29.6v3.56h-29.6zM922.0 669.44h28.7v3.56h-28.7zM979.2 669.44h29.6v3.56h-29.6zM224.1 672.60h29.6v3.56h-29.6zM137.0 675.75h29.6v3.56h-29.6zM195.1 675.75h29.6v3.56h-29.6zM340.3 675.75h29.6v3.56h-29.6zM979.2 675.75h29.6v3.56h-29.6zM224.1 685.23h29.6v3.56h-29.6zM543.6 688.38h29.6v3.56h-29.6zM195.1 691.54h29.6v3.56h-29.6zM340.3 691.54h29.6v3.56h-29.6zM195.1 694.70h29.6v3.56h-29.6zM369.3 694.70h27.9v3.56h-27.9zM543.6 694.70h29.6v3.56h-29.6zM137.0 697.86h29.6v3.56h-29.6zM195.1 701.02h29.6v3.56h-29.6zM922.0 701.02h28.7v3.56h-28.7zM137.0 704.17h29.6v3.56h-29.6zM195.1 704.17h58.7v3.56h-58.7zM282.2 704.17h29.6v3.56h-29.6zM950.1 704.17h29.6v3.56h-29.6zM253.2 707.33h58.7v3.56h-58.7zM950.1 707.33h29.6v3.56h-29.6zM224.1 710.49h29.6v3.56h-29.6zM282.2 710.49h29.6v3.56h-29.6zM224.1 713.65h29.6v3.56h-29.6zM195.1 716.80h29.6v3.56h-29.6zM282.2 719.96h29.6v3.56h-29.6zM253.2 723.12h29.6v3.56h-29.6zM369.3 723.12h27.9v3.56h-27.9zM224.1 726.28h29.6v3.56h-29.6zM340.3 726.28h56.9v3.56h-56.9zM224.1 729.44h29.6v3.56h-29.6zM979.2 732.59h29.6v3.56h-29.6zM195.1 742.07h29.6v3.56h-29.6zM282.2 745.22h58.7v3.56h-58.7zM396.6 748.38h31.4v3.56h-31.4zM1037.2 748.38h29.6v3.56h-29.6zM253.2 751.54h29.6v3.56h-29.6zM369.3 751.54h27.9v3.56h-27.9zM166.0 757.86h29.6v3.56h-29.6zM340.3 757.86h87.7v3.56h-87.7zM253.2 764.17h29.6v3.56h-29.6zM311.2 764.17h29.6v3.56h-29.6zM746.8 770.49h29.6v3.56h-29.6zM979.2 770.49h29.6v3.56h-29.6zM369.3 773.64h27.9v3.56h-27.9zM746.8 773.64h29.6v3.56h-29.6zM979.2 776.80h29.6v3.56h-29.6zM195.1 783.12h29.6v3.56h-29.6zM630.7 783.12h29.6v3.56h-29.6zM630.7 789.43h29.6v3.56h-29.6zM1008.2 789.43h29.6v3.56h-29.6zM601.6 792.59h29.6v3.56h-29.6zM137.0 795.75h29.6v3.56h-29.6zM340.3 798.91h29.6v3.56h-29.6zM1008.2 802.06h58.7v3.56h-58.7zM137.0 805.22h29.6v3.56h-29.6zM1008.2 805.22h29.6v3.56h-29.6zM282.2 811.54h29.6v3.56h-29.6zM224.1 817.85h29.6v3.56h-29.6zM282.2 817.85h29.6v3.56h-29.6zM1008.2 817.85h29.6v3.56h-29.6zM166.0 821.01h29.6v3.56h-29.6zM224.1 821.01h29.6v3.56h-29.6zM340.3 821.01h29.6v3.56h-29.6zM427.4 821.01h29.6v3.56h-29.6zM137.0 824.17h29.6v3.56h-29.6zM282.2 824.17h29.6v3.56h-29.6zM1008.2 824.17h29.6v3.56h-29.6zM137.0 827.33h29.6v3.56h-29.6zM224.1 827.33h29.6v3.56h-29.6zM1008.2 827.33h29.6v3.56h-29.6zM282.2 830.48h29.6v3.56h-29.6zM979.2 830.48h58.7v3.56h-58.7zM282.2 833.64h29.6v3.56h-29.6z"/><path fill="#f2fad7" d="M396.6 186.30h31.4v3.56h-31.4zM514.5 186.30h29.6v3.56h-29.6zM863.0 189.46h29.6v3.56h-29.6zM804.9 192.62h29.6v3.56h-29.6zM804.9 198.93h29.6v3.56h-29.6zM688.8 202.09h58.7v3.56h-58.7zM1037.2 202.09h29.6v3.56h-29.6zM427.4 205.25h29.6v3.56h-29.6zM775.9 205.25h58.7v3.56h-58.7zM863.0 205.25h29.6v3.56h-29.6zM630.7 208.40h29.6v3.56h-29.6zM746.8 208.40h29.6v3.56h-29.6zM892.0 208.40h30.6v3.56h-30.6zM775.9 211.56h29.6v3.56h-29.6zM834.0 211.56h29.6v3.56h-29.6zM572.6 217.88h29.6v3.56h-29.6zM688.8 217.88h29.6v3.56h-29.6zM746.8 217.88h87.7v3.56h-87.7zM485.5 221.04h29.6v3.56h-29.6zM601.6 221.04h29.6v3.56h-29.6zM601.6 227.35h29.6v3.56h-29.6zM775.9 227.35h29.6v3.56h-29.6zM601.6 233.67h29.6v3.56h-29.6zM775.9 243.14h29.6v3.56h-29.6zM950.1 243.14h29.6v3.56h-29.6zM1066.3 243.14h29.0v3.56h-29.0zM775.9 246.30h29.6v3.56h-29.6zM834.0 246.30h29.6v3.56h-29.6zM427.4 265.24h29.6v3.56h-29.6zM717.8 265.24h29.6v3.56h-29.6zM775.9 265.24h29.6v3.56h-29.6zM922.0 265.24h57.8v3.56h-57.8zM1066.3 265.24h29.0v3.56h-29.0zM717.8 274.72h29.6v3.56h-29.6zM834.0 274.72h29.6v3.56h-29.6zM543.6 277.88h29.6v3.56h-29.6zM834.0 277.88h29.6v3.56h-29.6zM572.6 281.03h58.7v3.56h-58.7zM717.8 284.19h29.6v3.56h-29.6zM775.9 287.35h58.7v3.56h-58.7zM775.9 290.51h29.6v3.56h-29.6zM543.6 293.66h29.6v3.56h-29.6zM601.6 293.66h29.6v3.56h-29.6zM514.5 296.82h29.6v3.56h-29.6zM688.8 296.82h58.7v3.56h-58.7zM922.0 296.82h28.7v3.56h-28.7zM572.6 299.98h29.6v3.56h-29.6zM950.1 303.14h29.6v3.56h-29.6zM601.6 306.30h29.6v3.56h-29.6zM659.7 306.30h58.7v3.56h-58.7zM922.0 306.30h28.7v3.56h-28.7zM514.5 312.61h29.6v3.56h-29.6zM485.5 315.77h29.6v3.56h-29.6zM775.9 315.77h29.6v3.56h-29.6zM688.8 322.08h29.6v3.56h-29.6zM543.6 325.24h29.6v3.56h-29.6zM804.9 325.24h29.6v3.56h-29.6zM485.5 331.56h29.6v3.56h-29.6zM834.0 331.56h29.6v3.56h-29.6zM892.0 331.56h30.6v3.56h-30.6zM456.4 334.72h29.6v3.56h-29.6zM630.7 334.72h29.6v3.56h-29.6zM863.0 337.87h29.6v3.56h-29.6zM427.4 341.03h29.6v3.56h-29.6zM630.7 341.03h29.6v3.56h-29.6zM775.9 344.19h29.6v3.56h-29.6zM601.6 347.35h29.6v3.56h-29.6zM485.5 350.50h29.6v3.56h-29.6zM543.6 350.50h29.6v3.56h-29.6zM804.9 350.50h29.6v3.56h-29.6zM892.0 350.50h30.6v3.56h-30.6zM863.0 353.66h29.6v3.56h-29.6zM427.4 356.82h29.6v3.56h-29.6zM543.6 356.82h29.6v3.56h-29.6zM688.8 356.82h29.6v3.56h-29.6zM688.8 359.98h29.6v3.56h-29.6zM804.9 359.98h29.6v3.56h-29.6zM688.8 363.13h29.6v3.56h-29.6zM863.0 363.13h29.6v3.56h-29.6zM456.4 369.45h29.6v3.56h-29.6zM543.6 369.45h29.6v3.56h-29.6zM892.0 369.45h30.6v3.56h-30.6zM950.1 369.45h29.6v3.56h-29.6zM834.0 372.61h29.6v3.56h-29.6zM1066.3 372.61h29.0v3.56h-29.0zM601.6 375.77h29.6v3.56h-29.6zM775.9 375.77h29.6v3.56h-29.6zM396.6 382.08h31.4v3.56h-31.4zM834.0 382.08h29.6v3.56h-29.6zM543.6 385.24h29.6v3.56h-29.6zM543.6 388.40h29.6v3.56h-29.6zM688.8 391.55h29.6v3.56h-29.6zM543.6 394.71h58.7v3.56h-58.7zM659.7 394.71h29.6v3.56h-29.6zM746.8 397.87h29.6v3.56h-29.6zM717.8 401.03h58.7v3.56h-58.7zM950.1 401.03h29.6v3.56h-29.6zM922.0 404.19h28.7v3.56h-28.7zM1066.3 404.19h29.0v3.56h-29.0zM950.1 407.34h29.6v3.56h-29.6zM456.4 410.50h29.6v3.56h-29.6zM514.5 410.50h29.6v3.56h-29.6zM659.7 410.50h29.6v3.56h-29.6zM195.1 413.66h29.6v3.56h-29.6zM1066.3 413.66h29.0v3.56h-29.0zM195.1 416.82h29.6v3.56h-29.6zM543.6 419.97h29.6v3.56h-29.6zM746.8 419.97h29.6v3.56h-29.6zM922.0 419.97h28.7v3.56h-28.7zM195.1 423.13h29.6v3.56h-29.6zM834.0 426.29h29.6v3.56h-29.6zM746.8 429.45h29.6v3.56h-29.6zM804.9 429.45h58.7v3.56h-58.7zM427.4 432.61h29.6v3.56h-29.6zM514.5 432.61h29.6v3.56h-29.6zM717.8 432.61h29.6v3.56h-29.6zM775.9 432.61h29.6v3.56h-29.6zM427.4 438.92h29.6v3.56h-29.6zM834.0 438.92h29.6v3.56h-29.6zM572.6 442.08h29.6v3.56h-29.6zM804.9 442.08h29.6v3.56h-29.6zM950.1 442.08h58.7v3.56h-58.7zM485.5 448.39h58.7v3.56h-58.7zM717.8 448.39h29.6v3.56h-29.6zM775.9 448.39h29.6v3.56h-29.6zM427.4 451.55h29.6v3.56h-29.6zM717.8 451.55h29.6v3.56h-29.6zM775.9 451.55h87.7v3.56h-87.7zM892.0 451.55h30.6v3.56h-30.6zM572.6 454.71h29.6v3.56h-29.6zM659.7 457.87h58.7v3.56h-58.7zM834.0 457.87h29.6v3.56h-29.6zM601.6 461.03h29.6v3.56h-29.6zM834.0 464.18h29.6v3.56h-29.6zM396.6 467.34h31.4v3.56h-31.4zM514.5 467.34h29.6v3.56h-29.6zM834.0 470.50h29.6v3.56h-29.6zM514.5 476.81h29.6v3.56h-29.6zM601.6 476.81h29.6v3.56h-29.6zM688.8 476.81h29.6v3.56h-29.6zM804.9 476.81h29.6v3.56h-29.6zM863.0 476.81h29.6v3.56h-29.6zM485.5 479.97h58.7v3.56h-58.7zM834.0 479.97h29.6v3.56h-29.6zM659.7 483.13h58.7v3.56h-58.7zM543.6 486.29h29.6v3.56h-29.6zM746.8 486.29h29.6v3.56h-29.6zM834.0 486.29h29.6v3.56h-29.6zM456.4 489.45h29.6v3.56h-29.6zM804.9 489.45h29.6v3.56h-29.6zM427.4 492.60h29.6v3.56h-29.6zM514.5 492.60h58.7v3.56h-58.7zM688.8 492.60h29.6v3.56h-29.6zM659.7 495.76h29.6v3.56h-29.6zM717.8 495.76h29.6v3.56h-29.6zM396.6 498.92h31.4v3.56h-31.4zM630.7 498.92h29.6v3.56h-29.6zM892.0 498.92h30.6v3.56h-30.6zM863.0 502.08h29.6v3.56h-29.6zM1008.2 502.08h29.6v3.56h-29.6zM514.5 505.23h29.6v3.56h-29.6zM717.8 505.23h29.6v3.56h-29.6zM834.0 508.39h29.6v3.56h-29.6zM1008.2 508.39h29.6v3.56h-29.6zM659.7 511.55h29.6v3.56h-29.6zM456.4 514.71h58.7v3.56h-58.7zM572.6 514.71h29.6v3.56h-29.6zM688.8 514.71h29.6v3.56h-29.6zM543.6 517.87h29.6v3.56h-29.6zM601.6 517.87h29.6v3.56h-29.6zM659.7 524.18h29.6v3.56h-29.6zM717.8 524.18h29.6v3.56h-29.6zM514.5 527.34h29.6v3.56h-29.6zM601.6 527.34h29.6v3.56h-29.6zM892.0 527.34h30.6v3.56h-30.6zM514.5 530.50h29.6v3.56h-29.6zM601.6 530.50h29.6v3.56h-29.6zM775.9 530.50h29.6v3.56h-29.6zM1037.2 530.50h29.6v3.56h-29.6zM137.0 533.65h29.6v3.56h-29.6zM514.5 533.65h29.6v3.56h-29.6zM340.3 536.81h29.6v3.56h-29.6zM396.6 539.97h31.4v3.56h-31.4zM427.4 543.13h29.6v3.56h-29.6zM166.0 546.29h29.6v3.56h-29.6zM340.3 546.29h29.6v3.56h-29.6zM427.4 546.29h29.6v3.56h-29.6zM340.3 549.44h56.9v3.56h-56.9zM340.3 552.60h29.6v3.56h-29.6zM427.4 552.60h29.6v3.56h-29.6zM253.2 555.76h29.6v3.56h-29.6zM427.4 555.76h29.6v3.56h-29.6zM950.1 555.76h29.6v3.56h-29.6zM979.2 558.92h29.6v3.56h-29.6zM922.0 562.07h28.7v3.56h-28.7zM166.0 565.23h29.6v3.56h-29.6zM979.2 565.23h29.6v3.56h-29.6zM979.2 568.39h29.6v3.56h-29.6zM224.1 584.18h29.6v3.56h-29.6zM1008.2 584.18h29.6v3.56h-29.6zM369.3 590.49h27.9v3.56h-27.9zM1066.3 590.49h29.0v3.56h-29.0zM224.1 599.97h58.7v3.56h-58.7zM979.2 606.28h29.6v3.56h-29.6zM224.1 609.44h29.6v3.56h-29.6zM340.3 609.44h29.6v3.56h-29.6zM224.1 612.60h58.7v3.56h-58.7zM979.2 612.60h29.6v3.56h-29.6zM253.2 615.76h29.6v3.56h-29.6zM224.1 618.91h29.6v3.56h-29.6zM340.3 618.91h29.6v3.56h-29.6zM195.1 622.07h29.6v3.56h-29.6zM340.3 622.07h29.6v3.56h-29.6zM340.3 625.23h29.6v3.56h-29.6zM195.1 634.70h58.7v3.56h-58.7zM979.2 634.70h29.6v3.56h-29.6zM979.2 637.86h29.6v3.56h-29.6zM195.1 641.02h29.6v3.56h-29.6zM922.0 641.02h28.7v3.56h-28.7zM979.2 641.02h29.6v3.56h-29.6zM717.8 644.18h29.6v3.56h-29.6zM717.8 647.33h29.6v3.56h-29.6zM979.2 647.33h29.6v3.56h-29.6zM224.1 650.49h29.6v3.56h-29.6zM717.8 653.65h29.6v3.56h-29.6zM224.1 656.81h29.6v3.56h-29.6zM396.6 656.81h31.4v3.56h-31.4zM1037.2 656.81h29.6v3.56h-29.6zM224.1 659.97h29.6v3.56h-29.6zM340.3 659.97h29.6v3.56h-29.6zM922.0 659.97h86.8v3.56h-86.8zM137.0 663.12h29.6v3.56h-29.6zM950.1 663.12h58.7v3.56h-58.7zM1037.2 663.12h29.6v3.56h-29.6zM922.0 666.28h57.8v3.56h-57.8zM950.1 669.44h29.6v3.56h-29.6zM922.0 672.60h57.8v3.56h-57.8zM950.1 675.75h29.6v3.56h-29.6zM137.0 682.07h58.7v3.56h-58.7zM253.2 682.07h58.7v3.56h-58.7zM224.1 688.38h29.6v3.56h-29.6zM137.0 691.54h29.6v3.56h-29.6zM253.2 691.54h58.7v3.56h-58.7zM543.6 691.54h29.6v3.56h-29.6zM922.0 697.86h28.7v3.56h-28.7zM1008.2 701.02h29.6v3.56h-29.6zM922.0 704.17h28.7v3.56h-28.7zM195.1 710.49h29.6v3.56h-29.6zM950.1 710.49h29.6v3.56h-29.6zM224.1 716.80h29.6v3.56h-29.6zM369.3 716.80h27.9v3.56h-27.9zM195.1 723.12h58.7v3.56h-58.7zM282.2 723.12h29.6v3.56h-29.6zM195.1 726.28h29.6v3.56h-29.6zM979.2 726.28h29.6v3.56h-29.6zM195.1 729.44h29.6v3.56h-29.6zM253.2 729.44h29.6v3.56h-29.6zM224.1 742.07h29.6v3.56h-29.6zM195.1 748.38h29.6v3.56h-29.6zM340.3 748.38h29.6v3.56h-29.6zM224.1 751.54h29.6v3.56h-29.6zM396.6 751.54h31.4v3.56h-31.4zM195.1 757.86h29.6v3.56h-29.6zM137.0 764.17h29.6v3.56h-29.6zM224.1 764.17h29.6v3.56h-29.6zM369.3 764.17h27.9v3.56h-27.9zM224.1 767.33h29.6v3.56h-29.6zM340.3 767.33h56.9v3.56h-56.9zM1037.2 767.33h29.6v3.56h-29.6zM137.0 770.49h29.6v3.56h-29.6zM253.2 770.49h29.6v3.56h-29.6zM369.3 770.49h27.9v3.56h-27.9zM1037.2 770.49h29.6v3.56h-29.6zM979.2 773.64h29.6v3.56h-29.6zM1037.2 773.64h29.6v3.56h-29.6zM1037.2 776.80h29.6v3.56h-29.6zM979.2 779.96h29.6v3.56h-29.6zM1066.3 779.96h29.0v3.56h-29.0zM340.3 783.12h29.6v3.56h-29.6zM601.6 783.12h29.6v3.56h-29.6zM340.3 786.28h29.6v3.56h-29.6zM1008.2 786.28h29.6v3.56h-29.6zM1066.3 786.28h29.0v3.56h-29.0zM195.1 795.75h29.6v3.56h-29.6zM1008.2 795.75h58.7v3.56h-58.7zM1037.2 798.91h29.6v3.56h-29.6zM137.0 811.54h29.6v3.56h-29.6zM195.1 821.01h29.6v3.56h-29.6zM282.2 821.01h29.6v3.56h-29.6zM1008.2 821.01h29.6v3.56h-29.6zM195.1 824.17h29.6v3.56h-29.6zM340.3 824.17h29.6v3.56h-29.6zM427.4 824.17h29.6v3.56h-29.6zM340.3 827.33h29.6v3.56h-29.6zM340.3 833.64h29.6v3.56h-29.6zM1008.2 833.64h29.6v3.56h-29.6z"/><path fill="#f5fbd2" d="M456.4 186.30h29.6v3.56h-29.6zM746.8 186.30h29.6v3.56h-29.6zM922.0 189.46h28.7v3.56h-28.7zM659.7 192.62h29.6v3.56h-29.6zM892.0 192.62h30.6v3.56h-30.6zM485.5 195.77h29.6v3.56h-29.6zM659.7 198.93h58.7v3.56h-58.7zM543.6 202.09h29.6v3.56h-29.6zM863.0 202.09h29.6v3.56h-29.6zM1066.3 202.09h29.0v3.56h-29.0zM514.5 205.25h29.6v3.56h-29.6zM804.9 208.40h87.7v3.56h-87.7zM514.5 211.56h29.6v3.56h-29.6zM863.0 211.56h29.6v3.56h-29.6zM834.0 214.72h29.6v3.56h-29.6zM863.0 217.88h29.6v3.56h-29.6zM950.1 221.04h29.6v3.56h-29.6zM601.6 224.19h29.6v3.56h-29.6zM775.9 224.19h29.6v3.56h-29.6zM688.8 227.35h29.6v3.56h-29.6zM601.6 230.51h29.6v3.56h-29.6zM659.7 233.67h29.6v3.56h-29.6zM485.5 236.82h29.6v3.56h-29.6zM659.7 236.82h58.7v3.56h-58.7zM863.0 236.82h29.6v3.56h-29.6zM1066.3 236.82h29.0v3.56h-29.0zM601.6 243.14h29.6v3.56h-29.6zM746.8 246.30h29.6v3.56h-29.6zM922.0 246.30h28.7v3.56h-28.7zM514.5 249.46h29.6v3.56h-29.6zM804.9 249.46h29.6v3.56h-29.6zM514.5 258.93h29.6v3.56h-29.6zM775.9 258.93h29.6v3.56h-29.6zM659.7 262.09h29.6v3.56h-29.6zM863.0 262.09h29.6v3.56h-29.6zM485.5 265.24h29.6v3.56h-29.6zM688.8 265.24h29.6v3.56h-29.6zM804.9 265.24h29.6v3.56h-29.6zM834.0 268.40h29.6v3.56h-29.6zM1066.3 268.40h29.0v3.56h-29.0zM427.4 271.56h58.7v3.56h-58.7zM572.6 271.56h29.6v3.56h-29.6zM775.9 271.56h58.7v3.56h-58.7zM863.0 271.56h59.6v3.56h-59.6zM1037.2 271.56h29.6v3.56h-29.6zM514.5 274.72h29.6v3.56h-29.6zM1037.2 274.72h29.6v3.56h-29.6zM746.8 281.03h29.6v3.56h-29.6zM804.9 281.03h29.6v3.56h-29.6zM922.0 281.03h28.7v3.56h-28.7zM659.7 284.19h29.6v3.56h-29.6zM746.8 284.19h29.6v3.56h-29.6zM922.0 287.35h28.7v3.56h-28.7zM659.7 293.66h29.6v3.56h-29.6zM892.0 293.66h30.6v3.56h-30.6zM485.5 296.82h29.6v3.56h-29.6zM543.6 296.82h29.6v3.56h-29.6zM804.9 296.82h29.6v3.56h-29.6zM804.9 299.98h29.6v3.56h-29.6zM863.0 299.98h29.6v3.56h-29.6zM717.8 303.14h29.6v3.56h-29.6zM863.0 303.14h29.6v3.56h-29.6zM922.0 303.14h28.7v3.56h-28.7zM717.8 306.30h29.6v3.56h-29.6zM863.0 306.30h59.6v3.56h-59.6zM1066.3 306.30h29.0v3.56h-29.0zM950.1 309.45h29.6v3.56h-29.6zM1008.2 309.45h29.6v3.56h-29.6zM543.6 312.61h29.6v3.56h-29.6zM863.0 312.61h59.6v3.56h-59.6zM514.5 315.77h29.6v3.56h-29.6zM892.0 315.77h58.7v3.56h-58.7zM1037.2 315.77h29.6v3.56h-29.6zM427.4 318.93h29.6v3.56h-29.6zM543.6 318.93h58.7v3.56h-58.7zM892.0 318.93h30.6v3.56h-30.6zM543.6 322.08h29.6v3.56h-29.6zM717.8 322.08h29.6v3.56h-29.6zM396.6 325.24h31.4v3.56h-31.4zM572.6 325.24h29.6v3.56h-29.6zM717.8 325.24h29.6v3.56h-29.6zM427.4 328.40h29.6v3.56h-29.6zM543.6 328.40h29.6v3.56h-29.6zM659.7 328.40h29.6v3.56h-29.6zM717.8 328.40h29.6v3.56h-29.6zM630.7 331.56h29.6v3.56h-29.6zM659.7 334.72h58.7v3.56h-58.7zM456.4 337.87h29.6v3.56h-29.6zM514.5 337.87h58.7v3.56h-58.7zM717.8 337.87h29.6v3.56h-29.6zM717.8 341.03h29.6v3.56h-29.6zM485.5 344.19h29.6v3.56h-29.6zM456.4 347.35h29.6v3.56h-29.6zM396.6 350.50h60.4v3.56h-60.4zM688.8 350.50h29.6v3.56h-29.6zM922.0 350.50h28.7v3.56h-28.7zM514.5 353.66h29.6v3.56h-29.6zM950.1 353.66h29.6v3.56h-29.6zM396.6 359.98h31.4v3.56h-31.4zM717.8 359.98h58.7v3.56h-58.7zM892.0 359.98h30.6v3.56h-30.6zM427.4 363.13h29.6v3.56h-29.6zM804.9 363.13h58.7v3.56h-58.7zM892.0 363.13h30.6v3.56h-30.6zM514.5 366.29h29.6v3.56h-29.6zM572.6 369.45h58.7v3.56h-58.7zM834.0 369.45h58.7v3.56h-58.7zM427.4 372.61h29.6v3.56h-29.6zM601.6 372.61h29.6v3.56h-29.6zM775.9 378.92h29.6v3.56h-29.6zM834.0 378.92h29.6v3.56h-29.6zM514.5 385.24h29.6v3.56h-29.6zM485.5 388.40h29.6v3.56h-29.6zM804.9 388.40h29.6v3.56h-29.6zM427.4 391.55h29.6v3.56h-29.6zM514.5 391.55h29.6v3.56h-29.6zM572.6 391.55h29.6v3.56h-29.6zM863.0 391.55h59.6v3.56h-59.6zM427.4 394.71h29.6v3.56h-29.6zM804.9 394.71h29.6v3.56h-29.6zM514.5 397.87h29.6v3.56h-29.6zM892.0 397.87h30.6v3.56h-30.6zM427.4 401.03h29.6v3.56h-29.6zM514.5 401.03h58.7v3.56h-58.7zM630.7 401.03h29.6v3.56h-29.6zM892.0 401.03h30.6v3.56h-30.6zM543.6 404.19h29.6v3.56h-29.6zM775.9 404.19h29.6v3.56h-29.6zM746.8 407.34h29.6v3.56h-29.6zM775.9 410.50h58.7v3.56h-58.7zM485.5 413.66h29.6v3.56h-29.6zM834.0 413.66h29.6v3.56h-29.6zM950.1 413.66h29.6v3.56h-29.6zM1008.2 413.66h58.7v3.56h-58.7zM456.4 416.82h29.6v3.56h-29.6zM601.6 416.82h29.6v3.56h-29.6zM775.9 416.82h29.6v3.56h-29.6zM601.6 419.97h58.7v3.56h-58.7zM775.9 419.97h29.6v3.56h-29.6zM834.0 419.97h29.6v3.56h-29.6zM892.0 419.97h30.6v3.56h-30.6zM746.8 423.13h29.6v3.56h-29.6zM834.0 423.13h58.7v3.56h-58.7zM427.4 426.29h29.6v3.56h-29.6zM688.8 426.29h29.6v3.56h-29.6zM456.4 429.45h29.6v3.56h-29.6zM804.9 432.61h58.7v3.56h-58.7zM834.0 435.76h29.6v3.56h-29.6zM572.6 438.92h29.6v3.56h-29.6zM659.7 438.92h29.6v3.56h-29.6zM863.0 438.92h29.6v3.56h-29.6zM396.6 442.08h31.4v3.56h-31.4zM775.9 442.08h29.6v3.56h-29.6zM922.0 442.08h28.7v3.56h-28.7zM396.6 445.24h31.4v3.56h-31.4zM863.0 445.24h29.6v3.56h-29.6zM601.6 448.39h58.7v3.56h-58.7zM746.8 448.39h29.6v3.56h-29.6zM804.9 448.39h29.6v3.56h-29.6zM630.7 451.55h29.6v3.56h-29.6zM775.9 454.71h58.7v3.56h-58.7zM863.0 454.71h29.6v3.56h-29.6zM543.6 457.87h29.6v3.56h-29.6zM396.6 461.03h89.5v3.56h-89.5zM543.6 464.18h29.6v3.56h-29.6zM572.6 467.34h29.6v3.56h-29.6zM804.9 467.34h29.6v3.56h-29.6zM922.0 467.34h28.7v3.56h-28.7zM1037.2 467.34h29.6v3.56h-29.6zM485.5 470.50h29.6v3.56h-29.6zM775.9 470.50h29.6v3.56h-29.6zM572.6 473.66h29.6v3.56h-29.6zM485.5 476.81h29.6v3.56h-29.6zM543.6 476.81h29.6v3.56h-29.6zM892.0 476.81h30.6v3.56h-30.6zM746.8 479.97h29.6v3.56h-29.6zM892.0 479.97h30.6v3.56h-30.6zM485.5 483.13h58.7v3.56h-58.7zM746.8 483.13h29.6v3.56h-29.6zM514.5 486.29h29.6v3.56h-29.6zM485.5 489.45h29.6v3.56h-29.6zM630.7 489.45h29.6v3.56h-29.6zM746.8 489.45h58.7v3.56h-58.7zM1008.2 492.60h29.6v3.56h-29.6zM456.4 498.92h58.7v3.56h-58.7zM659.7 498.92h29.6v3.56h-29.6zM427.4 505.23h29.6v3.56h-29.6zM659.7 505.23h29.6v3.56h-29.6zM863.0 505.23h29.6v3.56h-29.6zM514.5 511.55h29.6v3.56h-29.6zM572.6 511.55h29.6v3.56h-29.6zM427.4 514.71h29.6v3.56h-29.6zM950.1 517.87h29.6v3.56h-29.6zM572.6 524.18h29.6v3.56h-29.6zM746.8 524.18h29.6v3.56h-29.6zM804.9 524.18h29.6v3.56h-29.6zM396.6 527.34h31.4v3.56h-31.4zM485.5 527.34h29.6v3.56h-29.6zM572.6 527.34h29.6v3.56h-29.6zM659.7 527.34h29.6v3.56h-29.6zM746.8 527.34h29.6v3.56h-29.6zM834.0 527.34h29.6v3.56h-29.6zM979.2 527.34h58.7v3.56h-58.7zM659.7 530.50h29.6v3.56h-29.6zM1008.2 530.50h29.6v3.56h-29.6zM1066.3 530.50h29.0v3.56h-29.0zM166.0 533.65h29.6v3.56h-29.6zM427.4 539.97h29.6v3.56h-29.6zM1037.2 558.92h29.6v3.56h-29.6zM979.2 562.07h29.6v3.56h-29.6zM224.1 565.23h29.6v3.56h-29.6zM950.1 565.23h29.6v3.56h-29.6zM950.1 568.39h29.6v3.56h-29.6zM979.2 571.55h29.6v3.56h-29.6zM224.1 574.71h29.6v3.56h-29.6zM922.0 593.65h28.7v3.56h-28.7zM224.1 596.81h29.6v3.56h-29.6zM979.2 596.81h29.6v3.56h-29.6zM224.1 603.13h29.6v3.56h-29.6zM195.1 615.76h58.7v3.56h-58.7zM979.2 618.91h29.6v3.56h-29.6zM979.2 631.55h29.6v3.56h-29.6zM340.3 641.02h29.6v3.56h-29.6zM195.1 644.18h58.7v3.56h-58.7zM195.1 650.49h29.6v3.56h-29.6zM717.8 650.49h29.6v3.56h-29.6zM1037.2 650.49h29.6v3.56h-29.6zM922.0 653.65h28.7v3.56h-28.7zM1037.2 653.65h29.6v3.56h-29.6zM396.6 659.97h31.4v3.56h-31.4zM717.8 659.97h29.6v3.56h-29.6zM892.0 659.97h30.6v3.56h-30.6zM1037.2 659.97h29.6v3.56h-29.6zM717.8 666.28h29.6v3.56h-29.6zM892.0 666.28h30.6v3.56h-30.6zM137.0 669.44h29.6v3.56h-29.6zM224.1 675.75h58.7v3.56h-58.7zM922.0 685.23h28.7v3.56h-28.7zM224.1 691.54h29.6v3.56h-29.6zM1008.2 694.70h29.6v3.56h-29.6zM224.1 697.86h29.6v3.56h-29.6zM659.7 716.80h29.6v3.56h-29.6zM1037.2 716.80h29.6v3.56h-29.6zM1037.2 719.96h29.6v3.56h-29.6zM195.1 735.75h29.6v3.56h-29.6zM427.4 742.07h29.6v3.56h-29.6zM396.6 745.22h31.4v3.56h-31.4zM427.4 761.01h29.6v3.56h-29.6zM166.0 764.17h29.6v3.56h-29.6zM340.3 764.17h29.6v3.56h-29.6zM775.9 767.33h29.6v3.56h-29.6zM224.1 770.49h29.6v3.56h-29.6zM340.3 770.49h29.6v3.56h-29.6zM979.2 783.12h29.6v3.56h-29.6zM1066.3 783.12h29.0v3.56h-29.0zM601.6 786.28h58.7v3.56h-58.7zM601.6 789.43h29.6v3.56h-29.6zM659.7 792.59h29.6v3.56h-29.6zM195.1 798.91h29.6v3.56h-29.6zM1008.2 811.54h29.6v3.56h-29.6zM427.4 814.70h29.6v3.56h-29.6zM340.3 817.85h29.6v3.56h-29.6zM427.4 817.85h29.6v3.56h-29.6zM427.4 827.33h29.6v3.56h-29.6zM224.1 833.64h29.6v3.56h-29.6z"/><path fill="#f8fccd" d="M485.5 186.30h29.6v3.56h-29.6zM659.7 186.30h29.6v3.56h-29.6zM892.0 186.30h58.7v3.56h-58.7zM1008.2 186.30h29.6v3.56h-29.6zM601.6 189.46h29.6v3.56h-29.6zM688.8 189.46h29.6v3.56h-29.6zM427.4 192.62h58.7v3.56h-58.7zM630.7 192.62h29.6v3.56h-29.6zM688.8 192.62h29.6v3.56h-29.6zM834.0 192.62h29.6v3.56h-29.6zM746.8 195.77h29.6v3.56h-29.6zM863.0 195.77h29.6v3.56h-29.6zM456.4 198.93h87.7v3.56h-87.7zM746.8 198.93h29.6v3.56h-29.6zM950.1 198.93h29.6v3.56h-29.6zM396.6 202.09h31.4v3.56h-31.4zM456.4 202.09h58.7v3.56h-58.7zM572.6 202.09h29.6v3.56h-29.6zM659.7 202.09h29.6v3.56h-29.6zM922.0 202.09h28.7v3.56h-28.7zM456.4 205.25h29.6v3.56h-29.6zM834.0 205.25h29.6v3.56h-29.6zM514.5 208.40h29.6v3.56h-29.6zM485.5 211.56h29.6v3.56h-29.6zM601.6 211.56h29.6v3.56h-29.6zM688.8 211.56h29.6v3.56h-29.6zM950.1 211.56h29.6v3.56h-29.6zM1008.2 211.56h29.6v3.56h-29.6zM775.9 214.72h29.6v3.56h-29.6zM427.4 217.88h29.6v3.56h-29.6zM863.0 221.04h29.6v3.56h-29.6zM659.7 224.19h29.6v3.56h-29.6zM804.9 224.19h29.6v3.56h-29.6zM1066.3 224.19h29.0v3.56h-29.0zM804.9 227.35h29.6v3.56h-29.6zM892.0 227.35h30.6v3.56h-30.6zM1008.2 227.35h29.6v3.56h-29.6zM630.7 230.51h29.6v3.56h-29.6zM717.8 230.51h29.6v3.56h-29.6zM717.8 233.67h29.6v3.56h-29.6zM775.9 233.67h29.6v3.56h-29.6zM950.1 233.67h29.6v3.56h-29.6zM427.4 236.82h29.6v3.56h-29.6zM572.6 236.82h87.7v3.56h-87.7zM950.1 236.82h29.6v3.56h-29.6zM775.9 239.98h29.6v3.56h-29.6zM630.7 243.14h29.6v3.56h-29.6zM630.7 246.30h29.6v3.56h-29.6zM863.0 246.30h29.6v3.56h-29.6zM950.1 246.30h29.6v3.56h-29.6zM688.8 249.46h29.6v3.56h-29.6zM485.5 258.93h29.6v3.56h-29.6zM630.7 258.93h29.6v3.56h-29.6zM688.8 258.93h29.6v3.56h-29.6zM892.0 258.93h30.6v3.56h-30.6zM950.1 258.93h29.6v3.56h-29.6zM1066.3 258.93h29.0v3.56h-29.0zM892.0 262.09h30.6v3.56h-30.6zM1037.2 262.09h29.6v3.56h-29.6zM892.0 265.24h30.6v3.56h-30.6zM863.0 268.40h29.6v3.56h-29.6zM485.5 271.56h29.6v3.56h-29.6zM746.8 271.56h29.6v3.56h-29.6zM950.1 271.56h29.6v3.56h-29.6zM688.8 274.72h29.6v3.56h-29.6zM1066.3 274.72h29.0v3.56h-29.0zM543.6 281.03h29.6v3.56h-29.6zM950.1 281.03h29.6v3.56h-29.6zM396.6 284.19h31.4v3.56h-31.4zM950.1 284.19h29.6v3.56h-29.6zM601.6 287.35h29.6v3.56h-29.6zM1037.2 287.35h29.6v3.56h-29.6zM601.6 290.51h29.6v3.56h-29.6zM922.0 290.51h28.7v3.56h-28.7zM950.1 293.66h29.6v3.56h-29.6zM427.4 296.82h29.6v3.56h-29.6zM396.6 299.98h31.4v3.56h-31.4zM514.5 303.14h29.6v3.56h-29.6zM659.7 303.14h58.7v3.56h-58.7zM892.0 303.14h30.6v3.56h-30.6zM543.6 306.30h29.6v3.56h-29.6zM834.0 309.45h29.6v3.56h-29.6zM485.5 312.61h29.6v3.56h-29.6zM572.6 312.61h87.7v3.56h-87.7zM950.1 312.61h29.6v3.56h-29.6zM688.8 315.77h29.6v3.56h-29.6zM979.2 315.77h29.6v3.56h-29.6zM1066.3 315.77h29.0v3.56h-29.0zM717.8 318.93h29.6v3.56h-29.6zM950.1 318.93h29.6v3.56h-29.6zM396.6 322.08h31.4v3.56h-31.4zM456.4 322.08h29.6v3.56h-29.6zM601.6 322.08h29.6v3.56h-29.6zM746.8 322.08h29.6v3.56h-29.6zM1008.2 322.08h29.6v3.56h-29.6zM1066.3 322.08h29.0v3.56h-29.0zM659.7 325.24h29.6v3.56h-29.6zM892.0 325.24h30.6v3.56h-30.6zM746.8 328.40h29.6v3.56h-29.6zM1008.2 328.40h29.6v3.56h-29.6zM659.7 331.56h29.6v3.56h-29.6zM950.1 331.56h29.6v3.56h-29.6zM1066.3 331.56h29.0v3.56h-29.0zM396.6 334.72h31.4v3.56h-31.4zM892.0 337.87h30.6v3.56h-30.6zM396.6 341.03h31.4v3.56h-31.4zM543.6 341.03h29.6v3.56h-29.6zM746.8 341.03h29.6v3.56h-29.6zM892.0 341.03h30.6v3.56h-30.6zM543.6 347.35h29.6v3.56h-29.6zM717.8 347.35h29.6v3.56h-29.6zM950.1 347.35h29.6v3.56h-29.6zM746.8 350.50h29.6v3.56h-29.6zM427.4 353.66h29.6v3.56h-29.6zM892.0 353.66h30.6v3.56h-30.6zM1066.3 353.66h29.0v3.56h-29.0zM514.5 356.82h29.6v3.56h-29.6zM601.6 356.82h29.6v3.56h-29.6zM746.8 356.82h29.6v3.56h-29.6zM804.9 356.82h29.6v3.56h-29.6zM950.1 356.82h29.6v3.56h-29.6zM922.0 359.98h28.7v3.56h-28.7zM485.5 363.13h29.6v3.56h-29.6zM659.7 363.13h29.6v3.56h-29.6zM950.1 363.13h29.6v3.56h-29.6zM630.7 366.29h29.6v3.56h-29.6zM1037.2 366.29h58.1v3.56h-58.1zM630.7 369.45h29.6v3.56h-29.6zM688.8 369.45h29.6v3.56h-29.6zM572.6 372.61h29.6v3.56h-29.6zM775.9 372.61h29.6v3.56h-29.6zM456.4 375.77h29.6v3.56h-29.6zM543.6 375.77h29.6v3.56h-29.6zM717.8 375.77h29.6v3.56h-29.6zM863.0 375.77h29.6v3.56h-29.6zM427.4 378.92h29.6v3.56h-29.6zM572.6 378.92h58.7v3.56h-58.7zM659.7 378.92h29.6v3.56h-29.6zM950.1 378.92h29.6v3.56h-29.6zM1037.2 378.92h29.6v3.56h-29.6zM427.4 382.08h29.6v3.56h-29.6zM572.6 382.08h58.7v3.56h-58.7zM775.9 382.08h58.7v3.56h-58.7zM892.0 382.08h30.6v3.56h-30.6zM601.6 385.24h29.6v3.56h-29.6zM863.0 385.24h29.6v3.56h-29.6zM514.5 388.40h29.6v3.56h-29.6zM630.7 388.40h29.6v3.56h-29.6zM688.8 388.40h29.6v3.56h-29.6zM746.8 388.40h29.6v3.56h-29.6zM863.0 388.40h29.6v3.56h-29.6zM396.6 391.55h31.4v3.56h-31.4zM485.5 391.55h29.6v3.56h-29.6zM630.7 391.55h58.7v3.56h-58.7zM514.5 394.71h29.6v3.56h-29.6zM775.9 394.71h29.6v3.56h-29.6zM688.8 397.87h29.6v3.56h-29.6zM804.9 397.87h29.6v3.56h-29.6zM922.0 397.87h28.7v3.56h-28.7zM396.6 401.03h31.4v3.56h-31.4zM863.0 401.03h29.6v3.56h-29.6zM1037.2 401.03h29.6v3.56h-29.6zM456.4 404.19h29.6v3.56h-29.6zM572.6 404.19h58.7v3.56h-58.7zM717.8 404.19h29.6v3.56h-29.6zM804.9 404.19h29.6v3.56h-29.6zM950.1 404.19h29.6v3.56h-29.6zM1008.2 404.19h29.6v3.56h-29.6zM543.6 410.50h29.6v3.56h-29.6zM863.0 410.50h29.6v3.56h-29.6zM659.7 413.66h29.6v3.56h-29.6zM396.6 416.82h31.4v3.56h-31.4zM922.0 416.82h28.7v3.56h-28.7zM659.7 426.29h29.6v3.56h-29.6zM775.9 426.29h29.6v3.56h-29.6zM659.7 429.45h29.6v3.56h-29.6zM717.8 429.45h29.6v3.56h-29.6zM922.0 429.45h28.7v3.56h-28.7zM572.6 432.61h29.6v3.56h-29.6zM804.9 435.76h29.6v3.56h-29.6zM922.0 435.76h28.7v3.56h-28.7zM514.5 438.92h29.6v3.56h-29.6zM601.6 438.92h58.7v3.56h-58.7zM775.9 438.92h58.7v3.56h-58.7zM922.0 438.92h28.7v3.56h-28.7zM514.5 442.08h29.6v3.56h-29.6zM834.0 442.08h29.6v3.56h-29.6zM1008.2 442.08h29.6v3.56h-29.6zM630.7 445.24h29.6v3.56h-29.6zM746.8 445.24h29.6v3.56h-29.6zM950.1 445.24h29.6v3.56h-29.6zM456.4 448.39h29.6v3.56h-29.6zM543.6 448.39h29.6v3.56h-29.6zM892.0 448.39h87.7v3.56h-87.7zM1066.3 448.39h29.0v3.56h-29.0zM543.6 451.55h29.6v3.56h-29.6zM659.7 451.55h29.6v3.56h-29.6zM863.0 451.55h29.6v3.56h-29.6zM427.4 454.71h29.6v3.56h-29.6zM543.6 454.71h29.6v3.56h-29.6zM601.6 454.71h29.6v3.56h-29.6zM659.7 454.71h116.8v3.56h-116.8zM804.9 461.03h29.6v3.56h-29.6zM950.1 461.03h29.6v3.56h-29.6zM572.6 464.18h58.7v3.56h-58.7zM659.7 464.18h29.6v3.56h-29.6zM863.0 464.18h29.6v3.56h-29.6zM543.6 467.34h29.6v3.56h-29.6zM659.7 467.34h58.7v3.56h-58.7zM396.6 473.66h31.4v3.56h-31.4zM485.5 473.66h29.6v3.56h-29.6zM804.9 473.66h29.6v3.56h-29.6zM922.0 473.66h57.8v3.56h-57.8zM1037.2 473.66h29.6v3.56h-29.6zM659.7 476.81h29.6v3.56h-29.6zM950.1 476.81h29.6v3.56h-29.6zM601.6 479.97h29.6v3.56h-29.6zM804.9 479.97h29.6v3.56h-29.6zM572.6 483.13h29.6v3.56h-29.6zM863.0 483.13h87.7v3.56h-87.7zM485.5 486.29h29.6v3.56h-29.6zM601.6 486.29h29.6v3.56h-29.6zM775.9 486.29h29.6v3.56h-29.6zM427.4 489.45h29.6v3.56h-29.6zM863.0 489.45h29.6v3.56h-29.6zM950.1 489.45h29.6v3.56h-29.6zM804.9 492.60h29.6v3.56h-29.6zM514.5 495.76h29.6v3.56h-29.6zM1008.2 495.76h29.6v3.56h-29.6zM863.0 498.92h29.6v3.56h-29.6zM485.5 502.08h58.7v3.56h-58.7zM630.7 505.23h29.6v3.56h-29.6zM688.8 505.23h29.6v3.56h-29.6zM950.1 505.23h29.6v3.56h-29.6zM514.5 508.39h29.6v3.56h-29.6zM572.6 508.39h58.7v3.56h-58.7zM659.7 508.39h29.6v3.56h-29.6zM746.8 508.39h29.6v3.56h-29.6zM922.0 508.39h28.7v3.56h-28.7zM717.8 511.55h29.6v3.56h-29.6zM892.0 511.55h30.6v3.56h-30.6zM427.4 517.87h29.6v3.56h-29.6zM514.5 517.87h29.6v3.56h-29.6zM543.6 521.02h58.7v3.56h-58.7zM630.7 521.02h29.6v3.56h-29.6zM834.0 521.02h29.6v3.56h-29.6zM601.6 524.18h29.6v3.56h-29.6zM688.8 524.18h29.6v3.56h-29.6zM1008.2 524.18h29.6v3.56h-29.6zM717.8 527.34h29.6v3.56h-29.6zM863.0 527.34h29.6v3.56h-29.6zM746.8 530.50h29.6v3.56h-29.6zM804.9 530.50h29.6v3.56h-29.6zM863.0 530.50h59.6v3.56h-59.6zM137.0 536.81h29.6v3.56h-29.6zM224.1 555.76h29.6v3.56h-29.6zM1037.2 555.76h29.6v3.56h-29.6zM950.1 562.07h29.6v3.56h-29.6zM979.2 574.71h58.7v3.56h-58.7zM1008.2 577.86h29.6v3.56h-29.6zM1008.2 581.02h29.6v3.56h-29.6zM224.1 593.65h29.6v3.56h-29.6zM340.3 612.60h29.6v3.56h-29.6zM340.3 615.76h29.6v3.56h-29.6zM1037.2 631.55h29.6v3.56h-29.6zM572.6 634.70h29.6v3.56h-29.6zM340.3 650.49h29.6v3.56h-29.6zM1008.2 653.65h29.6v3.56h-29.6zM717.8 656.81h29.6v3.56h-29.6zM717.8 663.12h29.6v3.56h-29.6zM224.1 682.07h29.6v3.56h-29.6zM340.3 682.07h29.6v3.56h-29.6zM746.8 697.86h29.6v3.56h-29.6zM1008.2 697.86h29.6v3.56h-29.6zM1008.2 704.17h29.6v3.56h-29.6zM746.8 707.33h29.6v3.56h-29.6zM717.8 713.65h29.6v3.56h-29.6zM922.0 732.59h28.7v3.56h-28.7zM1008.2 732.59h29.6v3.56h-29.6zM427.4 738.91h29.6v3.56h-29.6zM456.4 742.07h29.6v3.56h-29.6zM630.7 742.07h29.6v3.56h-29.6zM427.4 745.22h29.6v3.56h-29.6zM456.4 748.38h29.6v3.56h-29.6zM630.7 748.38h29.6v3.56h-29.6zM396.6 754.70h60.4v3.56h-60.4zM630.7 754.70h29.6v3.56h-29.6zM224.1 757.86h29.6v3.56h-29.6zM427.4 757.86h29.6v3.56h-29.6zM224.1 761.01h29.6v3.56h-29.6zM922.0 764.17h28.7v3.56h-28.7zM1008.2 767.33h29.6v3.56h-29.6zM1008.2 773.64h29.6v3.56h-29.6zM601.6 776.80h29.6v3.56h-29.6zM1066.3 776.80h29.0v3.56h-29.0zM601.6 779.96h29.6v3.56h-29.6zM659.7 789.43h29.6v3.56h-29.6zM572.6 792.59h29.6v3.56h-29.6zM659.7 795.75h29.6v3.56h-29.6zM922.0 802.06h28.7v3.56h-28.7zM137.0 808.38h29.6v3.56h-29.6z"/><path fill="#fbfdc7" d="M979.2 186.30h29.6v3.56h-29.6zM485.5 189.46h29.6v3.56h-29.6zM950.1 189.46h29.6v3.56h-29.6zM1037.2 189.46h29.6v3.56h-29.6zM514.5 192.62h29.6v3.56h-29.6zM922.0 192.62h28.7v3.56h-28.7zM396.6 195.77h31.4v3.56h-31.4zM775.9 195.77h29.6v3.56h-29.6zM834.0 195.77h29.6v3.56h-29.6zM717.8 198.93h29.6v3.56h-29.6zM1037.2 198.93h29.6v3.56h-29.6zM601.6 202.09h29.6v3.56h-29.6zM804.9 202.09h58.7v3.56h-58.7zM892.0 202.09h30.6v3.56h-30.6zM950.1 202.09h29.6v3.56h-29.6zM1008.2 202.09h29.6v3.56h-29.6zM572.6 205.25h29.6v3.56h-29.6zM746.8 205.25h29.6v3.56h-29.6zM892.0 205.25h30.6v3.56h-30.6zM427.4 208.40h58.7v3.56h-58.7zM572.6 208.40h29.6v3.56h-29.6zM572.6 211.56h29.6v3.56h-29.6zM659.7 211.56h29.6v3.56h-29.6zM485.5 217.88h29.6v3.56h-29.6zM659.7 217.88h29.6v3.56h-29.6zM688.8 221.04h29.6v3.56h-29.6zM688.8 224.19h29.6v3.56h-29.6zM863.0 224.19h29.6v3.56h-29.6zM1008.2 224.19h29.6v3.56h-29.6zM485.5 227.35h58.7v3.56h-58.7zM572.6 227.35h29.6v3.56h-29.6zM659.7 227.35h29.6v3.56h-29.6zM717.8 227.35h29.6v3.56h-29.6zM863.0 227.35h29.6v3.56h-29.6zM514.5 230.51h29.6v3.56h-29.6zM659.7 230.51h29.6v3.56h-29.6zM804.9 230.51h29.6v3.56h-29.6zM950.1 230.51h29.6v3.56h-29.6zM572.6 233.67h29.6v3.56h-29.6zM804.9 233.67h29.6v3.56h-29.6zM922.0 233.67h28.7v3.56h-28.7zM1037.2 233.67h29.6v3.56h-29.6zM892.0 236.82h30.6v3.56h-30.6zM601.6 239.98h29.6v3.56h-29.6zM572.6 243.14h29.6v3.56h-29.6zM688.8 243.14h29.6v3.56h-29.6zM804.9 243.14h29.6v3.56h-29.6zM572.6 246.30h29.6v3.56h-29.6zM427.4 249.46h29.6v3.56h-29.6zM630.7 249.46h29.6v3.56h-29.6zM717.8 249.46h29.6v3.56h-29.6zM863.0 249.46h59.6v3.56h-59.6zM775.9 255.77h29.6v3.56h-29.6zM834.0 255.77h29.6v3.56h-29.6zM572.6 258.93h29.6v3.56h-29.6zM717.8 258.93h29.6v3.56h-29.6zM804.9 258.93h29.6v3.56h-29.6zM863.0 258.93h29.6v3.56h-29.6zM485.5 262.09h29.6v3.56h-29.6zM601.6 262.09h58.7v3.56h-58.7zM922.0 262.09h28.7v3.56h-28.7zM456.4 265.24h29.6v3.56h-29.6zM1008.2 265.24h29.6v3.56h-29.6zM746.8 268.40h29.6v3.56h-29.6zM688.8 271.56h58.7v3.56h-58.7zM630.7 274.72h29.6v3.56h-29.6zM863.0 274.72h29.6v3.56h-29.6zM950.1 274.72h29.6v3.56h-29.6zM427.4 277.88h29.6v3.56h-29.6zM572.6 277.88h29.6v3.56h-29.6zM746.8 277.88h58.7v3.56h-58.7zM456.4 281.03h29.6v3.56h-29.6zM514.5 281.03h29.6v3.56h-29.6zM630.7 281.03h29.6v3.56h-29.6zM688.8 281.03h29.6v3.56h-29.6zM1008.2 281.03h58.7v3.56h-58.7zM572.6 284.19h29.6v3.56h-29.6zM688.8 284.19h29.6v3.56h-29.6zM863.0 284.19h29.6v3.56h-29.6zM427.4 287.35h29.6v3.56h-29.6zM659.7 287.35h58.7v3.56h-58.7zM892.0 287.35h30.6v3.56h-30.6zM950.1 287.35h29.6v3.56h-29.6zM863.0 290.51h29.6v3.56h-29.6zM427.4 293.66h29.6v3.56h-29.6zM514.5 293.66h29.6v3.56h-29.6zM572.6 293.66h29.6v3.56h-29.6zM717.8 293.66h29.6v3.56h-29.6zM804.9 293.66h29.6v3.56h-29.6zM863.0 293.66h29.6v3.56h-29.6zM1037.2 296.82h29.6v3.56h-29.6zM456.4 299.98h29.6v3.56h-29.6zM717.8 299.98h29.6v3.56h-29.6zM922.0 299.98h57.8v3.56h-57.8zM1066.3 299.98h29.0v3.56h-29.0zM601.6 303.14h29.6v3.56h-29.6zM1008.2 303.14h29.6v3.56h-29.6zM456.4 306.30h29.6v3.56h-29.6zM514.5 306.30h29.6v3.56h-29.6zM950.1 306.30h29.6v3.56h-29.6zM863.0 309.45h29.6v3.56h-29.6zM1066.3 309.45h29.0v3.56h-29.0zM804.9 312.61h29.6v3.56h-29.6zM1066.3 312.61h29.0v3.56h-29.0zM601.6 315.77h29.6v3.56h-29.6zM396.6 318.93h31.4v3.56h-31.4zM922.0 322.08h28.7v3.56h-28.7zM630.7 328.40h29.6v3.56h-29.6zM892.0 328.40h58.7v3.56h-58.7zM1066.3 328.40h29.0v3.56h-29.0zM514.5 331.56h29.6v3.56h-29.6zM572.6 331.56h29.6v3.56h-29.6zM688.8 331.56h58.7v3.56h-58.7zM804.9 331.56h29.6v3.56h-29.6zM427.4 337.87h29.6v3.56h-29.6zM572.6 337.87h29.6v3.56h-29.6zM659.7 337.87h29.6v3.56h-29.6zM1037.2 337.87h29.6v3.56h-29.6zM456.4 341.03h29.6v3.56h-29.6zM601.6 341.03h29.6v3.56h-29.6zM1037.2 344.19h29.6v3.56h-29.6zM688.8 347.35h29.6v3.56h-29.6zM456.4 350.50h29.6v3.56h-29.6zM950.1 350.50h29.6v3.56h-29.6zM1066.3 350.50h29.0v3.56h-29.0zM630.7 353.66h29.6v3.56h-29.6zM892.0 356.82h30.6v3.56h-30.6zM1066.3 356.82h29.0v3.56h-29.0zM543.6 359.98h29.6v3.56h-29.6zM514.5 363.13h29.6v3.56h-29.6zM746.8 363.13h29.6v3.56h-29.6zM572.6 366.29h29.6v3.56h-29.6zM659.7 366.29h29.6v3.56h-29.6zM717.8 366.29h58.7v3.56h-58.7zM922.0 366.29h28.7v3.56h-28.7zM485.5 369.45h58.7v3.56h-58.7zM659.7 369.45h29.6v3.56h-29.6zM717.8 369.45h29.6v3.56h-29.6zM892.0 372.61h58.7v3.56h-58.7zM514.5 375.77h29.6v3.56h-29.6zM572.6 375.77h29.6v3.56h-29.6zM659.7 375.77h58.7v3.56h-58.7zM485.5 378.92h29.6v3.56h-29.6zM746.8 378.92h29.6v3.56h-29.6zM922.0 378.92h28.7v3.56h-28.7zM456.4 382.08h29.6v3.56h-29.6zM688.8 382.08h29.6v3.56h-29.6zM950.1 382.08h29.6v3.56h-29.6zM630.7 385.24h87.7v3.56h-87.7zM950.1 388.40h29.6v3.56h-29.6zM1037.2 388.40h29.6v3.56h-29.6zM717.8 391.55h29.6v3.56h-29.6zM717.8 394.71h29.6v3.56h-29.6zM892.0 394.71h30.6v3.56h-30.6zM572.6 397.87h29.6v3.56h-29.6zM950.1 397.87h29.6v3.56h-29.6zM485.5 404.19h58.7v3.56h-58.7zM863.0 404.19h29.6v3.56h-29.6zM427.4 407.34h29.6v3.56h-29.6zM543.6 407.34h29.6v3.56h-29.6zM659.7 407.34h29.6v3.56h-29.6zM572.6 410.50h29.6v3.56h-29.6zM427.4 413.66h29.6v3.56h-29.6zM630.7 413.66h29.6v3.56h-29.6zM804.9 413.66h29.6v3.56h-29.6zM863.0 416.82h29.6v3.56h-29.6zM456.4 419.97h29.6v3.56h-29.6zM688.8 419.97h58.7v3.56h-58.7zM804.9 419.97h29.6v3.56h-29.6zM1008.2 419.97h29.6v3.56h-29.6zM1066.3 419.97h29.0v3.56h-29.0zM630.7 423.13h29.6v3.56h-29.6zM804.9 423.13h29.6v3.56h-29.6zM572.6 426.29h29.6v3.56h-29.6zM804.9 426.29h29.6v3.56h-29.6zM396.6 429.45h31.4v3.56h-31.4zM514.5 429.45h58.7v3.56h-58.7zM601.6 429.45h29.6v3.56h-29.6zM892.0 429.45h30.6v3.56h-30.6zM1008.2 429.45h29.6v3.56h-29.6zM396.6 432.61h31.4v3.56h-31.4zM543.6 432.61h29.6v3.56h-29.6zM659.7 432.61h29.6v3.56h-29.6zM572.6 435.76h29.6v3.56h-29.6zM1008.2 435.76h29.6v3.56h-29.6zM456.4 438.92h29.6v3.56h-29.6zM543.6 438.92h29.6v3.56h-29.6zM717.8 438.92h29.6v3.56h-29.6zM659.7 442.08h87.7v3.56h-87.7zM456.4 445.24h29.6v3.56h-29.6zM572.6 445.24h29.6v3.56h-29.6zM688.8 445.24h29.6v3.56h-29.6zM804.9 445.24h29.6v3.56h-29.6zM572.6 448.39h29.6v3.56h-29.6zM1037.2 448.39h29.6v3.56h-29.6zM456.4 454.71h29.6v3.56h-29.6zM892.0 454.71h30.6v3.56h-30.6zM950.1 457.87h29.6v3.56h-29.6zM1037.2 457.87h29.6v3.56h-29.6zM892.0 464.18h30.6v3.56h-30.6zM396.6 470.50h31.4v3.56h-31.4zM717.8 470.50h29.6v3.56h-29.6zM922.0 470.50h28.7v3.56h-28.7zM427.4 473.66h58.7v3.56h-58.7zM514.5 473.66h29.6v3.56h-29.6zM775.9 473.66h29.6v3.56h-29.6zM1066.3 473.66h29.0v3.56h-29.0zM396.6 476.81h31.4v3.56h-31.4zM572.6 476.81h29.6v3.56h-29.6zM775.9 476.81h29.6v3.56h-29.6zM456.4 479.97h29.6v3.56h-29.6zM543.6 479.97h58.7v3.56h-58.7zM630.7 479.97h29.6v3.56h-29.6zM688.8 479.97h29.6v3.56h-29.6zM863.0 479.97h29.6v3.56h-29.6zM950.1 479.97h29.6v3.56h-29.6zM1008.2 479.97h29.6v3.56h-29.6zM543.6 483.13h29.6v3.56h-29.6zM601.6 483.13h29.6v3.56h-29.6zM717.8 483.13h29.6v3.56h-29.6zM456.4 492.60h29.6v3.56h-29.6zM630.7 495.76h29.6v3.56h-29.6zM456.4 502.08h29.6v3.56h-29.6zM572.6 502.08h29.6v3.56h-29.6zM630.7 502.08h29.6v3.56h-29.6zM396.6 508.39h31.4v3.56h-31.4zM688.8 508.39h58.7v3.56h-58.7zM892.0 508.39h30.6v3.56h-30.6zM1066.3 508.39h29.0v3.56h-29.0zM485.5 511.55h29.6v3.56h-29.6zM543.6 511.55h29.6v3.56h-29.6zM396.6 514.71h31.4v3.56h-31.4zM630.7 517.87h87.7v3.56h-87.7zM746.8 517.87h29.6v3.56h-29.6zM892.0 517.87h58.7v3.56h-58.7zM746.8 521.02h29.6v3.56h-29.6zM892.0 521.02h30.6v3.56h-30.6zM979.2 521.02h29.6v3.56h-29.6zM485.5 524.18h58.7v3.56h-58.7zM834.0 524.18h29.6v3.56h-29.6zM892.0 524.18h58.7v3.56h-58.7zM427.4 527.34h29.6v3.56h-29.6zM688.8 527.34h29.6v3.56h-29.6zM922.0 527.34h28.7v3.56h-28.7zM456.4 530.50h58.7v3.56h-58.7zM688.8 530.50h58.7v3.56h-58.7zM922.0 530.50h28.7v3.56h-28.7zM950.1 533.65h29.6v3.56h-29.6zM1008.2 543.13h29.6v3.56h-29.6zM717.8 549.44h58.7v3.56h-58.7zM922.0 549.44h28.7v3.56h-28.7zM922.0 552.60h28.7v3.56h-28.7zM892.0 555.76h30.6v3.56h-30.6zM892.0 558.92h30.6v3.56h-30.6zM950.1 558.92h29.6v3.56h-29.6zM1008.2 571.55h29.6v3.56h-29.6zM396.6 574.71h31.4v3.56h-31.4zM979.2 581.02h29.6v3.56h-29.6zM717.8 584.18h29.6v3.56h-29.6zM979.2 584.18h29.6v3.56h-29.6zM979.2 590.49h29.6v3.56h-29.6zM1037.2 590.49h29.6v3.56h-29.6zM1066.3 609.44h29.0v3.56h-29.0zM1066.3 618.91h29.0v3.56h-29.0zM1037.2 622.07h58.1v3.56h-58.1zM922.0 625.23h28.7v3.56h-28.7zM1008.2 625.23h29.6v3.56h-29.6zM1066.3 625.23h29.0v3.56h-29.0zM1037.2 628.39h29.6v3.56h-29.6zM1008.2 634.70h58.7v3.56h-58.7zM572.6 637.86h29.6v3.56h-29.6zM1037.2 637.86h29.6v3.56h-29.6zM427.4 641.02h29.6v3.56h-29.6zM1037.2 641.02h58.1v3.56h-58.1zM1066.3 644.18h29.0v3.56h-29.0zM485.5 656.81h29.6v3.56h-29.6zM746.8 656.81h29.6v3.56h-29.6zM746.8 659.97h29.6v3.56h-29.6zM746.8 663.12h58.7v3.56h-58.7zM892.0 663.12h30.6v3.56h-30.6zM1066.3 672.60h29.0v3.56h-29.0zM195.1 682.07h29.6v3.56h-29.6zM775.9 682.07h29.6v3.56h-29.6zM1066.3 682.07h29.0v3.56h-29.0zM775.9 685.23h29.6v3.56h-29.6zM1066.3 685.23h29.0v3.56h-29.0zM775.9 688.38h29.6v3.56h-29.6zM659.7 691.54h29.6v3.56h-29.6zM224.1 694.70h29.6v3.56h-29.6zM775.9 694.70h29.6v3.56h-29.6zM922.0 694.70h28.7v3.56h-28.7zM427.4 697.86h29.6v3.56h-29.6zM224.1 701.02h29.6v3.56h-29.6zM746.8 701.02h29.6v3.56h-29.6zM224.1 707.33h29.6v3.56h-29.6zM1008.2 710.49h29.6v3.56h-29.6zM659.7 719.96h29.6v3.56h-29.6zM950.1 723.12h29.6v3.56h-29.6zM1008.2 726.28h58.7v3.56h-58.7zM1037.2 732.59h29.6v3.56h-29.6zM427.4 748.38h29.6v3.56h-29.6zM456.4 751.54h29.6v3.56h-29.6zM922.0 754.70h28.7v3.56h-28.7zM922.0 761.01h28.7v3.56h-28.7zM427.4 764.17h29.6v3.56h-29.6zM979.2 764.17h29.6v3.56h-29.6zM922.0 767.33h28.7v3.56h-28.7zM1066.3 767.33h29.0v3.56h-29.0zM775.9 770.49h29.6v3.56h-29.6zM775.9 773.64h29.6v3.56h-29.6zM427.4 779.96h29.6v3.56h-29.6zM1037.2 786.28h29.6v3.56h-29.6zM922.0 792.59h28.7v3.56h-28.7zM922.0 798.91h28.7v3.56h-28.7zM717.8 817.85h29.6v3.56h-29.6zM863.0 821.01h29.6v3.56h-29.6zM717.8 824.17h29.6v3.56h-29.6zM282.2 827.33h29.6v3.56h-29.6zM746.8 827.33h29.6v3.56h-29.6zM746.8 833.64h29.6v3.56h-29.6z"/><path fill="#fefec2" d="M950.1 186.30h29.6v3.56h-29.6zM1066.3 186.30h29.0v3.56h-29.0zM396.6 189.46h31.4v3.56h-31.4zM514.5 189.46h29.6v3.56h-29.6zM572.6 189.46h29.6v3.56h-29.6zM572.6 192.62h29.6v3.56h-29.6zM863.0 192.62h29.6v3.56h-29.6zM892.0 195.77h30.6v3.56h-30.6zM834.0 198.93h29.6v3.56h-29.6zM892.0 198.93h30.6v3.56h-30.6zM1066.3 198.93h29.0v3.56h-29.0zM396.6 205.25h31.4v3.56h-31.4zM485.5 205.25h29.6v3.56h-29.6zM630.7 205.25h29.6v3.56h-29.6zM717.8 205.25h29.6v3.56h-29.6zM485.5 208.40h29.6v3.56h-29.6zM659.7 208.40h29.6v3.56h-29.6zM717.8 208.40h29.6v3.56h-29.6zM717.8 211.56h29.6v3.56h-29.6zM804.9 211.56h29.6v3.56h-29.6zM601.6 214.72h29.6v3.56h-29.6zM863.0 214.72h29.6v3.56h-29.6zM950.1 214.72h29.6v3.56h-29.6zM456.4 217.88h29.6v3.56h-29.6zM630.7 217.88h29.6v3.56h-29.6zM1008.2 217.88h29.6v3.56h-29.6zM514.5 221.04h29.6v3.56h-29.6zM630.7 221.04h29.6v3.56h-29.6zM485.5 224.19h58.7v3.56h-58.7zM572.6 224.19h29.6v3.56h-29.6zM717.8 224.19h29.6v3.56h-29.6zM922.0 224.19h28.7v3.56h-28.7zM950.1 227.35h29.6v3.56h-29.6zM572.6 230.51h29.6v3.56h-29.6zM863.0 230.51h29.6v3.56h-29.6zM1008.2 230.51h29.6v3.56h-29.6zM396.6 233.67h60.4v3.56h-60.4zM485.5 233.67h58.7v3.56h-58.7zM630.7 233.67h29.6v3.56h-29.6zM746.8 233.67h29.6v3.56h-29.6zM863.0 233.67h29.6v3.56h-29.6zM1008.2 233.67h29.6v3.56h-29.6zM717.8 236.82h29.6v3.56h-29.6zM804.9 236.82h29.6v3.56h-29.6zM485.5 243.14h58.7v3.56h-58.7zM892.0 243.14h30.6v3.56h-30.6zM485.5 246.30h29.6v3.56h-29.6zM659.7 246.30h29.6v3.56h-29.6zM717.8 246.30h29.6v3.56h-29.6zM804.9 246.30h29.6v3.56h-29.6zM1008.2 246.30h58.7v3.56h-58.7zM1037.2 249.46h29.6v3.56h-29.6zM485.5 252.61h29.6v3.56h-29.6zM834.0 252.61h29.6v3.56h-29.6zM1066.3 252.61h29.0v3.56h-29.0zM427.4 258.93h29.6v3.56h-29.6zM922.0 258.93h28.7v3.56h-28.7zM514.5 262.09h29.6v3.56h-29.6zM688.8 262.09h29.6v3.56h-29.6zM804.9 262.09h29.6v3.56h-29.6zM396.6 265.24h31.4v3.56h-31.4zM1037.2 265.24h29.6v3.56h-29.6zM485.5 268.40h29.6v3.56h-29.6zM659.7 268.40h29.6v3.56h-29.6zM775.9 268.40h29.6v3.56h-29.6zM1008.2 271.56h29.6v3.56h-29.6zM863.0 277.88h29.6v3.56h-29.6zM950.1 277.88h29.6v3.56h-29.6zM717.8 281.03h29.6v3.56h-29.6zM456.4 284.19h87.7v3.56h-87.7zM892.0 284.19h30.6v3.56h-30.6zM514.5 287.35h29.6v3.56h-29.6zM717.8 287.35h29.6v3.56h-29.6zM863.0 287.35h29.6v3.56h-29.6zM1066.3 287.35h29.0v3.56h-29.0zM659.7 290.51h29.6v3.56h-29.6zM746.8 290.51h29.6v3.56h-29.6zM485.5 293.66h29.6v3.56h-29.6zM746.8 296.82h29.6v3.56h-29.6zM950.1 296.82h29.6v3.56h-29.6zM514.5 299.98h29.6v3.56h-29.6zM456.4 303.14h58.7v3.56h-58.7zM746.8 303.14h29.6v3.56h-29.6zM804.9 303.14h29.6v3.56h-29.6zM485.5 306.30h29.6v3.56h-29.6zM572.6 306.30h29.6v3.56h-29.6zM804.9 306.30h29.6v3.56h-29.6zM543.6 309.45h29.6v3.56h-29.6zM775.9 309.45h29.6v3.56h-29.6zM922.0 309.45h28.7v3.56h-28.7zM1037.2 309.45h29.6v3.56h-29.6zM456.4 312.61h29.6v3.56h-29.6zM688.8 312.61h58.7v3.56h-58.7zM922.0 312.61h28.7v3.56h-28.7zM1037.2 312.61h29.6v3.56h-29.6zM804.9 315.77h29.6v3.56h-29.6zM1008.2 315.77h29.6v3.56h-29.6zM1037.2 322.08h29.6v3.56h-29.6zM950.1 325.24h29.6v3.56h-29.6zM396.6 328.40h31.4v3.56h-31.4zM688.8 328.40h29.6v3.56h-29.6zM922.0 334.72h57.8v3.56h-57.8zM396.6 337.87h31.4v3.56h-31.4zM688.8 337.87h29.6v3.56h-29.6zM572.6 341.03h29.6v3.56h-29.6zM659.7 341.03h29.6v3.56h-29.6zM572.6 344.19h29.6v3.56h-29.6zM922.0 344.19h28.7v3.56h-28.7zM1066.3 344.19h29.0v3.56h-29.0zM746.8 347.35h29.6v3.56h-29.6zM572.6 350.50h29.6v3.56h-29.6zM396.6 353.66h31.4v3.56h-31.4zM601.6 353.66h29.6v3.56h-29.6zM922.0 353.66h28.7v3.56h-28.7zM396.6 356.82h31.4v3.56h-31.4zM456.4 356.82h29.6v3.56h-29.6zM1008.2 356.82h58.7v3.56h-58.7zM514.5 359.98h29.6v3.56h-29.6zM396.6 363.13h31.4v3.56h-31.4zM630.7 363.13h29.6v3.56h-29.6zM1066.3 363.13h29.0v3.56h-29.0zM396.6 366.29h31.4v3.56h-31.4zM543.6 366.29h29.6v3.56h-29.6zM922.0 369.45h28.7v3.56h-28.7zM717.8 372.61h29.6v3.56h-29.6zM950.1 372.61h29.6v3.56h-29.6zM396.6 375.77h31.4v3.56h-31.4zM485.5 375.77h29.6v3.56h-29.6zM950.1 375.77h29.6v3.56h-29.6zM1066.3 378.92h29.0v3.56h-29.0zM485.5 382.08h29.6v3.56h-29.6zM659.7 382.08h29.6v3.56h-29.6zM717.8 382.08h29.6v3.56h-29.6zM1037.2 382.08h29.6v3.56h-29.6zM804.9 385.24h29.6v3.56h-29.6zM922.0 385.24h28.7v3.56h-28.7zM456.4 388.40h29.6v3.56h-29.6zM804.9 391.55h29.6v3.56h-29.6zM922.0 391.55h28.7v3.56h-28.7zM1008.2 391.55h29.6v3.56h-29.6zM396.6 394.71h31.4v3.56h-31.4zM456.4 394.71h29.6v3.56h-29.6zM630.7 394.71h29.6v3.56h-29.6zM746.8 394.71h29.6v3.56h-29.6zM396.6 397.87h31.4v3.56h-31.4zM1066.3 397.87h29.0v3.56h-29.0zM804.9 401.03h29.6v3.56h-29.6zM396.6 404.19h31.4v3.56h-31.4zM630.7 404.19h58.7v3.56h-58.7zM979.2 404.19h29.6v3.56h-29.6zM775.9 407.34h29.6v3.56h-29.6zM834.0 407.34h29.6v3.56h-29.6zM1066.3 407.34h29.0v3.56h-29.0zM630.7 410.50h29.6v3.56h-29.6zM688.8 410.50h29.6v3.56h-29.6zM1066.3 410.50h29.0v3.56h-29.0zM572.6 413.66h29.6v3.56h-29.6zM688.8 413.66h87.7v3.56h-87.7zM863.0 413.66h29.6v3.56h-29.6zM892.0 416.82h30.6v3.56h-30.6zM950.1 416.82h29.6v3.56h-29.6zM1066.3 416.82h29.0v3.56h-29.0zM427.4 419.97h29.6v3.56h-29.6zM979.2 419.97h29.6v3.56h-29.6zM427.4 423.13h58.7v3.56h-58.7zM659.7 423.13h29.6v3.56h-29.6zM717.8 423.13h29.6v3.56h-29.6zM775.9 423.13h29.6v3.56h-29.6zM514.5 426.29h58.7v3.56h-58.7zM717.8 426.29h29.6v3.56h-29.6zM630.7 429.45h29.6v3.56h-29.6zM775.9 429.45h29.6v3.56h-29.6zM863.0 429.45h29.6v3.56h-29.6zM950.1 429.45h29.6v3.56h-29.6zM630.7 432.61h29.6v3.56h-29.6zM630.7 435.76h29.6v3.56h-29.6zM950.1 435.76h29.6v3.56h-29.6zM396.6 438.92h31.4v3.56h-31.4zM688.8 438.92h29.6v3.56h-29.6zM950.1 438.92h29.6v3.56h-29.6zM543.6 442.08h29.6v3.56h-29.6zM630.7 442.08h29.6v3.56h-29.6zM1066.3 442.08h29.0v3.56h-29.0zM659.7 448.39h58.7v3.56h-58.7zM1008.2 448.39h29.6v3.56h-29.6zM396.6 451.55h31.4v3.56h-31.4zM572.6 451.55h29.6v3.56h-29.6zM630.7 454.71h29.6v3.56h-29.6zM950.1 454.71h29.6v3.56h-29.6zM922.0 457.87h28.7v3.56h-28.7zM1008.2 457.87h29.6v3.56h-29.6zM1066.3 457.87h29.0v3.56h-29.0zM688.8 461.03h29.6v3.56h-29.6zM1066.3 461.03h29.0v3.56h-29.0zM717.8 464.18h29.6v3.56h-29.6zM950.1 464.18h29.6v3.56h-29.6zM659.7 470.50h29.6v3.56h-29.6zM892.0 470.50h30.6v3.56h-30.6zM688.8 473.66h58.7v3.56h-58.7zM1008.2 473.66h29.6v3.56h-29.6zM456.4 476.81h29.6v3.56h-29.6zM1066.3 476.81h29.0v3.56h-29.0zM922.0 479.97h28.7v3.56h-28.7zM1037.2 479.97h58.1v3.56h-58.1zM396.6 483.13h31.4v3.56h-31.4zM396.6 486.29h31.4v3.56h-31.4zM572.6 486.29h29.6v3.56h-29.6zM1066.3 486.29h29.0v3.56h-29.0zM572.6 489.45h29.6v3.56h-29.6zM659.7 489.45h29.6v3.56h-29.6zM892.0 489.45h30.6v3.56h-30.6zM396.6 492.60h31.4v3.56h-31.4zM922.0 492.60h57.8v3.56h-57.8zM456.4 495.76h29.6v3.56h-29.6zM922.0 498.92h57.8v3.56h-57.8zM427.4 502.08h29.6v3.56h-29.6zM543.6 502.08h29.6v3.56h-29.6zM688.8 502.08h29.6v3.56h-29.6zM746.8 502.08h29.6v3.56h-29.6zM804.9 502.08h29.6v3.56h-29.6zM922.0 502.08h28.7v3.56h-28.7zM1008.2 505.23h29.6v3.56h-29.6zM863.0 508.39h29.6v3.56h-29.6zM950.1 508.39h29.6v3.56h-29.6zM396.6 511.55h31.4v3.56h-31.4zM863.0 511.55h29.6v3.56h-29.6zM1008.2 514.71h29.6v3.56h-29.6zM1066.3 514.71h29.0v3.56h-29.0zM396.6 517.87h31.4v3.56h-31.4zM717.8 517.87h29.6v3.56h-29.6zM514.5 521.02h29.6v3.56h-29.6zM601.6 521.02h29.6v3.56h-29.6zM717.8 521.02h29.6v3.56h-29.6zM950.1 521.02h29.6v3.56h-29.6zM1008.2 521.02h87.1v3.56h-87.1zM630.7 524.18h29.6v3.56h-29.6zM1037.2 524.18h29.6v3.56h-29.6zM804.9 527.34h29.6v3.56h-29.6zM1066.3 527.34h29.0v3.56h-29.0zM396.6 530.50h31.4v3.56h-31.4zM630.7 530.50h29.6v3.56h-29.6zM950.1 530.50h29.6v3.56h-29.6zM601.6 533.65h29.6v3.56h-29.6zM922.0 533.65h28.7v3.56h-28.7zM717.8 536.81h29.6v3.56h-29.6zM775.9 536.81h29.6v3.56h-29.6zM485.5 543.13h29.6v3.56h-29.6zM746.8 543.13h29.6v3.56h-29.6zM950.1 543.13h29.6v3.56h-29.6zM950.1 546.29h29.6v3.56h-29.6zM950.1 549.44h29.6v3.56h-29.6zM950.1 552.60h29.6v3.56h-29.6zM1008.2 555.76h29.6v3.56h-29.6zM659.7 562.07h29.6v3.56h-29.6zM892.0 562.07h30.6v3.56h-30.6zM1037.2 562.07h29.6v3.56h-29.6zM456.4 565.23h29.6v3.56h-29.6zM1037.2 565.23h29.6v3.56h-29.6zM1037.2 568.39h29.6v3.56h-29.6zM396.6 571.55h31.4v3.56h-31.4zM1037.2 571.55h29.6v3.56h-29.6zM427.4 574.71h29.6v3.56h-29.6zM775.9 574.71h29.6v3.56h-29.6zM1066.3 574.71h29.0v3.56h-29.0zM427.4 577.86h29.6v3.56h-29.6zM427.4 581.02h29.6v3.56h-29.6zM1037.2 584.18h29.6v3.56h-29.6zM427.4 587.34h29.6v3.56h-29.6zM717.8 587.34h29.6v3.56h-29.6zM979.2 587.34h29.6v3.56h-29.6zM543.6 596.81h29.6v3.56h-29.6zM1008.2 596.81h29.6v3.56h-29.6zM1008.2 599.97h29.6v3.56h-29.6zM1066.3 606.28h29.0v3.56h-29.0zM427.4 609.44h29.6v3.56h-29.6zM1008.2 609.44h29.6v3.56h-29.6zM1008.2 615.76h29.6v3.56h-29.6zM1008.2 618.91h58.7v3.56h-58.7zM922.0 622.07h28.7v3.56h-28.7zM1037.2 625.23h29.6v3.56h-29.6zM922.0 628.39h28.7v3.56h-28.7zM1066.3 628.39h29.0v3.56h-29.0zM922.0 631.55h28.7v3.56h-28.7zM601.6 637.86h29.6v3.56h-29.6zM1008.2 644.18h29.6v3.56h-29.6zM1008.2 647.33h29.6v3.56h-29.6zM1066.3 647.33h29.0v3.56h-29.0zM746.8 650.49h29.6v3.56h-29.6zM1008.2 650.49h29.6v3.56h-29.6zM1066.3 650.49h29.0v3.56h-29.0zM746.8 653.65h29.6v3.56h-29.6zM1008.2 656.81h29.6v3.56h-29.6zM1066.3 656.81h29.0v3.56h-29.0zM775.9 659.97h29.6v3.56h-29.6zM1066.3 659.97h29.0v3.56h-29.0zM1066.3 663.12h29.0v3.56h-29.0zM1066.3 666.28h29.0v3.56h-29.0zM427.4 669.44h29.6v3.56h-29.6zM1066.3 669.44h29.0v3.56h-29.0zM427.4 672.60h29.6v3.56h-29.6zM427.4 675.75h29.6v3.56h-29.6zM717.8 675.75h29.6v3.56h-29.6zM863.0 682.07h29.6v3.56h-29.6zM1037.2 685.23h29.6v3.56h-29.6zM892.0 688.38h58.7v3.56h-58.7zM1066.3 688.38h29.0v3.56h-29.0zM834.0 691.54h29.6v3.56h-29.6zM892.0 691.54h58.7v3.56h-58.7zM979.2 691.54h29.6v3.56h-29.6zM1037.2 691.54h29.6v3.56h-29.6zM950.1 694.70h58.7v3.56h-58.7zM1037.2 694.70h58.1v3.56h-58.1zM950.1 697.86h29.6v3.56h-29.6zM1037.2 697.86h29.6v3.56h-29.6zM427.4 701.02h29.6v3.56h-29.6zM717.8 701.02h29.6v3.56h-29.6zM804.9 701.02h29.6v3.56h-29.6zM1066.3 701.02h29.0v3.56h-29.0zM746.8 704.17h29.6v3.56h-29.6zM717.8 707.33h29.6v3.56h-29.6zM804.9 707.33h29.6v3.56h-29.6zM717.8 710.49h29.6v3.56h-29.6zM1037.2 710.49h29.6v3.56h-29.6zM775.9 713.65h29.6v3.56h-29.6zM1037.2 713.65h29.6v3.56h-29.6zM950.1 716.80h29.6v3.56h-29.6zM1066.3 716.80h29.0v3.56h-29.0zM922.0 719.96h57.8v3.56h-57.8zM1008.2 719.96h29.6v3.56h-29.6zM717.8 723.12h29.6v3.56h-29.6zM601.6 726.28h58.7v3.56h-58.7zM950.1 726.28h29.6v3.56h-29.6zM922.0 729.44h57.8v3.56h-57.8zM1008.2 729.44h29.6v3.56h-29.6zM630.7 732.59h29.6v3.56h-29.6zM950.1 732.59h29.6v3.56h-29.6zM456.4 738.91h29.6v3.56h-29.6zM630.7 738.91h29.6v3.56h-29.6zM979.2 738.91h29.6v3.56h-29.6zM922.0 742.07h28.7v3.56h-28.7zM979.2 742.07h29.6v3.56h-29.6zM456.4 745.22h29.6v3.56h-29.6zM979.2 745.22h29.6v3.56h-29.6zM979.2 748.38h29.6v3.56h-29.6zM427.4 751.54h29.6v3.56h-29.6zM1008.2 751.54h29.6v3.56h-29.6zM456.4 754.70h29.6v3.56h-29.6zM717.8 754.70h29.6v3.56h-29.6zM1008.2 754.70h29.6v3.56h-29.6zM456.4 757.86h29.6v3.56h-29.6zM630.7 757.86h29.6v3.56h-29.6zM863.0 757.86h29.6v3.56h-29.6zM922.0 757.86h28.7v3.56h-28.7zM456.4 761.01h29.6v3.56h-29.6zM979.2 761.01h58.7v3.56h-58.7zM456.4 764.17h29.6v3.56h-29.6zM1066.3 764.17h29.0v3.56h-29.0zM427.4 767.33h58.7v3.56h-58.7zM456.4 770.49h29.6v3.56h-29.6zM922.0 770.49h28.7v3.56h-28.7zM775.9 776.80h29.6v3.56h-29.6zM1008.2 776.80h29.6v3.56h-29.6zM1037.2 779.96h29.6v3.56h-29.6zM1008.2 783.12h58.7v3.56h-58.7zM572.6 786.28h29.6v3.56h-29.6zM572.6 789.43h29.6v3.56h-29.6zM922.0 795.75h28.7v3.56h-28.7zM1066.3 795.75h29.0v3.56h-29.0zM1066.3 798.91h29.0v3.56h-29.0zM1066.3 805.22h29.0v3.56h-29.0zM1037.2 808.38h29.6v3.56h-29.6zM572.6 821.01h29.6v3.56h-29.6zM572.6 824.17h29.6v3.56h-29.6zM746.8 824.17h29.6v3.56h-29.6zM1037.2 830.48h29.6v3.56h-29.6z"/><path fill="#fffebd" d="M427.4 186.30h29.6v3.56h-29.6zM572.6 186.30h29.6v3.56h-29.6zM630.7 186.30h29.6v3.56h-29.6zM659.7 189.46h29.6v3.56h-29.6zM717.8 189.46h29.6v3.56h-29.6zM775.9 189.46h87.7v3.56h-87.7zM396.6 192.62h31.4v3.56h-31.4zM485.5 192.62h29.6v3.56h-29.6zM1008.2 192.62h29.6v3.56h-29.6zM427.4 198.93h29.6v3.56h-29.6zM630.7 198.93h29.6v3.56h-29.6zM427.4 202.09h29.6v3.56h-29.6zM979.2 202.09h29.6v3.56h-29.6zM922.0 208.40h28.7v3.56h-28.7zM1066.3 208.40h29.0v3.56h-29.0zM979.2 211.56h29.6v3.56h-29.6zM892.0 214.72h30.6v3.56h-30.6zM396.6 217.88h31.4v3.56h-31.4zM892.0 217.88h30.6v3.56h-30.6zM1066.3 217.88h29.0v3.56h-29.0zM572.6 221.04h29.6v3.56h-29.6zM892.0 221.04h30.6v3.56h-30.6zM396.6 224.19h60.4v3.56h-60.4zM950.1 224.19h29.6v3.56h-29.6zM456.4 227.35h29.6v3.56h-29.6zM630.7 227.35h29.6v3.56h-29.6zM1066.3 227.35h29.0v3.56h-29.0zM427.4 230.51h29.6v3.56h-29.6zM485.5 230.51h29.6v3.56h-29.6zM746.8 230.51h29.6v3.56h-29.6zM892.0 230.51h30.6v3.56h-30.6zM892.0 233.67h30.6v3.56h-30.6zM514.5 236.82h29.6v3.56h-29.6zM688.8 239.98h29.6v3.56h-29.6zM804.9 239.98h29.6v3.56h-29.6zM863.0 239.98h29.6v3.56h-29.6zM396.6 243.14h60.4v3.56h-60.4zM717.8 243.14h29.6v3.56h-29.6zM1008.2 243.14h58.7v3.56h-58.7zM514.5 246.30h29.6v3.56h-29.6zM688.8 246.30h29.6v3.56h-29.6zM892.0 246.30h30.6v3.56h-30.6zM485.5 249.46h29.6v3.56h-29.6zM950.1 249.46h29.6v3.56h-29.6zM659.7 252.61h29.6v3.56h-29.6zM775.9 252.61h29.6v3.56h-29.6zM950.1 252.61h29.6v3.56h-29.6zM1008.2 252.61h29.6v3.56h-29.6zM485.5 255.77h58.7v3.56h-58.7zM601.6 255.77h29.6v3.56h-29.6zM922.0 255.77h57.8v3.56h-57.8zM1066.3 255.77h29.0v3.56h-29.0zM1037.2 258.93h29.6v3.56h-29.6zM717.8 262.09h29.6v3.56h-29.6zM979.2 262.09h29.6v3.56h-29.6zM1066.3 262.09h29.0v3.56h-29.0zM456.4 268.40h29.6v3.56h-29.6zM572.6 268.40h29.6v3.56h-29.6zM630.7 268.40h29.6v3.56h-29.6zM979.2 268.40h29.6v3.56h-29.6zM427.4 274.72h87.7v3.56h-87.7zM572.6 274.72h29.6v3.56h-29.6zM659.7 274.72h29.6v3.56h-29.6zM746.8 274.72h29.6v3.56h-29.6zM804.9 274.72h29.6v3.56h-29.6zM659.7 277.88h29.6v3.56h-29.6zM427.4 281.03h29.6v3.56h-29.6zM892.0 281.03h30.6v3.56h-30.6zM1066.3 281.03h29.0v3.56h-29.0zM427.4 284.19h29.6v3.56h-29.6zM1066.3 284.19h29.0v3.56h-29.0zM746.8 287.35h29.6v3.56h-29.6zM1008.2 287.35h29.6v3.56h-29.6zM892.0 290.51h30.6v3.56h-30.6zM1037.2 290.51h29.6v3.56h-29.6zM396.6 293.66h31.4v3.56h-31.4zM456.4 293.66h29.6v3.56h-29.6zM688.8 293.66h29.6v3.56h-29.6zM922.0 293.66h28.7v3.56h-28.7zM630.7 299.98h58.7v3.56h-58.7zM746.8 299.98h29.6v3.56h-29.6zM427.4 303.14h29.6v3.56h-29.6zM543.6 303.14h29.6v3.56h-29.6zM630.7 303.14h29.6v3.56h-29.6zM1037.2 303.14h58.1v3.56h-58.1zM630.7 306.30h29.6v3.56h-29.6zM1008.2 306.30h29.6v3.56h-29.6zM514.5 309.45h29.6v3.56h-29.6zM601.6 309.45h29.6v3.56h-29.6zM427.4 312.61h29.6v3.56h-29.6zM1008.2 312.61h29.6v3.56h-29.6zM659.7 315.77h29.6v3.56h-29.6zM746.8 318.93h29.6v3.56h-29.6zM1037.2 318.93h58.1v3.56h-58.1zM456.4 328.40h29.6v3.56h-29.6zM572.6 328.40h29.6v3.56h-29.6zM950.1 328.40h29.6v3.56h-29.6zM456.4 331.56h29.6v3.56h-29.6zM922.0 331.56h28.7v3.56h-28.7zM979.2 331.56h29.6v3.56h-29.6zM1037.2 334.72h29.6v3.56h-29.6zM630.7 337.87h29.6v3.56h-29.6zM746.8 337.87h29.6v3.56h-29.6zM922.0 337.87h57.8v3.56h-57.8zM804.9 341.03h29.6v3.56h-29.6zM950.1 341.03h29.6v3.56h-29.6zM427.4 344.19h29.6v3.56h-29.6zM514.5 344.19h29.6v3.56h-29.6zM601.6 344.19h29.6v3.56h-29.6zM717.8 344.19h29.6v3.56h-29.6zM804.9 344.19h29.6v3.56h-29.6zM922.0 347.35h28.7v3.56h-28.7zM717.8 353.66h58.7v3.56h-58.7zM804.9 353.66h29.6v3.56h-29.6zM1037.2 353.66h29.6v3.56h-29.6zM456.4 359.98h29.6v3.56h-29.6zM950.1 359.98h29.6v3.56h-29.6zM1066.3 359.98h29.0v3.56h-29.0zM456.4 363.13h29.6v3.56h-29.6zM922.0 363.13h28.7v3.56h-28.7zM456.4 366.29h29.6v3.56h-29.6zM688.8 366.29h29.6v3.56h-29.6zM892.0 366.29h30.6v3.56h-30.6zM1008.2 366.29h29.6v3.56h-29.6zM746.8 369.45h29.6v3.56h-29.6zM396.6 372.61h31.4v3.56h-31.4zM456.4 372.61h29.6v3.56h-29.6zM514.5 372.61h29.6v3.56h-29.6zM630.7 372.61h29.6v3.56h-29.6zM804.9 372.61h29.6v3.56h-29.6zM863.0 372.61h29.6v3.56h-29.6zM1008.2 372.61h58.7v3.56h-58.7zM630.7 375.77h29.6v3.56h-29.6zM1066.3 375.77h29.0v3.56h-29.0zM543.6 378.92h29.6v3.56h-29.6zM717.8 378.92h29.6v3.56h-29.6zM804.9 378.92h29.6v3.56h-29.6zM892.0 378.92h30.6v3.56h-30.6zM514.5 382.08h58.7v3.56h-58.7zM863.0 382.08h29.6v3.56h-29.6zM396.6 385.24h31.4v3.56h-31.4zM717.8 385.24h58.7v3.56h-58.7zM892.0 385.24h30.6v3.56h-30.6zM485.5 394.71h29.6v3.56h-29.6zM1008.2 394.71h29.6v3.56h-29.6zM1008.2 401.03h29.6v3.56h-29.6zM717.8 407.34h29.6v3.56h-29.6zM979.2 407.34h29.6v3.56h-29.6zM601.6 410.50h29.6v3.56h-29.6zM717.8 410.50h29.6v3.56h-29.6zM922.0 410.50h28.7v3.56h-28.7zM543.6 413.66h29.6v3.56h-29.6zM775.9 413.66h29.6v3.56h-29.6zM892.0 413.66h30.6v3.56h-30.6zM630.7 416.82h29.6v3.56h-29.6zM659.7 419.97h29.6v3.56h-29.6zM572.6 423.13h29.6v3.56h-29.6zM688.8 423.13h29.6v3.56h-29.6zM1066.3 423.13h29.0v3.56h-29.0zM630.7 426.29h29.6v3.56h-29.6zM863.0 426.29h59.6v3.56h-59.6zM427.4 429.45h29.6v3.56h-29.6zM688.8 429.45h29.6v3.56h-29.6zM456.4 432.61h29.6v3.56h-29.6zM601.6 432.61h29.6v3.56h-29.6zM863.0 432.61h59.6v3.56h-59.6zM456.4 435.76h29.6v3.56h-29.6zM892.0 438.92h30.6v3.56h-30.6zM979.2 438.92h29.6v3.56h-29.6zM456.4 442.08h29.6v3.56h-29.6zM892.0 442.08h30.6v3.56h-30.6zM601.6 445.24h29.6v3.56h-29.6zM659.7 445.24h29.6v3.56h-29.6zM1008.2 445.24h29.6v3.56h-29.6zM688.8 451.55h29.6v3.56h-29.6zM572.6 461.03h29.6v3.56h-29.6zM630.7 461.03h29.6v3.56h-29.6zM1037.2 461.03h29.6v3.56h-29.6zM456.4 467.34h29.6v3.56h-29.6zM630.7 467.34h29.6v3.56h-29.6zM892.0 467.34h30.6v3.56h-30.6zM950.1 467.34h29.6v3.56h-29.6zM427.4 470.50h29.6v3.56h-29.6zM572.6 470.50h58.7v3.56h-58.7zM804.9 470.50h29.6v3.56h-29.6zM863.0 470.50h29.6v3.56h-29.6zM950.1 470.50h29.6v3.56h-29.6zM1008.2 470.50h29.6v3.56h-29.6zM543.6 473.66h29.6v3.56h-29.6zM630.7 473.66h58.7v3.56h-58.7zM630.7 476.81h29.6v3.56h-29.6zM922.0 476.81h28.7v3.56h-28.7zM396.6 479.97h60.4v3.56h-60.4zM456.4 483.13h29.6v3.56h-29.6zM979.2 483.13h29.6v3.56h-29.6zM427.4 486.29h29.6v3.56h-29.6zM892.0 486.29h87.7v3.56h-87.7zM1037.2 486.29h29.6v3.56h-29.6zM396.6 489.45h31.4v3.56h-31.4zM922.0 489.45h28.7v3.56h-28.7zM1037.2 489.45h29.6v3.56h-29.6zM543.6 495.76h29.6v3.56h-29.6zM1066.3 498.92h29.0v3.56h-29.0zM659.7 502.08h29.6v3.56h-29.6zM717.8 502.08h29.6v3.56h-29.6zM1037.2 502.08h29.6v3.56h-29.6zM456.4 505.23h29.6v3.56h-29.6zM1066.3 505.23h29.0v3.56h-29.0zM427.4 508.39h29.6v3.56h-29.6zM543.6 508.39h29.6v3.56h-29.6zM804.9 508.39h29.6v3.56h-29.6zM979.2 508.39h29.6v3.56h-29.6zM1037.2 508.39h29.6v3.56h-29.6zM456.4 511.55h29.6v3.56h-29.6zM804.9 511.55h29.6v3.56h-29.6zM950.1 514.71h29.6v3.56h-29.6zM456.4 517.87h29.6v3.56h-29.6zM1066.3 517.87h29.0v3.56h-29.0zM659.7 521.02h29.6v3.56h-29.6zM804.9 521.02h29.6v3.56h-29.6zM427.4 524.18h29.6v3.56h-29.6zM1066.3 524.18h29.0v3.56h-29.0zM427.4 530.50h29.6v3.56h-29.6zM804.9 533.65h29.6v3.56h-29.6zM1008.2 533.65h29.6v3.56h-29.6zM922.0 536.81h28.7v3.56h-28.7zM1008.2 536.81h29.6v3.56h-29.6zM717.8 539.97h29.6v3.56h-29.6zM863.0 539.97h29.6v3.56h-29.6zM514.5 543.13h29.6v3.56h-29.6zM717.8 543.13h29.6v3.56h-29.6zM746.8 546.29h29.6v3.56h-29.6zM979.2 546.29h58.7v3.56h-58.7zM485.5 549.44h58.7v3.56h-58.7zM979.2 549.44h29.6v3.56h-29.6zM892.0 552.60h30.6v3.56h-30.6zM1008.2 552.60h29.6v3.56h-29.6zM922.0 555.76h28.7v3.56h-28.7zM396.6 562.07h60.4v3.56h-60.4zM775.9 571.55h29.6v3.56h-29.6zM1037.2 574.71h29.6v3.56h-29.6zM775.9 577.86h29.6v3.56h-29.6zM863.0 577.86h29.6v3.56h-29.6zM1066.3 577.86h29.0v3.56h-29.0zM717.8 581.02h29.6v3.56h-29.6zM1066.3 581.02h29.0v3.56h-29.0zM427.4 584.18h29.6v3.56h-29.6zM863.0 587.34h29.6v3.56h-29.6zM1037.2 587.34h29.6v3.56h-29.6zM717.8 593.65h29.6v3.56h-29.6zM1008.2 593.65h58.7v3.56h-58.7zM1066.3 599.97h29.0v3.56h-29.0zM543.6 606.28h29.6v3.56h-29.6zM717.8 606.28h29.6v3.56h-29.6zM1008.2 612.60h29.6v3.56h-29.6zM1066.3 612.60h29.0v3.56h-29.0zM1037.2 615.76h29.6v3.56h-29.6zM427.4 622.07h29.6v3.56h-29.6zM1008.2 622.07h29.6v3.56h-29.6zM514.5 631.55h29.6v3.56h-29.6zM1008.2 637.86h29.6v3.56h-29.6zM601.6 641.02h29.6v3.56h-29.6zM717.8 641.02h29.6v3.56h-29.6zM1008.2 641.02h29.6v3.56h-29.6zM601.6 644.18h29.6v3.56h-29.6zM1037.2 644.18h29.6v3.56h-29.6zM775.9 653.65h29.6v3.56h-29.6zM1066.3 653.65h29.0v3.56h-29.0zM775.9 656.81h29.6v3.56h-29.6zM1008.2 663.12h29.6v3.56h-29.6zM775.9 666.28h29.6v3.56h-29.6zM396.6 672.60h31.4v3.56h-31.4zM1037.2 672.60h29.6v3.56h-29.6zM1037.2 675.75h29.6v3.56h-29.6zM922.0 678.91h28.7v3.56h-28.7zM1037.2 678.91h29.6v3.56h-29.6zM950.1 682.07h29.6v3.56h-29.6zM1008.2 682.07h58.7v3.56h-58.7zM863.0 685.23h29.6v3.56h-29.6zM950.1 685.23h87.7v3.56h-87.7zM572.6 688.38h29.6v3.56h-29.6zM659.7 688.38h29.6v3.56h-29.6zM746.8 688.38h29.6v3.56h-29.6zM863.0 688.38h29.6v3.56h-29.6zM979.2 688.38h29.6v3.56h-29.6zM1037.2 688.38h29.6v3.56h-29.6zM746.8 691.54h58.7v3.56h-58.7zM863.0 691.54h29.6v3.56h-29.6zM950.1 691.54h29.6v3.56h-29.6zM1066.3 691.54h29.0v3.56h-29.0zM659.7 694.70h29.6v3.56h-29.6zM746.8 694.70h29.6v3.56h-29.6zM834.0 697.86h29.6v3.56h-29.6zM717.8 704.17h29.6v3.56h-29.6zM1037.2 704.17h58.1v3.56h-58.1zM1008.2 707.33h29.6v3.56h-29.6zM1066.3 707.33h29.0v3.56h-29.0zM804.9 710.49h29.6v3.56h-29.6zM922.0 713.65h28.7v3.56h-28.7zM922.0 716.80h28.7v3.56h-28.7zM979.2 716.80h29.6v3.56h-29.6zM601.6 719.96h29.6v3.56h-29.6zM717.8 719.96h29.6v3.56h-29.6zM979.2 719.96h29.6v3.56h-29.6zM1066.3 719.96h29.0v3.56h-29.0zM601.6 723.12h29.6v3.56h-29.6zM1037.2 723.12h29.6v3.56h-29.6zM804.9 726.28h29.6v3.56h-29.6zM892.0 726.28h30.6v3.56h-30.6zM1066.3 726.28h29.0v3.56h-29.0zM396.6 732.59h31.4v3.56h-31.4zM601.6 732.59h29.6v3.56h-29.6zM543.6 735.75h29.6v3.56h-29.6zM601.6 735.75h29.6v3.56h-29.6zM804.9 735.75h29.6v3.56h-29.6zM922.0 735.75h28.7v3.56h-28.7zM601.6 738.91h29.6v3.56h-29.6zM922.0 738.91h57.8v3.56h-57.8zM1037.2 738.91h58.1v3.56h-58.1zM950.1 742.07h29.6v3.56h-29.6zM1066.3 742.07h29.0v3.56h-29.0zM601.6 745.22h58.7v3.56h-58.7zM1008.2 745.22h29.6v3.56h-29.6zM1066.3 745.22h29.0v3.56h-29.0zM601.6 748.38h29.6v3.56h-29.6zM863.0 748.38h29.6v3.56h-29.6zM1008.2 748.38h29.6v3.56h-29.6zM630.7 751.54h29.6v3.56h-29.6zM979.2 751.54h29.6v3.56h-29.6zM1037.2 754.70h58.1v3.56h-58.1zM1008.2 757.86h87.1v3.56h-87.1zM427.4 770.49h29.6v3.56h-29.6zM950.1 770.49h29.6v3.56h-29.6zM1008.2 770.49h29.6v3.56h-29.6zM1066.3 770.49h29.0v3.56h-29.0zM1066.3 773.64h29.0v3.56h-29.0zM514.5 779.96h29.6v3.56h-29.6zM1008.2 779.96h29.6v3.56h-29.6zM717.8 789.43h29.6v3.56h-29.6zM922.0 789.43h28.7v3.56h-28.7zM1066.3 802.06h29.0v3.56h-29.0zM1037.2 805.22h29.6v3.56h-29.6zM1066.3 808.38h29.0v3.56h-29.0zM572.6 811.54h29.6v3.56h-29.6zM1037.2 811.54h29.6v3.56h-29.6zM922.0 814.70h28.7v3.56h-28.7zM717.8 821.01h29.6v3.56h-29.6zM775.9 821.01h29.6v3.56h-29.6zM775.9 824.17h29.6v3.56h-29.6zM863.0 824.17h29.6v3.56h-29.6zM1037.2 824.17h29.6v3.56h-29.6zM863.0 827.33h29.6v3.56h-29.6zM456.4 830.48h29.6v3.56h-29.6zM746.8 830.48h29.6v3.56h-29.6zM456.4 833.64h29.6v3.56h-29.6zM572.6 833.64h29.6v3.56h-29.6z"/><path fill="#fffbb8" d="M195.1 186.30h29.6v3.56h-29.6zM717.8 186.30h29.6v3.56h-29.6zM456.4 189.46h29.6v3.56h-29.6zM1066.3 189.46h29.0v3.56h-29.0zM950.1 192.62h29.6v3.56h-29.6zM427.4 195.77h58.7v3.56h-58.7zM514.5 195.77h29.6v3.56h-29.6zM922.0 195.77h57.8v3.56h-57.8zM1008.2 195.77h29.6v3.56h-29.6zM746.8 202.09h29.6v3.56h-29.6zM659.7 205.25h29.6v3.56h-29.6zM396.6 208.40h31.4v3.56h-31.4zM950.1 208.40h29.6v3.56h-29.6zM630.7 211.56h29.6v3.56h-29.6zM746.8 211.56h29.6v3.56h-29.6zM892.0 211.56h58.7v3.56h-58.7zM1037.2 211.56h58.1v3.56h-58.1zM572.6 214.72h29.6v3.56h-29.6zM659.7 214.72h29.6v3.56h-29.6zM1008.2 214.72h29.6v3.56h-29.6zM922.0 217.88h57.8v3.56h-57.8zM717.8 221.04h58.7v3.56h-58.7zM922.0 221.04h28.7v3.56h-28.7zM1008.2 221.04h29.6v3.56h-29.6zM456.4 224.19h29.6v3.56h-29.6zM630.7 224.19h29.6v3.56h-29.6zM396.6 227.35h60.4v3.56h-60.4zM396.6 230.51h31.4v3.56h-31.4zM456.4 230.51h29.6v3.56h-29.6zM1008.2 236.82h29.6v3.56h-29.6zM572.6 239.98h29.6v3.56h-29.6zM717.8 239.98h29.6v3.56h-29.6zM950.1 239.98h29.6v3.56h-29.6zM746.8 243.14h29.6v3.56h-29.6zM863.0 243.14h29.6v3.56h-29.6zM922.0 243.14h28.7v3.56h-28.7zM396.6 246.30h60.4v3.56h-60.4zM456.4 249.46h29.6v3.56h-29.6zM572.6 249.46h29.6v3.56h-29.6zM427.4 252.61h29.6v3.56h-29.6zM601.6 252.61h58.7v3.56h-58.7zM688.8 252.61h29.6v3.56h-29.6zM922.0 252.61h28.7v3.56h-28.7zM456.4 255.77h29.6v3.56h-29.6zM572.6 255.77h29.6v3.56h-29.6zM1037.2 255.77h29.6v3.56h-29.6zM456.4 258.93h29.6v3.56h-29.6zM396.6 262.09h60.4v3.56h-60.4zM572.6 262.09h29.6v3.56h-29.6zM775.9 262.09h29.6v3.56h-29.6zM950.1 262.09h29.6v3.56h-29.6zM746.8 265.24h29.6v3.56h-29.6zM979.2 265.24h29.6v3.56h-29.6zM427.4 268.40h29.6v3.56h-29.6zM514.5 268.40h29.6v3.56h-29.6zM396.6 271.56h31.4v3.56h-31.4zM396.6 274.72h31.4v3.56h-31.4zM922.0 274.72h28.7v3.56h-28.7zM485.5 277.88h58.7v3.56h-58.7zM601.6 277.88h29.6v3.56h-29.6zM688.8 277.88h29.6v3.56h-29.6zM892.0 277.88h30.6v3.56h-30.6zM630.7 284.19h29.6v3.56h-29.6zM1008.2 284.19h29.6v3.56h-29.6zM456.4 287.35h29.6v3.56h-29.6zM630.7 287.35h29.6v3.56h-29.6zM456.4 290.51h29.6v3.56h-29.6zM543.6 290.51h29.6v3.56h-29.6zM1008.2 290.51h29.6v3.56h-29.6zM1066.3 290.51h29.0v3.56h-29.0zM630.7 293.66h29.6v3.56h-29.6zM746.8 293.66h29.6v3.56h-29.6zM1008.2 296.82h29.6v3.56h-29.6zM601.6 299.98h29.6v3.56h-29.6zM892.0 299.98h30.6v3.56h-30.6zM1008.2 299.98h58.7v3.56h-58.7zM396.6 303.14h31.4v3.56h-31.4zM979.2 303.14h29.6v3.56h-29.6zM396.6 306.30h60.4v3.56h-60.4zM427.4 309.45h29.6v3.56h-29.6zM717.8 309.45h29.6v3.56h-29.6zM396.6 312.61h31.4v3.56h-31.4zM396.6 315.77h60.4v3.56h-60.4zM543.6 315.77h58.7v3.56h-58.7zM630.7 315.77h29.6v3.56h-29.6zM717.8 315.77h29.6v3.56h-29.6zM456.4 318.93h29.6v3.56h-29.6zM922.0 318.93h28.7v3.56h-28.7zM543.6 331.56h29.6v3.56h-29.6zM1008.2 331.56h29.6v3.56h-29.6zM1008.2 337.87h29.6v3.56h-29.6zM1008.2 341.03h29.6v3.56h-29.6zM1066.3 341.03h29.0v3.56h-29.0zM659.7 344.19h29.6v3.56h-29.6zM892.0 344.19h30.6v3.56h-30.6zM572.6 353.66h29.6v3.56h-29.6zM979.2 353.66h58.7v3.56h-58.7zM922.0 356.82h28.7v3.56h-28.7zM979.2 356.82h29.6v3.56h-29.6zM717.8 363.13h29.6v3.56h-29.6zM1008.2 363.13h29.6v3.56h-29.6zM804.9 366.29h29.6v3.56h-29.6zM396.6 369.45h31.4v3.56h-31.4zM1037.2 369.45h58.1v3.56h-58.1zM543.6 372.61h29.6v3.56h-29.6zM659.7 372.61h29.6v3.56h-29.6zM746.8 372.61h29.6v3.56h-29.6zM746.8 375.77h29.6v3.56h-29.6zM804.9 375.77h29.6v3.56h-29.6zM892.0 375.77h30.6v3.56h-30.6zM396.6 378.92h31.4v3.56h-31.4zM456.4 378.92h29.6v3.56h-29.6zM514.5 378.92h29.6v3.56h-29.6zM863.0 378.92h29.6v3.56h-29.6zM630.7 382.08h29.6v3.56h-29.6zM746.8 382.08h29.6v3.56h-29.6zM922.0 382.08h28.7v3.56h-28.7zM1008.2 382.08h29.6v3.56h-29.6zM1066.3 382.08h29.0v3.56h-29.0zM456.4 385.24h29.6v3.56h-29.6zM950.1 385.24h29.6v3.56h-29.6zM1008.2 385.24h29.6v3.56h-29.6zM922.0 388.40h28.7v3.56h-28.7zM1066.3 388.40h29.0v3.56h-29.0zM950.1 391.55h29.6v3.56h-29.6zM688.8 394.71h29.6v3.56h-29.6zM863.0 394.71h29.6v3.56h-29.6zM1008.2 397.87h29.6v3.56h-29.6zM922.0 401.03h28.7v3.56h-28.7zM166.0 404.19h29.6v3.56h-29.6zM485.5 407.34h58.7v3.56h-58.7zM1008.2 407.34h29.6v3.56h-29.6zM396.6 410.50h31.4v3.56h-31.4zM892.0 410.50h30.6v3.56h-30.6zM950.1 410.50h29.6v3.56h-29.6zM601.6 413.66h29.6v3.56h-29.6zM514.5 416.82h29.6v3.56h-29.6zM979.2 416.82h29.6v3.56h-29.6zM514.5 419.97h29.6v3.56h-29.6zM950.1 419.97h29.6v3.56h-29.6zM543.6 423.13h29.6v3.56h-29.6zM922.0 423.13h28.7v3.56h-28.7zM396.6 426.29h31.4v3.56h-31.4zM601.6 426.29h29.6v3.56h-29.6zM1037.2 429.45h29.6v3.56h-29.6zM688.8 432.61h29.6v3.56h-29.6zM950.1 432.61h29.6v3.56h-29.6zM427.4 435.76h29.6v3.56h-29.6zM514.5 435.76h58.7v3.56h-58.7zM659.7 435.76h58.7v3.56h-58.7zM863.0 435.76h59.6v3.56h-59.6zM1066.3 435.76h29.0v3.56h-29.0zM601.6 442.08h29.6v3.56h-29.6zM892.0 445.24h30.6v3.56h-30.6zM922.0 451.55h28.7v3.56h-28.7zM922.0 454.71h28.7v3.56h-28.7zM1008.2 454.71h29.6v3.56h-29.6zM979.2 457.87h29.6v3.56h-29.6zM195.1 461.03h29.6v3.56h-29.6zM543.6 461.03h29.6v3.56h-29.6zM1066.3 467.34h29.0v3.56h-29.0zM688.8 470.50h29.6v3.56h-29.6zM863.0 473.66h59.6v3.56h-59.6zM659.7 479.97h29.6v3.56h-29.6zM979.2 479.97h29.6v3.56h-29.6zM950.1 483.13h29.6v3.56h-29.6zM1008.2 483.13h29.6v3.56h-29.6zM456.4 486.29h29.6v3.56h-29.6zM688.8 486.29h29.6v3.56h-29.6zM1008.2 489.45h29.6v3.56h-29.6zM1066.3 489.45h29.0v3.56h-29.0zM630.7 492.60h29.6v3.56h-29.6zM979.2 492.60h29.6v3.56h-29.6zM922.0 495.76h28.7v3.56h-28.7zM396.6 502.08h31.4v3.56h-31.4zM892.0 502.08h30.6v3.56h-30.6zM950.1 502.08h29.6v3.56h-29.6zM1066.3 502.08h29.0v3.56h-29.0zM543.6 505.23h29.6v3.56h-29.6zM1037.2 505.23h29.6v3.56h-29.6zM485.5 508.39h29.6v3.56h-29.6zM630.7 511.55h29.6v3.56h-29.6zM922.0 511.55h28.7v3.56h-28.7zM1008.2 511.55h87.1v3.56h-87.1zM396.6 521.02h60.4v3.56h-60.4zM863.0 521.02h29.6v3.56h-29.6zM456.4 524.18h29.6v3.56h-29.6zM456.4 527.34h29.6v3.56h-29.6zM630.7 527.34h29.6v3.56h-29.6zM1037.2 527.34h29.6v3.56h-29.6zM485.5 533.65h29.6v3.56h-29.6zM514.5 536.81h29.6v3.56h-29.6zM630.7 536.81h29.6v3.56h-29.6zM775.9 539.97h29.6v3.56h-29.6zM456.4 546.29h87.7v3.56h-87.7zM922.0 546.29h28.7v3.56h-28.7zM456.4 549.44h29.6v3.56h-29.6zM1008.2 549.44h29.6v3.56h-29.6zM456.4 552.60h58.7v3.56h-58.7zM717.8 552.60h29.6v3.56h-29.6zM427.4 558.92h29.6v3.56h-29.6zM1066.3 562.07h29.0v3.56h-29.0zM396.6 565.23h31.4v3.56h-31.4zM659.7 565.23h29.6v3.56h-29.6zM1066.3 568.39h29.0v3.56h-29.0zM950.1 571.55h29.6v3.56h-29.6zM1066.3 571.55h29.0v3.56h-29.0zM514.5 574.71h29.6v3.56h-29.6zM950.1 574.71h29.6v3.56h-29.6zM717.8 577.86h29.6v3.56h-29.6zM601.6 581.02h29.6v3.56h-29.6zM775.9 581.02h29.6v3.56h-29.6zM863.0 581.02h29.6v3.56h-29.6zM1037.2 581.02h29.6v3.56h-29.6zM601.6 584.18h29.6v3.56h-29.6zM863.0 584.18h29.6v3.56h-29.6zM922.0 584.18h57.8v3.56h-57.8zM1066.3 584.18h29.0v3.56h-29.0zM396.6 590.49h31.4v3.56h-31.4zM543.6 590.49h29.6v3.56h-29.6zM717.8 590.49h29.6v3.56h-29.6zM427.4 593.65h29.6v3.56h-29.6zM543.6 593.65h29.6v3.56h-29.6zM396.6 596.81h60.4v3.56h-60.4zM396.6 603.13h60.4v3.56h-60.4zM1008.2 603.13h29.6v3.56h-29.6zM1066.3 603.13h29.0v3.56h-29.0zM543.6 609.44h29.6v3.56h-29.6zM427.4 615.76h29.6v3.56h-29.6zM1066.3 615.76h29.0v3.56h-29.0zM427.4 618.91h29.6v3.56h-29.6zM717.8 622.07h29.6v3.56h-29.6zM456.4 628.39h29.6v3.56h-29.6zM514.5 628.39h29.6v3.56h-29.6zM1008.2 628.39h29.6v3.56h-29.6zM427.4 631.55h29.6v3.56h-29.6zM1008.2 631.55h29.6v3.56h-29.6zM1066.3 631.55h29.0v3.56h-29.0zM427.4 634.70h29.6v3.56h-29.6zM514.5 634.70h29.6v3.56h-29.6zM601.6 634.70h29.6v3.56h-29.6zM775.9 634.70h29.6v3.56h-29.6zM456.4 637.86h29.6v3.56h-29.6zM514.5 637.86h29.6v3.56h-29.6zM456.4 644.18h29.6v3.56h-29.6zM775.9 644.18h29.6v3.56h-29.6zM834.0 650.49h29.6v3.56h-29.6zM572.6 656.81h29.6v3.56h-29.6zM485.5 659.97h29.6v3.56h-29.6zM1008.2 659.97h29.6v3.56h-29.6zM1037.2 666.28h29.6v3.56h-29.6zM396.6 669.44h31.4v3.56h-31.4zM717.8 669.44h29.6v3.56h-29.6zM1008.2 669.44h58.7v3.56h-58.7zM717.8 672.60h29.6v3.56h-29.6zM834.0 672.60h29.6v3.56h-29.6zM514.5 675.75h29.6v3.56h-29.6zM1008.2 675.75h29.6v3.56h-29.6zM630.7 678.91h29.6v3.56h-29.6zM834.0 678.91h29.6v3.56h-29.6zM601.6 682.07h58.7v3.56h-58.7zM892.0 682.07h30.6v3.56h-30.6zM630.7 685.23h58.7v3.56h-58.7zM892.0 685.23h30.6v3.56h-30.6zM601.6 688.38h29.6v3.56h-29.6zM834.0 688.38h29.6v3.56h-29.6zM950.1 688.38h29.6v3.56h-29.6zM1008.2 688.38h29.6v3.56h-29.6zM572.6 691.54h29.6v3.56h-29.6zM717.8 694.70h29.6v3.56h-29.6zM1066.3 697.86h29.0v3.56h-29.0zM834.0 701.02h29.6v3.56h-29.6zM804.9 704.17h29.6v3.56h-29.6zM863.0 704.17h29.6v3.56h-29.6zM1037.2 707.33h29.6v3.56h-29.6zM543.6 710.49h29.6v3.56h-29.6zM630.7 710.49h29.6v3.56h-29.6zM979.2 710.49h29.6v3.56h-29.6zM1066.3 710.49h29.0v3.56h-29.0zM630.7 713.65h29.6v3.56h-29.6zM688.8 713.65h29.6v3.56h-29.6zM979.2 713.65h29.6v3.56h-29.6zM485.5 719.96h29.6v3.56h-29.6zM804.9 719.96h29.6v3.56h-29.6zM485.5 723.12h29.6v3.56h-29.6zM630.7 723.12h29.6v3.56h-29.6zM804.9 723.12h29.6v3.56h-29.6zM1066.3 723.12h29.0v3.56h-29.0zM427.4 729.44h29.6v3.56h-29.6zM630.7 729.44h29.6v3.56h-29.6zM804.9 729.44h29.6v3.56h-29.6zM1037.2 729.44h29.6v3.56h-29.6zM804.9 732.59h29.6v3.56h-29.6zM485.5 735.75h29.6v3.56h-29.6zM630.7 735.75h29.6v3.56h-29.6zM1037.2 735.75h29.6v3.56h-29.6zM543.6 738.91h29.6v3.56h-29.6zM543.6 742.07h29.6v3.56h-29.6zM601.6 742.07h29.6v3.56h-29.6zM543.6 745.22h29.6v3.56h-29.6zM717.8 748.38h29.6v3.56h-29.6zM950.1 748.38h29.6v3.56h-29.6zM601.6 751.54h29.6v3.56h-29.6zM863.0 751.54h29.6v3.56h-29.6zM863.0 754.70h29.6v3.56h-29.6zM979.2 754.70h29.6v3.56h-29.6zM717.8 757.86h29.6v3.56h-29.6zM717.8 764.17h29.6v3.56h-29.6zM950.1 764.17h29.6v3.56h-29.6zM1008.2 764.17h29.6v3.56h-29.6zM485.5 767.33h29.6v3.56h-29.6zM950.1 767.33h29.6v3.56h-29.6zM485.5 770.49h29.6v3.56h-29.6zM396.6 773.64h60.4v3.56h-60.4zM427.4 776.80h29.6v3.56h-29.6zM746.8 776.80h29.6v3.56h-29.6zM922.0 776.80h28.7v3.56h-28.7zM456.4 779.96h29.6v3.56h-29.6zM922.0 779.96h28.7v3.56h-28.7zM717.8 783.12h29.6v3.56h-29.6zM922.0 783.12h28.7v3.56h-28.7zM514.5 786.28h29.6v3.56h-29.6zM717.8 786.28h29.6v3.56h-29.6zM834.0 789.43h29.6v3.56h-29.6zM543.6 792.59h29.6v3.56h-29.6zM717.8 792.59h29.6v3.56h-29.6zM456.4 795.75h29.6v3.56h-29.6zM630.7 795.75h29.6v3.56h-29.6zM863.0 798.91h29.6v3.56h-29.6zM456.4 802.06h29.6v3.56h-29.6zM543.6 802.06h29.6v3.56h-29.6zM950.1 802.06h29.6v3.56h-29.6zM427.4 805.22h29.6v3.56h-29.6zM630.7 805.22h29.6v3.56h-29.6zM950.1 805.22h29.6v3.56h-29.6zM396.6 808.38h60.4v3.56h-60.4zM543.6 808.38h29.6v3.56h-29.6zM922.0 811.54h28.7v3.56h-28.7zM1066.3 811.54h29.0v3.56h-29.0zM396.6 814.70h31.4v3.56h-31.4zM775.9 814.70h29.6v3.56h-29.6zM572.6 817.85h29.6v3.56h-29.6zM775.9 817.85h29.6v3.56h-29.6zM863.0 817.85h29.6v3.56h-29.6zM1037.2 817.85h29.6v3.56h-29.6zM396.6 821.01h31.4v3.56h-31.4zM456.4 821.01h29.6v3.56h-29.6zM456.4 824.17h29.6v3.56h-29.6zM1066.3 824.17h29.0v3.56h-29.0zM396.6 827.33h31.4v3.56h-31.4zM572.6 827.33h29.6v3.56h-29.6zM1037.2 827.33h58.1v3.56h-58.1zM1037.2 833.64h29.6v3.56h-29.6z"/><path fill="#fff8b4" d="M630.7 189.46h29.6v3.56h-29.6zM892.0 189.46h30.6v3.56h-30.6zM717.8 192.62h29.6v3.56h-29.6zM1037.2 192.62h29.6v3.56h-29.6zM572.6 195.77h29.6v3.56h-29.6zM717.8 195.77h29.6v3.56h-29.6zM1037.2 195.77h58.1v3.56h-58.1zM396.6 198.93h31.4v3.56h-31.4zM922.0 198.93h28.7v3.56h-28.7zM1008.2 198.93h29.6v3.56h-29.6zM630.7 202.09h29.6v3.56h-29.6zM340.3 205.25h29.6v3.56h-29.6zM1008.2 205.25h29.6v3.56h-29.6zM1037.2 208.40h29.6v3.56h-29.6zM396.6 211.56h31.4v3.56h-31.4zM396.6 214.72h31.4v3.56h-31.4zM456.4 214.72h58.7v3.56h-58.7zM688.8 214.72h58.7v3.56h-58.7zM1037.2 214.72h29.6v3.56h-29.6zM1037.2 217.88h29.6v3.56h-29.6zM427.4 221.04h29.6v3.56h-29.6zM1066.3 221.04h29.0v3.56h-29.0zM892.0 224.19h30.6v3.56h-30.6zM456.4 233.67h29.6v3.56h-29.6zM396.6 236.82h31.4v3.56h-31.4zM456.4 236.82h29.6v3.56h-29.6zM922.0 236.82h28.7v3.56h-28.7zM979.2 236.82h29.6v3.56h-29.6zM514.5 239.98h29.6v3.56h-29.6zM630.7 239.98h29.6v3.56h-29.6zM746.8 239.98h29.6v3.56h-29.6zM892.0 239.98h30.6v3.56h-30.6zM1037.2 239.98h58.1v3.56h-58.1zM1066.3 246.30h29.0v3.56h-29.0zM396.6 249.46h31.4v3.56h-31.4zM922.0 249.46h28.7v3.56h-28.7zM979.2 249.46h29.6v3.56h-29.6zM514.5 252.61h29.6v3.56h-29.6zM572.6 252.61h29.6v3.56h-29.6zM1037.2 252.61h29.6v3.56h-29.6zM659.7 255.77h29.6v3.56h-29.6zM863.0 255.77h29.6v3.56h-29.6zM746.8 262.09h29.6v3.56h-29.6zM688.8 268.40h58.7v3.56h-58.7zM804.9 268.40h29.6v3.56h-29.6zM979.2 271.56h29.6v3.56h-29.6zM892.0 274.72h30.6v3.56h-30.6zM979.2 274.72h58.7v3.56h-58.7zM630.7 277.88h29.6v3.56h-29.6zM804.9 277.88h29.6v3.56h-29.6zM1037.2 277.88h29.6v3.56h-29.6zM396.6 281.03h31.4v3.56h-31.4zM979.2 284.19h29.6v3.56h-29.6zM1037.2 284.19h29.6v3.56h-29.6zM485.5 287.35h29.6v3.56h-29.6zM572.6 287.35h29.6v3.56h-29.6zM427.4 290.51h29.6v3.56h-29.6zM514.5 290.51h29.6v3.56h-29.6zM572.6 290.51h29.6v3.56h-29.6zM688.8 290.51h29.6v3.56h-29.6zM979.2 290.51h29.6v3.56h-29.6zM543.6 299.98h29.6v3.56h-29.6zM1037.2 306.30h29.6v3.56h-29.6zM485.5 309.45h29.6v3.56h-29.6zM804.9 309.45h29.6v3.56h-29.6zM979.2 309.45h29.6v3.56h-29.6zM979.2 318.93h29.6v3.56h-29.6zM253.2 322.08h29.6v3.56h-29.6zM224.1 328.40h29.6v3.56h-29.6zM1037.2 328.40h29.6v3.56h-29.6zM1037.2 331.56h29.6v3.56h-29.6zM1008.2 334.72h29.6v3.56h-29.6zM340.3 337.87h29.6v3.56h-29.6zM1066.3 337.87h29.0v3.56h-29.0zM396.6 344.19h31.4v3.56h-31.4zM630.7 344.19h29.6v3.56h-29.6zM688.8 344.19h29.6v3.56h-29.6zM1037.2 347.35h58.1v3.56h-58.1zM1008.2 350.50h58.7v3.56h-58.7zM1037.2 359.98h29.6v3.56h-29.6zM195.1 363.13h29.6v3.56h-29.6zM1037.2 363.13h29.6v3.56h-29.6zM195.1 369.45h29.6v3.56h-29.6zM688.8 372.61h29.6v3.56h-29.6zM922.0 375.77h28.7v3.56h-28.7zM688.8 378.92h29.6v3.56h-29.6zM979.2 378.92h29.6v3.56h-29.6zM195.1 382.08h29.6v3.56h-29.6zM1066.3 385.24h29.0v3.56h-29.0zM1008.2 388.40h29.6v3.56h-29.6zM922.0 394.71h57.8v3.56h-57.8zM979.2 401.03h29.6v3.56h-29.6zM282.2 404.19h58.7v3.56h-58.7zM1037.2 404.19h29.6v3.56h-29.6zM166.0 407.34h29.6v3.56h-29.6zM282.2 407.34h29.6v3.56h-29.6zM572.6 407.34h29.6v3.56h-29.6zM688.8 407.34h29.6v3.56h-29.6zM922.0 407.34h28.7v3.56h-28.7zM1037.2 407.34h29.6v3.56h-29.6zM427.4 410.50h29.6v3.56h-29.6zM1008.2 410.50h58.7v3.56h-58.7zM396.6 413.66h31.4v3.56h-31.4zM979.2 413.66h29.6v3.56h-29.6zM1008.2 416.82h58.7v3.56h-58.7zM863.0 419.97h29.6v3.56h-29.6zM1037.2 419.97h29.6v3.56h-29.6zM456.4 426.29h29.6v3.56h-29.6zM922.0 426.29h57.8v3.56h-57.8zM601.6 435.76h29.6v3.56h-29.6zM195.1 445.24h29.6v3.56h-29.6zM543.6 445.24h29.6v3.56h-29.6zM922.0 445.24h28.7v3.56h-28.7zM979.2 448.39h29.6v3.56h-29.6zM601.6 451.55h29.6v3.56h-29.6zM979.2 461.03h58.7v3.56h-58.7zM630.7 464.18h29.6v3.56h-29.6zM543.6 470.50h29.6v3.56h-29.6zM1066.3 470.50h29.0v3.56h-29.0zM601.6 473.66h29.6v3.56h-29.6zM717.8 479.97h29.6v3.56h-29.6zM863.0 486.29h29.6v3.56h-29.6zM979.2 486.29h29.6v3.56h-29.6zM1066.3 492.60h29.0v3.56h-29.0zM950.1 495.76h58.7v3.56h-58.7zM1037.2 495.76h58.1v3.56h-58.1zM1008.2 498.92h29.6v3.56h-29.6zM427.4 511.55h29.6v3.56h-29.6zM950.1 511.55h29.6v3.56h-29.6zM922.0 514.71h28.7v3.56h-28.7zM1037.2 514.71h29.6v3.56h-29.6zM1037.2 517.87h29.6v3.56h-29.6zM456.4 521.02h29.6v3.56h-29.6zM688.8 521.02h29.6v3.56h-29.6zM396.6 524.18h31.4v3.56h-31.4zM979.2 530.50h29.6v3.56h-29.6zM892.0 533.65h30.6v3.56h-30.6zM892.0 536.81h30.6v3.56h-30.6zM630.7 539.97h29.6v3.56h-29.6zM1008.2 539.97h29.6v3.56h-29.6zM456.4 543.13h29.6v3.56h-29.6zM804.9 543.13h29.6v3.56h-29.6zM717.8 546.29h29.6v3.56h-29.6zM514.5 552.60h29.6v3.56h-29.6zM514.5 555.76h29.6v3.56h-29.6zM717.8 555.76h29.6v3.56h-29.6zM717.8 558.92h29.6v3.56h-29.6zM775.9 558.92h29.6v3.56h-29.6zM456.4 562.07h29.6v3.56h-29.6zM717.8 562.07h29.6v3.56h-29.6zM514.5 565.23h29.6v3.56h-29.6zM746.8 565.23h29.6v3.56h-29.6zM1066.3 565.23h29.0v3.56h-29.0zM514.5 568.39h29.6v3.56h-29.6zM717.8 568.39h29.6v3.56h-29.6zM775.9 568.39h29.6v3.56h-29.6zM427.4 571.55h29.6v3.56h-29.6zM514.5 571.55h29.6v3.56h-29.6zM572.6 571.55h29.6v3.56h-29.6zM717.8 571.55h29.6v3.56h-29.6zM717.8 574.71h29.6v3.56h-29.6zM1037.2 577.86h29.6v3.56h-29.6zM950.1 581.02h29.6v3.56h-29.6zM717.8 596.81h58.7v3.56h-58.7zM1037.2 596.81h29.6v3.56h-29.6zM396.6 599.97h60.4v3.56h-60.4zM543.6 599.97h29.6v3.56h-29.6zM717.8 599.97h29.6v3.56h-29.6zM804.9 603.13h29.6v3.56h-29.6zM396.6 606.28h31.4v3.56h-31.4zM1008.2 606.28h29.6v3.56h-29.6zM427.4 612.60h29.6v3.56h-29.6zM543.6 612.60h29.6v3.56h-29.6zM775.9 612.60h29.6v3.56h-29.6zM543.6 615.76h29.6v3.56h-29.6zM717.8 615.76h29.6v3.56h-29.6zM514.5 618.91h29.6v3.56h-29.6zM746.8 618.91h29.6v3.56h-29.6zM456.4 625.23h29.6v3.56h-29.6zM514.5 625.23h58.7v3.56h-58.7zM717.8 625.23h29.6v3.56h-29.6zM427.4 628.39h29.6v3.56h-29.6zM456.4 634.70h29.6v3.56h-29.6zM543.6 634.70h29.6v3.56h-29.6zM717.8 637.86h29.6v3.56h-29.6zM775.9 637.86h29.6v3.56h-29.6zM1066.3 637.86h29.0v3.56h-29.0zM456.4 647.33h29.6v3.56h-29.6zM543.6 647.33h29.6v3.56h-29.6zM775.9 647.33h29.6v3.56h-29.6zM1037.2 647.33h29.6v3.56h-29.6zM456.4 653.65h29.6v3.56h-29.6zM485.5 663.12h58.7v3.56h-58.7zM396.6 666.28h31.4v3.56h-31.4zM514.5 666.28h29.6v3.56h-29.6zM863.0 669.44h29.6v3.56h-29.6zM514.5 672.60h29.6v3.56h-29.6zM1008.2 672.60h29.6v3.56h-29.6zM396.6 678.91h31.4v3.56h-31.4zM572.6 678.91h58.7v3.56h-58.7zM746.8 678.91h29.6v3.56h-29.6zM543.6 682.07h29.6v3.56h-29.6zM717.8 682.07h29.6v3.56h-29.6zM834.0 682.07h29.6v3.56h-29.6zM922.0 682.07h28.7v3.56h-28.7zM543.6 685.23h29.6v3.56h-29.6zM601.6 685.23h29.6v3.56h-29.6zM746.8 685.23h29.6v3.56h-29.6zM834.0 685.23h29.6v3.56h-29.6zM804.9 688.38h29.6v3.56h-29.6zM601.6 691.54h58.7v3.56h-58.7zM688.8 694.70h29.6v3.56h-29.6zM834.0 694.70h29.6v3.56h-29.6zM717.8 697.86h29.6v3.56h-29.6zM659.7 704.17h29.6v3.56h-29.6zM834.0 704.17h29.6v3.56h-29.6zM659.7 707.33h29.6v3.56h-29.6zM659.7 710.49h29.6v3.56h-29.6zM543.6 713.65h29.6v3.56h-29.6zM804.9 713.65h29.6v3.56h-29.6zM1066.3 713.65h29.0v3.56h-29.0zM543.6 716.80h58.7v3.56h-58.7zM892.0 716.80h30.6v3.56h-30.6zM1008.2 716.80h29.6v3.56h-29.6zM630.7 719.96h29.6v3.56h-29.6zM892.0 719.96h30.6v3.56h-30.6zM396.6 723.12h31.4v3.56h-31.4zM456.4 723.12h29.6v3.56h-29.6zM396.6 726.28h118.5v3.56h-118.5zM601.6 729.44h29.6v3.56h-29.6zM1066.3 729.44h29.0v3.56h-29.0zM427.4 732.59h29.6v3.56h-29.6zM688.8 732.59h29.6v3.56h-29.6zM863.0 732.59h29.6v3.56h-29.6zM396.6 735.75h60.4v3.56h-60.4zM514.5 735.75h29.6v3.56h-29.6zM688.8 735.75h29.6v3.56h-29.6zM979.2 735.75h29.6v3.56h-29.6zM485.5 738.91h29.6v3.56h-29.6zM688.8 738.91h29.6v3.56h-29.6zM485.5 742.07h58.7v3.56h-58.7zM688.8 742.07h29.6v3.56h-29.6zM1008.2 742.07h29.6v3.56h-29.6zM485.5 745.22h29.6v3.56h-29.6zM485.5 748.38h29.6v3.56h-29.6zM717.8 751.54h29.6v3.56h-29.6zM950.1 754.70h29.6v3.56h-29.6zM950.1 757.86h29.6v3.56h-29.6zM543.6 761.01h29.6v3.56h-29.6zM717.8 761.01h29.6v3.56h-29.6zM775.9 761.01h29.6v3.56h-29.6zM863.0 761.01h29.6v3.56h-29.6zM950.1 761.01h29.6v3.56h-29.6zM396.6 764.17h31.4v3.56h-31.4zM485.5 764.17h29.6v3.56h-29.6zM863.0 764.17h29.6v3.56h-29.6zM396.6 767.33h31.4v3.56h-31.4zM543.6 767.33h29.6v3.56h-29.6zM863.0 767.33h29.6v3.56h-29.6zM543.6 770.49h29.6v3.56h-29.6zM717.8 770.49h29.6v3.56h-29.6zM485.5 773.64h58.7v3.56h-58.7zM396.6 776.80h31.4v3.56h-31.4zM514.5 776.80h29.6v3.56h-29.6zM834.0 776.80h29.6v3.56h-29.6zM746.8 779.96h29.6v3.56h-29.6zM834.0 779.96h29.6v3.56h-29.6zM396.6 783.12h60.4v3.56h-60.4zM514.5 783.12h29.6v3.56h-29.6zM746.8 783.12h29.6v3.56h-29.6zM775.9 786.28h29.6v3.56h-29.6zM863.0 786.28h29.6v3.56h-29.6zM746.8 789.43h29.6v3.56h-29.6zM863.0 789.43h29.6v3.56h-29.6zM514.5 792.59h29.6v3.56h-29.6zM834.0 792.59h29.6v3.56h-29.6zM1066.3 792.59h29.0v3.56h-29.0zM543.6 795.75h58.7v3.56h-58.7zM863.0 795.75h29.6v3.56h-29.6zM543.6 798.91h58.7v3.56h-58.7zM630.7 798.91h29.6v3.56h-29.6zM746.8 798.91h29.6v3.56h-29.6zM834.0 798.91h29.6v3.56h-29.6zM950.1 798.91h29.6v3.56h-29.6zM427.4 802.06h29.6v3.56h-29.6zM630.7 802.06h29.6v3.56h-29.6zM456.4 805.22h29.6v3.56h-29.6zM572.6 805.22h29.6v3.56h-29.6zM456.4 808.38h29.6v3.56h-29.6zM601.6 808.38h58.7v3.56h-58.7zM427.4 811.54h29.6v3.56h-29.6zM746.8 811.54h29.6v3.56h-29.6zM456.4 814.70h29.6v3.56h-29.6zM572.6 814.70h58.7v3.56h-58.7zM950.1 814.70h29.6v3.56h-29.6zM1037.2 814.70h29.6v3.56h-29.6zM456.4 817.85h29.6v3.56h-29.6zM630.7 817.85h29.6v3.56h-29.6zM1037.2 821.01h58.1v3.56h-58.1zM396.6 824.17h31.4v3.56h-31.4zM630.7 824.17h29.6v3.56h-29.6zM456.4 827.33h29.6v3.56h-29.6zM659.7 827.33h29.6v3.56h-29.6zM572.6 830.48h116.8v3.56h-116.8zM1066.3 830.48h29.0v3.56h-29.0zM427.4 833.64h29.6v3.56h-29.6zM601.6 833.64h29.6v3.56h-29.6zM659.7 833.64h29.6v3.56h-29.6z"/><path fill="#fff5af" d="M224.1 186.30h29.6v3.56h-29.6zM282.2 186.30h29.6v3.56h-29.6zM427.4 189.46h29.6v3.56h-29.6zM979.2 189.46h29.6v3.56h-29.6zM253.2 192.62h29.6v3.56h-29.6zM746.8 192.62h29.6v3.56h-29.6zM1066.3 192.62h29.0v3.56h-29.0zM630.7 195.77h29.6v3.56h-29.6zM950.1 205.25h29.6v3.56h-29.6zM427.4 211.56h58.7v3.56h-58.7zM195.1 214.72h29.6v3.56h-29.6zM427.4 214.72h29.6v3.56h-29.6zM514.5 214.72h29.6v3.56h-29.6zM630.7 214.72h29.6v3.56h-29.6zM804.9 214.72h29.6v3.56h-29.6zM456.4 221.04h29.6v3.56h-29.6zM746.8 224.19h29.6v3.56h-29.6zM1037.2 224.19h29.6v3.56h-29.6zM922.0 230.51h28.7v3.56h-28.7zM1066.3 233.67h29.0v3.56h-29.0zM746.8 236.82h29.6v3.56h-29.6zM396.6 239.98h118.5v3.56h-118.5zM979.2 239.98h58.7v3.56h-58.7zM456.4 243.14h29.6v3.56h-29.6zM1066.3 249.46h29.0v3.56h-29.0zM863.0 252.61h59.6v3.56h-59.6zM688.8 255.77h29.6v3.56h-29.6zM746.8 255.77h29.6v3.56h-29.6zM396.6 258.93h31.4v3.56h-31.4zM979.2 258.93h29.6v3.56h-29.6zM340.3 262.09h29.6v3.56h-29.6zM456.4 262.09h29.6v3.56h-29.6zM1008.2 262.09h29.6v3.56h-29.6zM340.3 265.24h29.6v3.56h-29.6zM340.3 268.40h29.6v3.56h-29.6zM892.0 268.40h30.6v3.56h-30.6zM717.8 277.88h29.6v3.56h-29.6zM922.0 277.88h28.7v3.56h-28.7zM1066.3 277.88h29.0v3.56h-29.0zM396.6 287.35h31.4v3.56h-31.4zM979.2 287.35h29.6v3.56h-29.6zM485.5 290.51h29.6v3.56h-29.6zM630.7 290.51h29.6v3.56h-29.6zM804.9 290.51h29.6v3.56h-29.6zM688.8 299.98h29.6v3.56h-29.6zM979.2 299.98h29.6v3.56h-29.6zM396.6 309.45h31.4v3.56h-31.4zM456.4 309.45h29.6v3.56h-29.6zM659.7 309.45h58.7v3.56h-58.7zM746.8 309.45h29.6v3.56h-29.6zM746.8 312.61h29.6v3.56h-29.6zM979.2 312.61h29.6v3.56h-29.6zM456.4 315.77h29.6v3.56h-29.6zM253.2 318.93h29.6v3.56h-29.6zM1008.2 318.93h29.6v3.56h-29.6zM253.2 325.24h29.6v3.56h-29.6zM922.0 325.24h28.7v3.56h-28.7zM979.2 328.40h29.6v3.56h-29.6zM427.4 331.56h29.6v3.56h-29.6zM601.6 331.56h29.6v3.56h-29.6zM746.8 331.56h29.6v3.56h-29.6zM922.0 341.03h28.7v3.56h-28.7zM979.2 341.03h29.6v3.56h-29.6zM746.8 344.19h29.6v3.56h-29.6zM340.3 347.35h29.6v3.56h-29.6zM979.2 347.35h29.6v3.56h-29.6zM979.2 350.50h29.6v3.56h-29.6zM282.2 353.66h29.6v3.56h-29.6zM340.3 353.66h29.6v3.56h-29.6zM456.4 353.66h29.6v3.56h-29.6zM688.8 353.66h29.6v3.56h-29.6zM979.2 359.98h29.6v3.56h-29.6zM195.1 372.61h29.6v3.56h-29.6zM195.1 375.77h29.6v3.56h-29.6zM1008.2 375.77h58.7v3.56h-58.7zM195.1 378.92h29.6v3.56h-29.6zM979.2 385.24h29.6v3.56h-29.6zM1037.2 391.55h58.1v3.56h-58.1zM1066.3 394.71h29.0v3.56h-29.0zM979.2 397.87h29.6v3.56h-29.6zM1037.2 397.87h29.6v3.56h-29.6zM166.0 401.03h29.6v3.56h-29.6zM224.1 407.34h29.6v3.56h-29.6zM456.4 407.34h29.6v3.56h-29.6zM601.6 407.34h58.7v3.56h-58.7zM804.9 407.34h29.6v3.56h-29.6zM863.0 407.34h59.6v3.56h-59.6zM224.1 410.50h87.7v3.56h-87.7zM979.2 410.50h29.6v3.56h-29.6zM253.2 413.66h58.7v3.56h-58.7zM456.4 413.66h29.6v3.56h-29.6zM514.5 413.66h29.6v3.56h-29.6zM282.2 416.82h29.6v3.56h-29.6zM166.0 419.97h29.6v3.56h-29.6zM166.0 423.13h29.6v3.56h-29.6zM514.5 423.13h29.6v3.56h-29.6zM950.1 423.13h29.6v3.56h-29.6zM1037.2 423.13h29.6v3.56h-29.6zM1066.3 429.45h29.0v3.56h-29.0zM922.0 432.61h28.7v3.56h-28.7zM396.6 435.76h31.4v3.56h-31.4zM717.8 435.76h29.6v3.56h-29.6zM1008.2 438.92h87.1v3.56h-87.1zM979.2 445.24h29.6v3.56h-29.6zM1037.2 445.24h58.1v3.56h-58.1zM253.2 448.39h29.6v3.56h-29.6zM195.1 451.55h29.6v3.56h-29.6zM1008.2 451.55h29.6v3.56h-29.6zM1066.3 451.55h29.0v3.56h-29.0zM195.1 457.87h29.6v3.56h-29.6zM195.1 464.18h29.6v3.56h-29.6zM1008.2 467.34h29.6v3.56h-29.6zM630.7 470.50h29.6v3.56h-29.6zM195.1 473.66h29.6v3.56h-29.6zM224.1 476.81h29.6v3.56h-29.6zM979.2 476.81h87.7v3.56h-87.7zM1066.3 483.13h29.0v3.56h-29.0zM340.3 486.29h29.6v3.56h-29.6zM659.7 486.29h29.6v3.56h-29.6zM717.8 486.29h29.6v3.56h-29.6zM1008.2 486.29h29.6v3.56h-29.6zM979.2 489.45h29.6v3.56h-29.6zM340.3 492.60h29.6v3.56h-29.6zM1037.2 492.60h29.6v3.56h-29.6zM253.2 495.76h29.6v3.56h-29.6zM1037.2 498.92h29.6v3.56h-29.6zM224.1 502.08h58.7v3.56h-58.7zM979.2 502.08h29.6v3.56h-29.6zM979.2 505.23h29.6v3.56h-29.6zM630.7 508.39h29.6v3.56h-29.6zM979.2 514.71h29.6v3.56h-29.6zM950.1 524.18h29.6v3.56h-29.6zM456.4 533.65h29.6v3.56h-29.6zM630.7 533.65h29.6v3.56h-29.6zM572.6 536.81h29.6v3.56h-29.6zM659.7 536.81h29.6v3.56h-29.6zM863.0 536.81h29.6v3.56h-29.6zM1037.2 536.81h29.6v3.56h-29.6zM514.5 539.97h29.6v3.56h-29.6zM746.8 539.97h29.6v3.56h-29.6zM804.9 539.97h29.6v3.56h-29.6zM775.9 543.13h29.6v3.56h-29.6zM863.0 543.13h29.6v3.56h-29.6zM396.6 549.44h31.4v3.56h-31.4zM572.6 549.44h29.6v3.56h-29.6zM1066.3 549.44h29.0v3.56h-29.0zM572.6 552.60h29.6v3.56h-29.6zM804.9 552.60h29.6v3.56h-29.6zM396.6 558.92h31.4v3.56h-31.4zM514.5 558.92h29.6v3.56h-29.6zM863.0 558.92h29.6v3.56h-29.6zM514.5 562.07h29.6v3.56h-29.6zM427.4 565.23h29.6v3.56h-29.6zM775.9 565.23h29.6v3.56h-29.6zM863.0 568.39h29.6v3.56h-29.6zM863.0 574.71h29.6v3.56h-29.6zM396.6 577.86h31.4v3.56h-31.4zM572.6 581.02h29.6v3.56h-29.6zM746.8 581.02h29.6v3.56h-29.6zM396.6 584.18h31.4v3.56h-31.4zM396.6 587.34h31.4v3.56h-31.4zM601.6 587.34h58.7v3.56h-58.7zM659.7 593.65h29.6v3.56h-29.6zM834.0 593.65h29.6v3.56h-29.6zM659.7 596.81h29.6v3.56h-29.6zM834.0 596.81h29.6v3.56h-29.6zM659.7 599.97h29.6v3.56h-29.6zM746.8 599.97h29.6v3.56h-29.6zM514.5 603.13h58.7v3.56h-58.7zM746.8 603.13h29.6v3.56h-29.6zM746.8 606.28h87.7v3.56h-87.7zM396.6 609.44h31.4v3.56h-31.4zM717.8 609.44h58.7v3.56h-58.7zM717.8 612.60h29.6v3.56h-29.6zM572.6 615.76h29.6v3.56h-29.6zM601.6 618.91h29.6v3.56h-29.6zM717.8 618.91h29.6v3.56h-29.6zM396.6 622.07h31.4v3.56h-31.4zM514.5 622.07h58.7v3.56h-58.7zM601.6 622.07h29.6v3.56h-29.6zM427.4 625.23h29.6v3.56h-29.6zM485.5 625.23h29.6v3.56h-29.6zM804.9 625.23h29.6v3.56h-29.6zM717.8 628.39h58.7v3.56h-58.7zM804.9 628.39h29.6v3.56h-29.6zM456.4 631.55h29.6v3.56h-29.6zM543.6 631.55h29.6v3.56h-29.6zM601.6 631.55h29.6v3.56h-29.6zM892.0 631.55h30.6v3.56h-30.6zM396.6 634.70h31.4v3.56h-31.4zM717.8 634.70h58.7v3.56h-58.7zM863.0 634.70h29.6v3.56h-29.6zM922.0 634.70h28.7v3.56h-28.7zM427.4 637.86h29.6v3.56h-29.6zM543.6 637.86h29.6v3.56h-29.6zM892.0 637.86h30.6v3.56h-30.6zM456.4 641.02h29.6v3.56h-29.6zM543.6 641.02h58.7v3.56h-58.7zM775.9 641.02h29.6v3.56h-29.6zM950.1 641.02h29.6v3.56h-29.6zM543.6 644.18h58.7v3.56h-58.7zM950.1 644.18h29.6v3.56h-29.6zM485.5 647.33h29.6v3.56h-29.6zM572.6 647.33h29.6v3.56h-29.6zM543.6 650.49h29.6v3.56h-29.6zM775.9 650.49h29.6v3.56h-29.6zM892.0 650.49h30.6v3.56h-30.6zM427.4 653.65h29.6v3.56h-29.6zM834.0 653.65h29.6v3.56h-29.6zM979.2 653.65h29.6v3.56h-29.6zM834.0 656.81h29.6v3.56h-29.6zM834.0 659.97h29.6v3.56h-29.6zM396.6 663.12h31.4v3.56h-31.4zM485.5 666.28h29.6v3.56h-29.6zM572.6 666.28h29.6v3.56h-29.6zM863.0 666.28h29.6v3.56h-29.6zM1008.2 666.28h29.6v3.56h-29.6zM514.5 669.44h29.6v3.56h-29.6zM746.8 669.44h29.6v3.56h-29.6zM396.6 675.75h31.4v3.56h-31.4zM775.9 675.75h29.6v3.56h-29.6zM834.0 675.75h29.6v3.56h-29.6zM717.8 678.91h29.6v3.56h-29.6zM572.6 682.07h29.6v3.56h-29.6zM746.8 682.07h29.6v3.56h-29.6zM572.6 685.23h29.6v3.56h-29.6zM688.8 685.23h29.6v3.56h-29.6zM630.7 688.38h29.6v3.56h-29.6zM717.8 688.38h29.6v3.56h-29.6zM572.6 694.70h29.6v3.56h-29.6zM543.6 697.86h58.7v3.56h-58.7zM659.7 701.02h29.6v3.56h-29.6zM427.4 704.17h29.6v3.56h-29.6zM775.9 707.33h29.6v3.56h-29.6zM485.5 710.49h29.6v3.56h-29.6zM572.6 710.49h29.6v3.56h-29.6zM688.8 710.49h29.6v3.56h-29.6zM659.7 713.65h29.6v3.56h-29.6zM746.8 713.65h29.6v3.56h-29.6zM892.0 713.65h30.6v3.56h-30.6zM601.6 716.80h29.6v3.56h-29.6zM427.4 719.96h58.7v3.56h-58.7zM572.6 719.96h29.6v3.56h-29.6zM427.4 723.12h29.6v3.56h-29.6zM543.6 723.12h29.6v3.56h-29.6zM834.0 723.12h29.6v3.56h-29.6zM834.0 726.28h29.6v3.56h-29.6zM892.0 729.44h30.6v3.56h-30.6zM514.5 732.59h29.6v3.56h-29.6zM892.0 732.59h30.6v3.56h-30.6zM1066.3 732.59h29.0v3.56h-29.0zM950.1 735.75h29.6v3.56h-29.6zM1066.3 735.75h29.0v3.56h-29.0zM514.5 738.91h29.6v3.56h-29.6zM514.5 745.22h29.6v3.56h-29.6zM775.9 745.22h29.6v3.56h-29.6zM485.5 751.54h29.6v3.56h-29.6zM775.9 751.54h29.6v3.56h-29.6zM950.1 751.54h29.6v3.56h-29.6zM514.5 754.70h29.6v3.56h-29.6zM601.6 754.70h29.6v3.56h-29.6zM746.8 754.70h58.7v3.56h-58.7zM396.6 761.01h31.4v3.56h-31.4zM543.6 764.17h29.6v3.56h-29.6zM396.6 770.49h31.4v3.56h-31.4zM543.6 773.64h29.6v3.56h-29.6zM688.8 773.64h29.6v3.56h-29.6zM485.5 776.80h29.6v3.56h-29.6zM543.6 776.80h58.7v3.56h-58.7zM659.7 776.80h29.6v3.56h-29.6zM863.0 776.80h29.6v3.56h-29.6zM396.6 779.96h31.4v3.56h-31.4zM775.9 779.96h29.6v3.56h-29.6zM456.4 783.12h29.6v3.56h-29.6zM834.0 783.12h29.6v3.56h-29.6zM456.4 786.28h29.6v3.56h-29.6zM543.6 786.28h29.6v3.56h-29.6zM746.8 786.28h29.6v3.56h-29.6zM543.6 789.43h29.6v3.56h-29.6zM630.7 792.59h29.6v3.56h-29.6zM775.9 792.59h29.6v3.56h-29.6zM601.6 795.75h29.6v3.56h-29.6zM746.8 795.75h58.7v3.56h-58.7zM834.0 795.75h29.6v3.56h-29.6zM601.6 798.91h29.6v3.56h-29.6zM775.9 798.91h29.6v3.56h-29.6zM572.6 802.06h29.6v3.56h-29.6zM775.9 802.06h29.6v3.56h-29.6zM543.6 805.22h29.6v3.56h-29.6zM717.8 805.22h58.7v3.56h-58.7zM688.8 808.38h29.6v3.56h-29.6zM775.9 808.38h29.6v3.56h-29.6zM396.6 811.54h31.4v3.56h-31.4zM456.4 811.54h29.6v3.56h-29.6zM514.5 811.54h29.6v3.56h-29.6zM601.6 811.54h58.7v3.56h-58.7zM717.8 811.54h29.6v3.56h-29.6zM775.9 811.54h29.6v3.56h-29.6zM863.0 811.54h29.6v3.56h-29.6zM396.6 817.85h31.4v3.56h-31.4zM601.6 817.85h29.6v3.56h-29.6zM1066.3 817.85h29.0v3.56h-29.0zM601.6 821.01h58.7v3.56h-58.7zM834.0 821.01h29.6v3.56h-29.6zM630.7 827.33h29.6v3.56h-29.6zM688.8 827.33h58.7v3.56h-58.7zM892.0 827.33h30.6v3.56h-30.6zM630.7 833.64h29.6v3.56h-29.6zM922.0 833.64h28.7v3.56h-28.7zM1066.3 833.64h29.0v3.56h-29.0z"/><path fill="#fff2ab" d="M340.3 192.62h29.6v3.56h-29.6zM979.2 195.77h29.6v3.56h-29.6zM340.3 198.93h29.6v3.56h-29.6zM572.6 198.93h29.6v3.56h-29.6zM224.1 202.09h29.6v3.56h-29.6zM1066.3 205.25h29.0v3.56h-29.0zM1008.2 208.40h29.6v3.56h-29.6zM746.8 214.72h29.6v3.56h-29.6zM195.1 217.88h29.6v3.56h-29.6zM340.3 221.04h29.6v3.56h-29.6zM746.8 227.35h29.6v3.56h-29.6zM195.1 230.51h29.6v3.56h-29.6zM922.0 239.98h28.7v3.56h-28.7zM456.4 246.30h29.6v3.56h-29.6zM746.8 249.46h29.6v3.56h-29.6zM1008.2 249.46h29.6v3.56h-29.6zM311.2 252.61h29.6v3.56h-29.6zM746.8 252.61h29.6v3.56h-29.6zM630.7 255.77h29.6v3.56h-29.6zM804.9 255.77h29.6v3.56h-29.6zM892.0 255.77h30.6v3.56h-30.6zM979.2 255.77h29.6v3.56h-29.6zM1008.2 258.93h29.6v3.56h-29.6zM195.1 271.56h29.6v3.56h-29.6zM396.6 277.88h31.4v3.56h-31.4zM1008.2 293.66h58.7v3.56h-58.7zM1066.3 296.82h29.0v3.56h-29.0zM485.5 299.98h29.6v3.56h-29.6zM340.3 303.14h29.6v3.56h-29.6zM979.2 306.30h29.6v3.56h-29.6zM195.1 309.45h29.6v3.56h-29.6zM630.7 309.45h29.6v3.56h-29.6zM253.2 315.77h29.6v3.56h-29.6zM746.8 315.77h29.6v3.56h-29.6zM979.2 322.08h29.6v3.56h-29.6zM224.1 325.24h29.6v3.56h-29.6zM1008.2 325.24h29.6v3.56h-29.6zM396.6 331.56h31.4v3.56h-31.4zM1066.3 334.72h29.0v3.56h-29.0zM340.3 341.03h29.6v3.56h-29.6zM688.8 341.03h29.6v3.56h-29.6zM1037.2 341.03h29.6v3.56h-29.6zM340.3 344.19h29.6v3.56h-29.6zM456.4 344.19h29.6v3.56h-29.6zM543.6 344.19h29.6v3.56h-29.6zM979.2 344.19h29.6v3.56h-29.6zM1008.2 347.35h29.6v3.56h-29.6zM340.3 350.50h29.6v3.56h-29.6zM659.7 353.66h29.6v3.56h-29.6zM340.3 356.82h29.6v3.56h-29.6zM195.1 366.29h29.6v3.56h-29.6zM979.2 369.45h29.6v3.56h-29.6zM630.7 378.92h29.6v3.56h-29.6zM979.2 382.08h29.6v3.56h-29.6zM195.1 394.71h29.6v3.56h-29.6zM979.2 394.71h29.6v3.56h-29.6zM1037.2 394.71h29.6v3.56h-29.6zM224.1 404.19h29.6v3.56h-29.6zM396.6 407.34h31.4v3.56h-31.4zM311.2 410.50h29.6v3.56h-29.6zM166.0 413.66h29.6v3.56h-29.6zM224.1 413.66h29.6v3.56h-29.6zM311.2 413.66h29.6v3.56h-29.6zM224.1 416.82h29.6v3.56h-29.6zM311.2 416.82h29.6v3.56h-29.6zM311.2 419.97h29.6v3.56h-29.6zM601.6 423.13h29.6v3.56h-29.6zM1008.2 423.13h29.6v3.56h-29.6zM979.2 429.45h29.6v3.56h-29.6zM1037.2 435.76h29.6v3.56h-29.6zM195.1 448.39h29.6v3.56h-29.6zM195.1 454.71h29.6v3.56h-29.6zM979.2 454.71h29.6v3.56h-29.6zM1066.3 454.71h29.0v3.56h-29.0zM1037.2 464.18h29.6v3.56h-29.6zM979.2 467.34h29.6v3.56h-29.6zM195.1 470.50h29.6v3.56h-29.6zM456.4 470.50h29.6v3.56h-29.6zM1037.2 470.50h29.6v3.56h-29.6zM979.2 473.66h29.6v3.56h-29.6zM224.1 483.13h29.6v3.56h-29.6zM1037.2 483.13h29.6v3.56h-29.6zM630.7 486.29h29.6v3.56h-29.6zM195.1 489.45h58.7v3.56h-58.7zM224.1 492.60h29.6v3.56h-29.6zM224.1 498.92h58.7v3.56h-58.7zM979.2 498.92h29.6v3.56h-29.6zM456.4 508.39h29.6v3.56h-29.6zM979.2 511.55h29.6v3.56h-29.6zM485.5 521.02h29.6v3.56h-29.6zM863.0 533.65h29.6v3.56h-29.6zM979.2 533.65h29.6v3.56h-29.6zM456.4 536.81h29.6v3.56h-29.6zM746.8 536.81h29.6v3.56h-29.6zM804.9 536.81h29.6v3.56h-29.6zM950.1 536.81h29.6v3.56h-29.6zM456.4 539.97h29.6v3.56h-29.6zM892.0 539.97h58.7v3.56h-58.7zM1037.2 539.97h58.1v3.56h-58.1zM1037.2 543.13h58.1v3.56h-58.1zM572.6 546.29h29.6v3.56h-29.6zM630.7 546.29h29.6v3.56h-29.6zM688.8 546.29h29.6v3.56h-29.6zM1037.2 546.29h58.1v3.56h-58.1zM979.2 552.60h29.6v3.56h-29.6zM1037.2 552.60h29.6v3.56h-29.6zM456.4 555.76h29.6v3.56h-29.6zM659.7 555.76h29.6v3.56h-29.6zM863.0 555.76h29.6v3.56h-29.6zM979.2 555.76h29.6v3.56h-29.6zM456.4 558.92h29.6v3.56h-29.6zM572.6 558.92h29.6v3.56h-29.6zM630.7 558.92h29.6v3.56h-29.6zM775.9 562.07h29.6v3.56h-29.6zM572.6 565.23h29.6v3.56h-29.6zM717.8 565.23h29.6v3.56h-29.6zM396.6 568.39h31.4v3.56h-31.4zM456.4 568.39h29.6v3.56h-29.6zM572.6 568.39h58.7v3.56h-58.7zM746.8 568.39h29.6v3.56h-29.6zM892.0 571.55h30.6v3.56h-30.6zM485.5 574.71h29.6v3.56h-29.6zM572.6 574.71h29.6v3.56h-29.6zM892.0 574.71h30.6v3.56h-30.6zM456.4 577.86h29.6v3.56h-29.6zM601.6 577.86h58.7v3.56h-58.7zM396.6 581.02h31.4v3.56h-31.4zM572.6 584.18h29.6v3.56h-29.6zM892.0 584.18h30.6v3.56h-30.6zM572.6 587.34h29.6v3.56h-29.6zM746.8 587.34h29.6v3.56h-29.6zM485.5 590.49h29.6v3.56h-29.6zM572.6 590.49h58.7v3.56h-58.7zM746.8 590.49h29.6v3.56h-29.6zM804.9 590.49h29.6v3.56h-29.6zM863.0 590.49h29.6v3.56h-29.6zM804.9 593.65h29.6v3.56h-29.6zM863.0 593.65h59.6v3.56h-59.6zM1066.3 593.65h29.0v3.56h-29.0zM514.5 596.81h29.6v3.56h-29.6zM601.6 596.81h58.7v3.56h-58.7zM863.0 596.81h59.6v3.56h-59.6zM1066.3 596.81h29.0v3.56h-29.0zM572.6 599.97h29.6v3.56h-29.6zM775.9 599.97h29.6v3.56h-29.6zM456.4 603.13h29.6v3.56h-29.6zM601.6 603.13h29.6v3.56h-29.6zM717.8 603.13h29.6v3.56h-29.6zM834.0 603.13h29.6v3.56h-29.6zM572.6 606.28h58.7v3.56h-58.7zM659.7 609.44h29.6v3.56h-29.6zM804.9 609.44h58.7v3.56h-58.7zM514.5 612.60h29.6v3.56h-29.6zM804.9 612.60h29.6v3.56h-29.6zM892.0 612.60h30.6v3.56h-30.6zM746.8 615.76h58.7v3.56h-58.7zM456.4 618.91h29.6v3.56h-29.6zM543.6 618.91h58.7v3.56h-58.7zM775.9 618.91h29.6v3.56h-29.6zM834.0 618.91h29.6v3.56h-29.6zM892.0 618.91h30.6v3.56h-30.6zM746.8 622.07h58.7v3.56h-58.7zM834.0 622.07h29.6v3.56h-29.6zM892.0 622.07h30.6v3.56h-30.6zM572.6 625.23h87.7v3.56h-87.7zM775.9 625.23h29.6v3.56h-29.6zM543.6 628.39h29.6v3.56h-29.6zM601.6 628.39h29.6v3.56h-29.6zM834.0 628.39h29.6v3.56h-29.6zM659.7 631.55h29.6v3.56h-29.6zM775.9 631.55h29.6v3.56h-29.6zM892.0 634.70h30.6v3.56h-30.6zM1066.3 634.70h29.0v3.56h-29.0zM396.6 641.02h31.4v3.56h-31.4zM485.5 641.02h29.6v3.56h-29.6zM892.0 641.02h30.6v3.56h-30.6zM485.5 644.18h58.7v3.56h-58.7zM863.0 644.18h59.6v3.56h-59.6zM427.4 647.33h29.6v3.56h-29.6zM514.5 647.33h29.6v3.56h-29.6zM456.4 650.49h29.6v3.56h-29.6zM572.6 650.49h29.6v3.56h-29.6zM863.0 650.49h29.6v3.56h-29.6zM485.5 653.65h29.6v3.56h-29.6zM572.6 653.65h29.6v3.56h-29.6zM456.4 656.81h29.6v3.56h-29.6zM514.5 659.97h29.6v3.56h-29.6zM572.6 663.12h29.6v3.56h-29.6zM601.6 669.44h29.6v3.56h-29.6zM775.9 669.44h58.7v3.56h-58.7zM892.0 669.44h30.6v3.56h-30.6zM572.6 672.60h58.7v3.56h-58.7zM572.6 675.75h29.6v3.56h-29.6zM659.7 675.75h29.6v3.56h-29.6zM746.8 675.75h29.6v3.56h-29.6zM863.0 675.75h59.6v3.56h-59.6zM1066.3 675.75h29.0v3.56h-29.0zM485.5 678.91h29.6v3.56h-29.6zM775.9 678.91h29.6v3.56h-29.6zM863.0 678.91h29.6v3.56h-29.6zM950.1 678.91h29.6v3.56h-29.6zM688.8 688.38h29.6v3.56h-29.6zM717.8 691.54h29.6v3.56h-29.6zM804.9 694.70h29.6v3.56h-29.6zM688.8 697.86h29.6v3.56h-29.6zM775.9 697.86h29.6v3.56h-29.6zM892.0 697.86h30.6v3.56h-30.6zM543.6 701.02h29.6v3.56h-29.6zM630.7 701.02h29.6v3.56h-29.6zM688.8 701.02h29.6v3.56h-29.6zM775.9 701.02h29.6v3.56h-29.6zM543.6 704.17h29.6v3.56h-29.6zM688.8 704.17h29.6v3.56h-29.6zM892.0 704.17h30.6v3.56h-30.6zM543.6 707.33h29.6v3.56h-29.6zM427.4 710.49h29.6v3.56h-29.6zM746.8 710.49h58.7v3.56h-58.7zM892.0 710.49h30.6v3.56h-30.6zM572.6 713.65h29.6v3.56h-29.6zM863.0 713.65h29.6v3.56h-29.6zM950.1 713.65h29.6v3.56h-29.6zM427.4 716.80h29.6v3.56h-29.6zM717.8 716.80h29.6v3.56h-29.6zM775.9 719.96h29.6v3.56h-29.6zM863.0 719.96h29.6v3.56h-29.6zM572.6 723.12h29.6v3.56h-29.6zM688.8 723.12h29.6v3.56h-29.6zM746.8 723.12h29.6v3.56h-29.6zM863.0 723.12h59.6v3.56h-59.6zM979.2 723.12h29.6v3.56h-29.6zM688.8 726.28h58.7v3.56h-58.7zM863.0 726.28h29.6v3.56h-29.6zM396.6 729.44h31.4v3.56h-31.4zM485.5 729.44h29.6v3.56h-29.6zM543.6 729.44h58.7v3.56h-58.7zM688.8 729.44h58.7v3.56h-58.7zM834.0 729.44h58.7v3.56h-58.7zM543.6 732.59h29.6v3.56h-29.6zM775.9 732.59h29.6v3.56h-29.6zM717.8 735.75h29.6v3.56h-29.6zM775.9 735.75h29.6v3.56h-29.6zM746.8 738.91h29.6v3.56h-29.6zM659.7 742.07h29.6v3.56h-29.6zM717.8 742.07h87.7v3.56h-87.7zM834.0 742.07h29.6v3.56h-29.6zM659.7 745.22h29.6v3.56h-29.6zM717.8 745.22h29.6v3.56h-29.6zM514.5 748.38h29.6v3.56h-29.6zM746.8 751.54h29.6v3.56h-29.6zM892.0 751.54h30.6v3.56h-30.6zM572.6 754.70h29.6v3.56h-29.6zM601.6 757.86h29.6v3.56h-29.6zM775.9 757.86h29.6v3.56h-29.6zM572.6 761.01h58.7v3.56h-58.7zM892.0 761.01h30.6v3.56h-30.6zM1037.2 761.01h58.1v3.56h-58.1zM775.9 764.17h29.6v3.56h-29.6zM1037.2 764.17h29.6v3.56h-29.6zM572.6 767.33h58.7v3.56h-58.7zM514.5 770.49h29.6v3.56h-29.6zM601.6 770.49h29.6v3.56h-29.6zM659.7 770.49h29.6v3.56h-29.6zM601.6 773.64h29.6v3.56h-29.6zM717.8 773.64h29.6v3.56h-29.6zM804.9 773.64h58.7v3.56h-58.7zM688.8 776.80h58.7v3.56h-58.7zM485.5 779.96h29.6v3.56h-29.6zM572.6 779.96h29.6v3.56h-29.6zM717.8 779.96h29.6v3.56h-29.6zM863.0 779.96h29.6v3.56h-29.6zM543.6 783.12h58.7v3.56h-58.7zM688.8 783.12h29.6v3.56h-29.6zM775.9 783.12h29.6v3.56h-29.6zM863.0 783.12h29.6v3.56h-29.6zM427.4 786.28h29.6v3.56h-29.6zM485.5 786.28h29.6v3.56h-29.6zM834.0 786.28h29.6v3.56h-29.6zM514.5 789.43h29.6v3.56h-29.6zM775.9 789.43h29.6v3.56h-29.6zM892.0 789.43h30.6v3.56h-30.6zM1066.3 789.43h29.0v3.56h-29.0zM746.8 792.59h29.6v3.56h-29.6zM863.0 792.59h29.6v3.56h-29.6zM717.8 795.75h29.6v3.56h-29.6zM717.8 798.91h29.6v3.56h-29.6zM601.6 802.06h29.6v3.56h-29.6zM717.8 802.06h29.6v3.56h-29.6zM834.0 802.06h29.6v3.56h-29.6zM514.5 805.22h29.6v3.56h-29.6zM601.6 805.22h29.6v3.56h-29.6zM659.7 805.22h29.6v3.56h-29.6zM775.9 805.22h29.6v3.56h-29.6zM834.0 805.22h58.7v3.56h-58.7zM922.0 805.22h28.7v3.56h-28.7zM572.6 808.38h29.6v3.56h-29.6zM659.7 808.38h29.6v3.56h-29.6zM717.8 808.38h29.6v3.56h-29.6zM485.5 811.54h29.6v3.56h-29.6zM688.8 811.54h29.6v3.56h-29.6zM630.7 814.70h29.6v3.56h-29.6zM688.8 814.70h87.7v3.56h-87.7zM834.0 814.70h58.7v3.56h-58.7zM1066.3 814.70h29.0v3.56h-29.0zM688.8 817.85h29.6v3.56h-29.6zM834.0 817.85h29.6v3.56h-29.6zM659.7 821.01h29.6v3.56h-29.6zM659.7 824.17h58.7v3.56h-58.7zM601.6 827.33h29.6v3.56h-29.6zM427.4 830.48h29.6v3.56h-29.6zM775.9 830.48h29.6v3.56h-29.6zM863.0 830.48h29.6v3.56h-29.6z"/><path fill="#feefa6" d="M224.1 189.46h29.6v3.56h-29.6zM340.3 189.46h29.6v3.56h-29.6zM253.2 198.93h29.6v3.56h-29.6zM979.2 198.93h29.6v3.56h-29.6zM340.3 202.09h29.6v3.56h-29.6zM137.0 205.25h29.6v3.56h-29.6zM340.3 208.40h29.6v3.56h-29.6zM340.3 214.72h29.6v3.56h-29.6zM979.2 217.88h29.6v3.56h-29.6zM195.1 221.04h29.6v3.56h-29.6zM396.6 221.04h31.4v3.56h-31.4zM1037.2 221.04h29.6v3.56h-29.6zM195.1 224.19h29.6v3.56h-29.6zM979.2 224.19h29.6v3.56h-29.6zM195.1 227.35h29.6v3.56h-29.6zM922.0 227.35h28.7v3.56h-28.7zM1037.2 227.35h29.6v3.56h-29.6zM979.2 233.67h29.6v3.56h-29.6zM195.1 236.82h29.6v3.56h-29.6zM979.2 243.14h29.6v3.56h-29.6zM137.0 249.46h29.6v3.56h-29.6zM282.2 252.61h29.6v3.56h-29.6zM717.8 252.61h29.6v3.56h-29.6zM804.9 252.61h29.6v3.56h-29.6zM282.2 255.77h29.6v3.56h-29.6zM427.4 255.77h29.6v3.56h-29.6zM1008.2 255.77h29.6v3.56h-29.6zM282.2 258.93h29.6v3.56h-29.6zM195.1 277.88h29.6v3.56h-29.6zM456.4 277.88h29.6v3.56h-29.6zM979.2 277.88h29.6v3.56h-29.6zM979.2 281.03h29.6v3.56h-29.6zM195.1 284.19h29.6v3.56h-29.6zM396.6 290.51h31.4v3.56h-31.4zM1066.3 293.66h29.0v3.56h-29.0zM427.4 299.98h29.6v3.56h-29.6zM253.2 303.14h29.6v3.56h-29.6zM340.3 306.30h29.6v3.56h-29.6zM746.8 306.30h29.6v3.56h-29.6zM253.2 309.45h29.6v3.56h-29.6zM340.3 309.45h29.6v3.56h-29.6zM572.6 309.45h29.6v3.56h-29.6zM892.0 309.45h30.6v3.56h-30.6zM979.2 325.24h29.6v3.56h-29.6zM340.3 331.56h29.6v3.56h-29.6zM979.2 334.72h29.6v3.56h-29.6zM253.2 337.87h29.6v3.56h-29.6zM979.2 337.87h29.6v3.56h-29.6zM195.1 341.03h29.6v3.56h-29.6zM282.2 347.35h29.6v3.56h-29.6zM282.2 350.50h29.6v3.56h-29.6zM195.1 359.98h29.6v3.56h-29.6zM340.3 359.98h29.6v3.56h-29.6zM1008.2 359.98h29.6v3.56h-29.6zM282.2 372.61h29.6v3.56h-29.6zM979.2 372.61h29.6v3.56h-29.6zM224.1 375.77h29.6v3.56h-29.6zM979.2 375.77h29.6v3.56h-29.6zM1037.2 385.24h29.6v3.56h-29.6zM195.1 391.55h29.6v3.56h-29.6zM282.2 391.55h29.6v3.56h-29.6zM979.2 391.55h29.6v3.56h-29.6zM253.2 404.19h29.6v3.56h-29.6zM311.2 407.34h29.6v3.56h-29.6zM166.0 416.82h29.6v3.56h-29.6zM253.2 416.82h29.6v3.56h-29.6zM396.6 419.97h31.4v3.56h-31.4zM396.6 423.13h31.4v3.56h-31.4zM282.2 426.29h29.6v3.56h-29.6zM1008.2 426.29h29.6v3.56h-29.6zM1066.3 426.29h29.0v3.56h-29.0zM195.1 432.61h29.6v3.56h-29.6zM1066.3 432.61h29.0v3.56h-29.0zM195.1 435.76h29.6v3.56h-29.6zM224.1 451.55h29.6v3.56h-29.6zM282.2 451.55h29.6v3.56h-29.6zM340.3 451.55h29.6v3.56h-29.6zM1037.2 451.55h29.6v3.56h-29.6zM340.3 464.18h29.6v3.56h-29.6zM922.0 464.18h28.7v3.56h-28.7zM195.1 467.34h29.6v3.56h-29.6zM340.3 467.34h29.6v3.56h-29.6zM979.2 470.50h29.6v3.56h-29.6zM195.1 476.81h29.6v3.56h-29.6zM224.1 479.97h29.6v3.56h-29.6zM195.1 483.13h29.6v3.56h-29.6zM224.1 486.29h29.6v3.56h-29.6zM253.2 489.45h29.6v3.56h-29.6zM340.3 489.45h29.6v3.56h-29.6zM195.1 492.60h29.6v3.56h-29.6zM195.1 498.92h29.6v3.56h-29.6zM340.3 502.08h29.6v3.56h-29.6zM253.2 505.23h29.6v3.56h-29.6zM166.0 511.55h29.6v3.56h-29.6zM282.2 517.87h29.6v3.56h-29.6zM979.2 517.87h29.6v3.56h-29.6zM1037.2 533.65h29.6v3.56h-29.6zM572.6 539.97h58.7v3.56h-58.7zM659.7 539.97h29.6v3.56h-29.6zM950.1 539.97h29.6v3.56h-29.6zM572.6 543.13h29.6v3.56h-29.6zM630.7 543.13h29.6v3.56h-29.6zM922.0 543.13h28.7v3.56h-28.7zM775.9 546.29h29.6v3.56h-29.6zM863.0 546.29h29.6v3.56h-29.6zM601.6 549.44h29.6v3.56h-29.6zM688.8 549.44h29.6v3.56h-29.6zM1037.2 549.44h29.6v3.56h-29.6zM601.6 552.60h29.6v3.56h-29.6zM775.9 552.60h29.6v3.56h-29.6zM1066.3 552.60h29.0v3.56h-29.0zM396.6 555.76h31.4v3.56h-31.4zM572.6 555.76h29.6v3.56h-29.6zM630.7 555.76h29.6v3.56h-29.6zM688.8 555.76h29.6v3.56h-29.6zM775.9 555.76h58.7v3.56h-58.7zM1008.2 558.92h29.6v3.56h-29.6zM485.5 562.07h29.6v3.56h-29.6zM572.6 562.07h29.6v3.56h-29.6zM630.7 562.07h29.6v3.56h-29.6zM804.9 562.07h29.6v3.56h-29.6zM863.0 565.23h29.6v3.56h-29.6zM485.5 568.39h29.6v3.56h-29.6zM834.0 568.39h29.6v3.56h-29.6zM456.4 571.55h58.7v3.56h-58.7zM746.8 571.55h29.6v3.56h-29.6zM746.8 574.71h29.6v3.56h-29.6zM572.6 577.86h29.6v3.56h-29.6zM746.8 577.86h29.6v3.56h-29.6zM485.5 581.02h29.6v3.56h-29.6zM630.7 581.02h29.6v3.56h-29.6zM804.9 581.02h58.7v3.56h-58.7zM892.0 581.02h30.6v3.56h-30.6zM630.7 584.18h29.6v3.56h-29.6zM659.7 587.34h29.6v3.56h-29.6zM804.9 587.34h29.6v3.56h-29.6zM892.0 587.34h30.6v3.56h-30.6zM456.4 590.49h29.6v3.56h-29.6zM514.5 590.49h29.6v3.56h-29.6zM630.7 590.49h29.6v3.56h-29.6zM834.0 590.49h29.6v3.56h-29.6zM892.0 590.49h30.6v3.56h-30.6zM396.6 593.65h31.4v3.56h-31.4zM456.4 593.65h87.7v3.56h-87.7zM572.6 593.65h29.6v3.56h-29.6zM630.7 593.65h29.6v3.56h-29.6zM572.6 596.81h29.6v3.56h-29.6zM456.4 599.97h29.6v3.56h-29.6zM514.5 599.97h29.6v3.56h-29.6zM601.6 599.97h29.6v3.56h-29.6zM804.9 599.97h29.6v3.56h-29.6zM892.0 599.97h30.6v3.56h-30.6zM775.9 603.13h29.6v3.56h-29.6zM427.4 606.28h29.6v3.56h-29.6zM659.7 606.28h29.6v3.56h-29.6zM892.0 606.28h30.6v3.56h-30.6zM456.4 609.44h87.7v3.56h-87.7zM572.6 609.44h58.7v3.56h-58.7zM775.9 609.44h29.6v3.56h-29.6zM863.0 609.44h59.6v3.56h-59.6zM456.4 612.60h29.6v3.56h-29.6zM572.6 612.60h58.7v3.56h-58.7zM746.8 612.60h29.6v3.56h-29.6zM834.0 612.60h29.6v3.56h-29.6zM485.5 615.76h58.7v3.56h-58.7zM601.6 615.76h29.6v3.56h-29.6zM659.7 615.76h29.6v3.56h-29.6zM804.9 615.76h29.6v3.56h-29.6zM863.0 615.76h59.6v3.56h-59.6zM396.6 618.91h31.4v3.56h-31.4zM485.5 618.91h29.6v3.56h-29.6zM688.8 618.91h29.6v3.56h-29.6zM804.9 618.91h29.6v3.56h-29.6zM456.4 622.07h29.6v3.56h-29.6zM659.7 622.07h58.7v3.56h-58.7zM804.9 622.07h29.6v3.56h-29.6zM396.6 625.23h31.4v3.56h-31.4zM659.7 625.23h29.6v3.56h-29.6zM746.8 625.23h29.6v3.56h-29.6zM834.0 625.23h29.6v3.56h-29.6zM396.6 628.39h31.4v3.56h-31.4zM572.6 628.39h29.6v3.56h-29.6zM659.7 628.39h29.6v3.56h-29.6zM863.0 628.39h29.6v3.56h-29.6zM396.6 631.55h31.4v3.56h-31.4zM572.6 631.55h29.6v3.56h-29.6zM717.8 631.55h58.7v3.56h-58.7zM834.0 631.55h29.6v3.56h-29.6zM485.5 634.70h29.6v3.56h-29.6zM659.7 634.70h29.6v3.56h-29.6zM485.5 637.86h29.6v3.56h-29.6zM863.0 637.86h29.6v3.56h-29.6zM834.0 641.02h29.6v3.56h-29.6zM396.6 644.18h60.4v3.56h-60.4zM834.0 644.18h29.6v3.56h-29.6zM396.6 647.33h31.4v3.56h-31.4zM630.7 647.33h29.6v3.56h-29.6zM688.8 647.33h29.6v3.56h-29.6zM804.9 647.33h29.6v3.56h-29.6zM863.0 647.33h59.6v3.56h-59.6zM485.5 650.49h58.7v3.56h-58.7zM514.5 653.65h29.6v3.56h-29.6zM863.0 653.65h29.6v3.56h-29.6zM514.5 656.81h29.6v3.56h-29.6zM863.0 656.81h29.6v3.56h-29.6zM572.6 659.97h29.6v3.56h-29.6zM804.9 659.97h29.6v3.56h-29.6zM427.4 663.12h29.6v3.56h-29.6zM804.9 663.12h29.6v3.56h-29.6zM543.6 666.28h29.6v3.56h-29.6zM746.8 666.28h29.6v3.56h-29.6zM485.5 669.44h29.6v3.56h-29.6zM572.6 669.44h29.6v3.56h-29.6zM456.4 672.60h58.7v3.56h-58.7zM630.7 672.60h58.7v3.56h-58.7zM775.9 672.60h29.6v3.56h-29.6zM863.0 672.60h59.6v3.56h-59.6zM456.4 675.75h58.7v3.56h-58.7zM543.6 675.75h29.6v3.56h-29.6zM630.7 675.75h29.6v3.56h-29.6zM543.6 678.91h29.6v3.56h-29.6zM659.7 678.91h29.6v3.56h-29.6zM892.0 678.91h30.6v3.56h-30.6zM659.7 682.07h29.6v3.56h-29.6zM717.8 685.23h29.6v3.56h-29.6zM804.9 685.23h29.6v3.56h-29.6zM427.4 691.54h29.6v3.56h-29.6zM804.9 691.54h29.6v3.56h-29.6zM396.6 694.70h31.4v3.56h-31.4zM892.0 694.70h30.6v3.56h-30.6zM804.9 697.86h29.6v3.56h-29.6zM514.5 701.02h29.6v3.56h-29.6zM863.0 701.02h29.6v3.56h-29.6zM396.6 704.17h31.4v3.56h-31.4zM775.9 704.17h29.6v3.56h-29.6zM427.4 707.33h29.6v3.56h-29.6zM688.8 707.33h29.6v3.56h-29.6zM863.0 707.33h59.6v3.56h-59.6zM863.0 710.49h29.6v3.56h-29.6zM427.4 713.65h58.7v3.56h-58.7zM514.5 713.65h29.6v3.56h-29.6zM601.6 713.65h29.6v3.56h-29.6zM834.0 713.65h29.6v3.56h-29.6zM1008.2 713.65h29.6v3.56h-29.6zM456.4 716.80h58.7v3.56h-58.7zM746.8 716.80h29.6v3.56h-29.6zM834.0 716.80h58.7v3.56h-58.7zM746.8 719.96h29.6v3.56h-29.6zM775.9 723.12h29.6v3.56h-29.6zM1008.2 723.12h29.6v3.56h-29.6zM572.6 726.28h29.6v3.56h-29.6zM746.8 726.28h58.7v3.56h-58.7zM456.4 729.44h29.6v3.56h-29.6zM775.9 729.44h29.6v3.56h-29.6zM572.6 732.59h29.6v3.56h-29.6zM717.8 732.59h29.6v3.56h-29.6zM834.0 732.59h29.6v3.56h-29.6zM456.4 735.75h29.6v3.56h-29.6zM572.6 735.75h29.6v3.56h-29.6zM659.7 735.75h29.6v3.56h-29.6zM746.8 735.75h29.6v3.56h-29.6zM659.7 738.91h29.6v3.56h-29.6zM717.8 738.91h29.6v3.56h-29.6zM775.9 738.91h29.6v3.56h-29.6zM834.0 738.91h29.6v3.56h-29.6zM572.6 742.07h29.6v3.56h-29.6zM688.8 745.22h29.6v3.56h-29.6zM746.8 745.22h29.6v3.56h-29.6zM572.6 748.38h29.6v3.56h-29.6zM746.8 748.38h29.6v3.56h-29.6zM1066.3 748.38h29.0v3.56h-29.0zM514.5 751.54h29.6v3.56h-29.6zM572.6 751.54h29.6v3.56h-29.6zM485.5 754.70h29.6v3.56h-29.6zM659.7 754.70h58.7v3.56h-58.7zM572.6 757.86h29.6v3.56h-29.6zM746.8 757.86h29.6v3.56h-29.6zM892.0 757.86h30.6v3.56h-30.6zM601.6 764.17h29.6v3.56h-29.6zM804.9 764.17h29.6v3.56h-29.6zM892.0 764.17h30.6v3.56h-30.6zM717.8 767.33h29.6v3.56h-29.6zM688.8 770.49h29.6v3.56h-29.6zM863.0 770.49h29.6v3.56h-29.6zM659.7 773.64h29.6v3.56h-29.6zM863.0 773.64h29.6v3.56h-29.6zM543.6 779.96h29.6v3.56h-29.6zM630.7 779.96h29.6v3.56h-29.6zM485.5 783.12h29.6v3.56h-29.6zM688.8 786.28h29.6v3.56h-29.6zM979.2 786.28h29.6v3.56h-29.6zM892.0 792.59h30.6v3.56h-30.6zM396.6 795.75h31.4v3.56h-31.4zM396.6 798.91h31.4v3.56h-31.4zM456.4 798.91h29.6v3.56h-29.6zM514.5 798.91h29.6v3.56h-29.6zM659.7 798.91h29.6v3.56h-29.6zM514.5 802.06h29.6v3.56h-29.6zM659.7 802.06h29.6v3.56h-29.6zM746.8 802.06h29.6v3.56h-29.6zM863.0 802.06h59.6v3.56h-59.6zM746.8 808.38h29.6v3.56h-29.6zM834.0 808.38h58.7v3.56h-58.7zM659.7 811.54h29.6v3.56h-29.6zM834.0 811.54h29.6v3.56h-29.6zM485.5 814.70h29.6v3.56h-29.6zM659.7 814.70h29.6v3.56h-29.6zM485.5 821.01h58.7v3.56h-58.7zM688.8 821.01h29.6v3.56h-29.6zM601.6 824.17h29.6v3.56h-29.6zM922.0 824.17h28.7v3.56h-28.7zM514.5 827.33h29.6v3.56h-29.6zM834.0 827.33h29.6v3.56h-29.6zM717.8 830.48h29.6v3.56h-29.6zM834.0 830.48h29.6v3.56h-29.6zM892.0 830.48h58.7v3.56h-58.7zM396.6 833.64h31.4v3.56h-31.4zM688.8 833.64h58.7v3.56h-58.7zM775.9 833.64h29.6v3.56h-29.6zM834.0 833.64h29.6v3.56h-29.6z"/><path fill="#feeca2" d="M224.1 192.62h29.6v3.56h-29.6zM224.1 195.77h29.6v3.56h-29.6zM340.3 195.77h29.6v3.56h-29.6zM224.1 198.93h29.6v3.56h-29.6zM311.2 198.93h29.6v3.56h-29.6zM137.0 202.09h29.6v3.56h-29.6zM922.0 205.25h28.7v3.56h-28.7zM1037.2 205.25h29.6v3.56h-29.6zM224.1 208.40h29.6v3.56h-29.6zM979.2 208.40h29.6v3.56h-29.6zM195.1 211.56h29.6v3.56h-29.6zM253.2 211.56h29.6v3.56h-29.6zM340.3 211.56h29.6v3.56h-29.6zM137.0 214.72h29.6v3.56h-29.6zM224.1 214.72h29.6v3.56h-29.6zM340.3 217.88h29.6v3.56h-29.6zM311.2 221.04h29.6v3.56h-29.6zM340.3 224.19h29.6v3.56h-29.6zM311.2 227.35h58.7v3.56h-58.7zM311.2 230.51h58.7v3.56h-58.7zM979.2 230.51h29.6v3.56h-29.6zM1037.2 230.51h58.1v3.56h-58.1zM253.2 233.67h29.6v3.56h-29.6zM311.2 233.67h29.6v3.56h-29.6zM253.2 236.82h29.6v3.56h-29.6zM340.3 239.98h29.6v3.56h-29.6zM195.1 243.14h29.6v3.56h-29.6zM340.3 243.14h29.6v3.56h-29.6zM195.1 246.30h29.6v3.56h-29.6zM311.2 246.30h58.7v3.56h-58.7zM979.2 246.30h29.6v3.56h-29.6zM224.1 249.46h29.6v3.56h-29.6zM340.3 249.46h29.6v3.56h-29.6zM340.3 252.61h29.6v3.56h-29.6zM979.2 252.61h29.6v3.56h-29.6zM396.6 255.77h31.4v3.56h-31.4zM717.8 255.77h29.6v3.56h-29.6zM282.2 271.56h29.6v3.56h-29.6zM340.3 271.56h29.6v3.56h-29.6zM1008.2 277.88h29.6v3.56h-29.6zM195.1 281.03h29.6v3.56h-29.6zM340.3 284.19h29.6v3.56h-29.6zM195.1 287.35h29.6v3.56h-29.6zM311.2 287.35h58.7v3.56h-58.7zM253.2 290.51h29.6v3.56h-29.6zM282.2 293.66h29.6v3.56h-29.6zM340.3 293.66h29.6v3.56h-29.6zM979.2 293.66h29.6v3.56h-29.6zM340.3 296.82h29.6v3.56h-29.6zM195.1 303.14h29.6v3.56h-29.6zM282.2 303.14h29.6v3.56h-29.6zM195.1 306.30h29.6v3.56h-29.6zM253.2 306.30h58.7v3.56h-58.7zM195.1 312.61h29.6v3.56h-29.6zM340.3 312.61h29.6v3.56h-29.6zM195.1 315.77h29.6v3.56h-29.6zM340.3 315.77h29.6v3.56h-29.6zM224.1 318.93h29.6v3.56h-29.6zM224.1 322.08h29.6v3.56h-29.6zM340.3 322.08h29.6v3.56h-29.6zM195.1 325.24h29.6v3.56h-29.6zM340.3 325.24h29.6v3.56h-29.6zM1037.2 325.24h29.6v3.56h-29.6zM195.1 331.56h29.6v3.56h-29.6zM195.1 344.19h29.6v3.56h-29.6zM195.1 353.66h29.6v3.56h-29.6zM253.2 353.66h29.6v3.56h-29.6zM195.1 356.82h29.6v3.56h-29.6zM340.3 363.13h29.6v3.56h-29.6zM979.2 363.13h29.6v3.56h-29.6zM224.1 369.45h58.7v3.56h-58.7zM224.1 372.61h29.6v3.56h-29.6zM253.2 378.92h29.6v3.56h-29.6zM282.2 382.08h29.6v3.56h-29.6zM195.1 388.40h29.6v3.56h-29.6zM282.2 388.40h29.6v3.56h-29.6zM282.2 394.71h29.6v3.56h-29.6zM137.0 397.87h29.6v3.56h-29.6zM195.1 397.87h29.6v3.56h-29.6zM340.3 397.87h29.6v3.56h-29.6zM224.1 401.03h29.6v3.56h-29.6zM340.3 404.19h29.6v3.56h-29.6zM253.2 407.34h29.6v3.56h-29.6zM340.3 407.34h56.9v3.56h-56.9zM166.0 410.50h29.6v3.56h-29.6zM282.2 419.97h29.6v3.56h-29.6zM195.1 426.29h29.6v3.56h-29.6zM1037.2 426.29h29.6v3.56h-29.6zM340.3 435.76h29.6v3.56h-29.6zM282.2 438.92h29.6v3.56h-29.6zM195.1 442.08h29.6v3.56h-29.6zM224.1 445.24h87.7v3.56h-87.7zM224.1 448.39h29.6v3.56h-29.6zM340.3 448.39h29.6v3.56h-29.6zM253.2 451.55h29.6v3.56h-29.6zM224.1 457.87h29.6v3.56h-29.6zM340.3 457.87h29.6v3.56h-29.6zM253.2 461.03h58.7v3.56h-58.7zM282.2 464.18h29.6v3.56h-29.6zM1008.2 464.18h29.6v3.56h-29.6zM1066.3 464.18h29.0v3.56h-29.0zM282.2 467.34h29.6v3.56h-29.6zM253.2 473.66h29.6v3.56h-29.6zM340.3 473.66h29.6v3.56h-29.6zM282.2 476.81h29.6v3.56h-29.6zM195.1 479.97h29.6v3.56h-29.6zM282.2 483.13h29.6v3.56h-29.6zM340.3 483.13h29.6v3.56h-29.6zM630.7 483.13h29.6v3.56h-29.6zM195.1 486.29h29.6v3.56h-29.6zM253.2 486.29h58.7v3.56h-58.7zM253.2 492.60h29.6v3.56h-29.6zM195.1 495.76h58.7v3.56h-58.7zM195.1 502.08h29.6v3.56h-29.6zM224.1 505.23h29.6v3.56h-29.6zM340.3 505.23h29.6v3.56h-29.6zM224.1 508.39h58.7v3.56h-58.7zM340.3 508.39h29.6v3.56h-29.6zM224.1 514.71h29.6v3.56h-29.6zM282.2 514.71h29.6v3.56h-29.6zM195.1 517.87h29.6v3.56h-29.6zM166.0 521.02h58.7v3.56h-58.7zM166.0 524.18h29.6v3.56h-29.6zM282.2 524.18h29.6v3.56h-29.6zM979.2 524.18h29.6v3.56h-29.6zM166.0 530.50h29.6v3.56h-29.6zM485.5 536.81h29.6v3.56h-29.6zM688.8 536.81h29.6v3.56h-29.6zM1066.3 536.81h29.0v3.56h-29.0zM485.5 539.97h29.6v3.56h-29.6zM892.0 543.13h30.6v3.56h-30.6zM601.6 546.29h29.6v3.56h-29.6zM804.9 546.29h58.7v3.56h-58.7zM892.0 546.29h30.6v3.56h-30.6zM630.7 549.44h29.6v3.56h-29.6zM804.9 549.44h29.6v3.56h-29.6zM892.0 549.44h30.6v3.56h-30.6zM396.6 552.60h31.4v3.56h-31.4zM688.8 552.60h29.6v3.56h-29.6zM1066.3 555.76h29.0v3.56h-29.0zM659.7 558.92h29.6v3.56h-29.6zM746.8 558.92h29.6v3.56h-29.6zM1066.3 558.92h29.0v3.56h-29.0zM601.6 562.07h29.6v3.56h-29.6zM834.0 562.07h29.6v3.56h-29.6zM1008.2 562.07h29.6v3.56h-29.6zM834.0 565.23h29.6v3.56h-29.6zM892.0 568.39h30.6v3.56h-30.6zM804.9 571.55h87.7v3.56h-87.7zM456.4 574.71h29.6v3.56h-29.6zM601.6 574.71h29.6v3.56h-29.6zM834.0 574.71h29.6v3.56h-29.6zM485.5 577.86h29.6v3.56h-29.6zM543.6 577.86h29.6v3.56h-29.6zM659.7 577.86h29.6v3.56h-29.6zM543.6 581.02h29.6v3.56h-29.6zM659.7 581.02h29.6v3.56h-29.6zM543.6 584.18h29.6v3.56h-29.6zM659.7 584.18h29.6v3.56h-29.6zM746.8 584.18h116.8v3.56h-116.8zM543.6 587.34h29.6v3.56h-29.6zM775.9 587.34h29.6v3.56h-29.6zM659.7 590.49h58.7v3.56h-58.7zM601.6 593.65h29.6v3.56h-29.6zM688.8 593.65h29.6v3.56h-29.6zM746.8 593.65h29.6v3.56h-29.6zM775.9 596.81h29.6v3.56h-29.6zM485.5 599.97h29.6v3.56h-29.6zM834.0 599.97h29.6v3.56h-29.6zM572.6 603.13h29.6v3.56h-29.6zM659.7 603.13h29.6v3.56h-29.6zM892.0 603.13h30.6v3.56h-30.6zM456.4 606.28h87.7v3.56h-87.7zM834.0 606.28h29.6v3.56h-29.6zM863.0 612.60h29.6v3.56h-29.6zM396.6 615.76h31.4v3.56h-31.4zM456.4 615.76h29.6v3.56h-29.6zM834.0 615.76h29.6v3.56h-29.6zM659.7 618.91h29.6v3.56h-29.6zM863.0 618.91h29.6v3.56h-29.6zM485.5 622.07h29.6v3.56h-29.6zM572.6 622.07h29.6v3.56h-29.6zM630.7 622.07h29.6v3.56h-29.6zM863.0 622.07h29.6v3.56h-29.6zM688.8 625.23h29.6v3.56h-29.6zM863.0 625.23h29.6v3.56h-29.6zM630.7 628.39h29.6v3.56h-29.6zM775.9 628.39h29.6v3.56h-29.6zM485.5 631.55h29.6v3.56h-29.6zM863.0 631.55h29.6v3.56h-29.6zM630.7 637.86h29.6v3.56h-29.6zM834.0 637.86h29.6v3.56h-29.6zM630.7 641.02h29.6v3.56h-29.6zM804.9 641.02h29.6v3.56h-29.6zM863.0 641.02h29.6v3.56h-29.6zM804.9 644.18h29.6v3.56h-29.6zM601.6 647.33h29.6v3.56h-29.6zM834.0 647.33h29.6v3.56h-29.6zM427.4 650.49h29.6v3.56h-29.6zM601.6 650.49h29.6v3.56h-29.6zM688.8 650.49h29.6v3.56h-29.6zM396.6 653.65h31.4v3.56h-31.4zM601.6 653.65h29.6v3.56h-29.6zM688.8 653.65h29.6v3.56h-29.6zM804.9 653.65h29.6v3.56h-29.6zM601.6 656.81h29.6v3.56h-29.6zM804.9 656.81h29.6v3.56h-29.6zM688.8 659.97h29.6v3.56h-29.6zM427.4 666.28h29.6v3.56h-29.6zM804.9 666.28h29.6v3.56h-29.6zM543.6 669.44h29.6v3.56h-29.6zM659.7 669.44h29.6v3.56h-29.6zM834.0 669.44h29.6v3.56h-29.6zM543.6 672.60h29.6v3.56h-29.6zM601.6 675.75h29.6v3.56h-29.6zM688.8 678.91h29.6v3.56h-29.6zM804.9 678.91h29.6v3.56h-29.6zM688.8 682.07h29.6v3.56h-29.6zM485.5 688.38h29.6v3.56h-29.6zM688.8 691.54h29.6v3.56h-29.6zM427.4 694.70h29.6v3.56h-29.6zM601.6 694.70h58.7v3.56h-58.7zM396.6 697.86h31.4v3.56h-31.4zM630.7 697.86h29.6v3.56h-29.6zM456.4 701.02h58.7v3.56h-58.7zM892.0 701.02h30.6v3.56h-30.6zM1037.2 701.02h29.6v3.56h-29.6zM485.5 704.17h58.7v3.56h-58.7zM630.7 704.17h29.6v3.56h-29.6zM485.5 707.33h58.7v3.56h-58.7zM572.6 707.33h29.6v3.56h-29.6zM630.7 707.33h29.6v3.56h-29.6zM834.0 707.33h29.6v3.56h-29.6zM396.6 710.49h31.4v3.56h-31.4zM834.0 710.49h29.6v3.56h-29.6zM396.6 713.65h31.4v3.56h-31.4zM485.5 713.65h29.6v3.56h-29.6zM396.6 716.80h31.4v3.56h-31.4zM514.5 716.80h29.6v3.56h-29.6zM630.7 716.80h29.6v3.56h-29.6zM804.9 716.80h29.6v3.56h-29.6zM514.5 719.96h58.7v3.56h-58.7zM543.6 726.28h29.6v3.56h-29.6zM746.8 729.44h29.6v3.56h-29.6zM456.4 732.59h29.6v3.56h-29.6zM659.7 732.59h29.6v3.56h-29.6zM746.8 732.59h29.6v3.56h-29.6zM892.0 735.75h30.6v3.56h-30.6zM572.6 738.91h29.6v3.56h-29.6zM572.6 745.22h29.6v3.56h-29.6zM659.7 748.38h58.7v3.56h-58.7zM892.0 748.38h58.7v3.56h-58.7zM659.7 751.54h58.7v3.56h-58.7zM1066.3 751.54h29.0v3.56h-29.0zM804.9 754.70h29.6v3.56h-29.6zM892.0 754.70h30.6v3.56h-30.6zM514.5 757.86h29.6v3.56h-29.6zM659.7 757.86h58.7v3.56h-58.7zM514.5 761.01h29.6v3.56h-29.6zM688.8 761.01h29.6v3.56h-29.6zM804.9 761.01h29.6v3.56h-29.6zM659.7 764.17h58.7v3.56h-58.7zM688.8 767.33h29.6v3.56h-29.6zM834.0 767.33h29.6v3.56h-29.6zM892.0 767.33h30.6v3.56h-30.6zM572.6 770.49h29.6v3.56h-29.6zM892.0 770.49h30.6v3.56h-30.6zM572.6 773.64h29.6v3.56h-29.6zM688.8 779.96h29.6v3.56h-29.6zM804.9 779.96h29.6v3.56h-29.6zM892.0 783.12h30.6v3.56h-30.6zM892.0 786.28h30.6v3.56h-30.6zM396.6 789.43h89.5v3.56h-89.5zM427.4 792.59h29.6v3.56h-29.6zM427.4 795.75h29.6v3.56h-29.6zM514.5 795.75h29.6v3.56h-29.6zM427.4 798.91h29.6v3.56h-29.6zM892.0 798.91h30.6v3.56h-30.6zM396.6 805.22h31.4v3.56h-31.4zM892.0 805.22h30.6v3.56h-30.6zM804.9 811.54h29.6v3.56h-29.6zM514.5 814.70h29.6v3.56h-29.6zM804.9 814.70h29.6v3.56h-29.6zM485.5 817.85h87.7v3.56h-87.7zM659.7 817.85h29.6v3.56h-29.6zM892.0 821.01h30.6v3.56h-30.6zM485.5 824.17h58.7v3.56h-58.7zM834.0 824.17h29.6v3.56h-29.6zM892.0 824.17h30.6v3.56h-30.6zM485.5 827.33h29.6v3.56h-29.6zM775.9 827.33h29.6v3.56h-29.6zM922.0 827.33h57.8v3.56h-57.8zM396.6 830.48h31.4v3.56h-31.4zM688.8 830.48h29.6v3.56h-29.6zM514.5 833.64h58.7v3.56h-58.7zM863.0 833.64h59.6v3.56h-59.6z"/><path fill="#fee99d" d="M253.2 189.46h29.6v3.56h-29.6zM746.8 189.46h29.6v3.56h-29.6zM195.1 192.62h29.6v3.56h-29.6zM979.2 192.62h29.6v3.56h-29.6zM195.1 195.77h29.6v3.56h-29.6zM253.2 195.77h29.6v3.56h-29.6zM195.1 198.93h29.6v3.56h-29.6zM253.2 202.09h29.6v3.56h-29.6zM979.2 205.25h29.6v3.56h-29.6zM137.0 208.40h29.6v3.56h-29.6zM137.0 211.56h29.6v3.56h-29.6zM253.2 214.72h29.6v3.56h-29.6zM1066.3 214.72h29.0v3.56h-29.0zM137.0 217.88h29.6v3.56h-29.6zM224.1 221.04h29.6v3.56h-29.6zM282.2 221.04h29.6v3.56h-29.6zM311.2 224.19h29.6v3.56h-29.6zM224.1 227.35h29.6v3.56h-29.6zM979.2 227.35h29.6v3.56h-29.6zM253.2 230.51h29.6v3.56h-29.6zM282.2 233.67h29.6v3.56h-29.6zM340.3 233.67h29.6v3.56h-29.6zM224.1 236.82h29.6v3.56h-29.6zM311.2 236.82h58.7v3.56h-58.7zM195.1 239.98h87.7v3.56h-87.7zM311.2 239.98h29.6v3.56h-29.6zM253.2 246.30h29.6v3.56h-29.6zM195.1 249.46h29.6v3.56h-29.6zM311.2 249.46h29.6v3.56h-29.6zM396.6 252.61h31.4v3.56h-31.4zM456.4 252.61h29.6v3.56h-29.6zM195.1 255.77h29.6v3.56h-29.6zM311.2 255.77h29.6v3.56h-29.6zM195.1 262.09h29.6v3.56h-29.6zM224.1 265.24h29.6v3.56h-29.6zM195.1 268.40h29.6v3.56h-29.6zM253.2 268.40h58.7v3.56h-58.7zM396.6 268.40h31.4v3.56h-31.4zM195.1 274.72h29.6v3.56h-29.6zM282.2 277.88h29.6v3.56h-29.6zM224.1 281.03h29.6v3.56h-29.6zM282.2 281.03h58.7v3.56h-58.7zM369.3 281.03h27.9v3.56h-27.9zM253.2 287.35h58.7v3.56h-58.7zM195.1 290.51h29.6v3.56h-29.6zM282.2 290.51h87.7v3.56h-87.7zM195.1 293.66h29.6v3.56h-29.6zM253.2 293.66h29.6v3.56h-29.6zM311.2 293.66h29.6v3.56h-29.6zM369.3 293.66h27.9v3.56h-27.9zM195.1 296.82h116.8v3.56h-116.8zM195.1 299.98h58.7v3.56h-58.7zM311.2 299.98h58.7v3.56h-58.7zM224.1 303.14h29.6v3.56h-29.6zM253.2 312.61h29.6v3.56h-29.6zM282.2 315.77h29.6v3.56h-29.6zM195.1 318.93h29.6v3.56h-29.6zM340.3 318.93h29.6v3.56h-29.6zM195.1 322.08h29.6v3.56h-29.6zM311.2 322.08h29.6v3.56h-29.6zM311.2 325.24h29.6v3.56h-29.6zM195.1 328.40h29.6v3.56h-29.6zM253.2 328.40h116.8v3.56h-116.8zM282.2 331.56h29.6v3.56h-29.6zM253.2 334.72h29.6v3.56h-29.6zM311.2 334.72h58.7v3.56h-58.7zM195.1 337.87h29.6v3.56h-29.6zM253.2 341.03h58.7v3.56h-58.7zM195.1 347.35h29.6v3.56h-29.6zM253.2 347.35h29.6v3.56h-29.6zM195.1 350.50h29.6v3.56h-29.6zM253.2 356.82h87.7v3.56h-87.7zM253.2 359.98h29.6v3.56h-29.6zM224.1 363.13h29.6v3.56h-29.6zM282.2 363.13h29.6v3.56h-29.6zM340.3 366.29h29.6v3.56h-29.6zM340.3 369.45h29.6v3.56h-29.6zM253.2 372.61h29.6v3.56h-29.6zM311.2 372.61h29.6v3.56h-29.6zM253.2 375.77h29.6v3.56h-29.6zM224.1 378.92h29.6v3.56h-29.6zM340.3 378.92h29.6v3.56h-29.6zM224.1 382.08h58.7v3.56h-58.7zM195.1 385.24h29.6v3.56h-29.6zM340.3 388.40h29.6v3.56h-29.6zM979.2 388.40h29.6v3.56h-29.6zM253.2 391.55h29.6v3.56h-29.6zM340.3 394.71h29.6v3.56h-29.6zM253.2 397.87h29.6v3.56h-29.6zM137.0 401.03h29.6v3.56h-29.6zM195.1 401.03h29.6v3.56h-29.6zM253.2 401.03h29.6v3.56h-29.6zM282.2 423.13h29.6v3.56h-29.6zM340.3 423.13h29.6v3.56h-29.6zM195.1 429.45h29.6v3.56h-29.6zM282.2 429.45h29.6v3.56h-29.6zM340.3 429.45h29.6v3.56h-29.6zM224.1 432.61h29.6v3.56h-29.6zM282.2 432.61h29.6v3.56h-29.6zM340.3 432.61h29.6v3.56h-29.6zM979.2 432.61h29.6v3.56h-29.6zM979.2 435.76h29.6v3.56h-29.6zM195.1 438.92h29.6v3.56h-29.6zM311.2 438.92h29.6v3.56h-29.6zM282.2 442.08h29.6v3.56h-29.6zM979.2 451.55h29.6v3.56h-29.6zM282.2 454.71h29.6v3.56h-29.6zM1037.2 454.71h29.6v3.56h-29.6zM253.2 457.87h29.6v3.56h-29.6zM340.3 461.03h29.6v3.56h-29.6zM224.1 464.18h58.7v3.56h-58.7zM979.2 464.18h29.6v3.56h-29.6zM253.2 470.50h58.7v3.56h-58.7zM340.3 470.50h29.6v3.56h-29.6zM282.2 473.66h29.6v3.56h-29.6zM166.0 476.81h29.6v3.56h-29.6zM253.2 476.81h29.6v3.56h-29.6zM166.0 479.97h29.6v3.56h-29.6zM253.2 479.97h58.7v3.56h-58.7zM166.0 483.13h29.6v3.56h-29.6zM282.2 489.45h29.6v3.56h-29.6zM311.2 495.76h58.7v3.56h-58.7zM340.3 498.92h29.6v3.56h-29.6zM195.1 505.23h29.6v3.56h-29.6zM282.2 505.23h29.6v3.56h-29.6zM195.1 508.39h29.6v3.56h-29.6zM195.1 511.55h58.7v3.56h-58.7zM166.0 514.71h29.6v3.56h-29.6zM224.1 517.87h29.6v3.56h-29.6zM224.1 521.02h29.6v3.56h-29.6zM195.1 524.18h87.7v3.56h-87.7zM195.1 527.34h116.8v3.56h-116.8zM195.1 530.50h58.7v3.56h-58.7zM282.2 530.50h29.6v3.56h-29.6zM659.7 533.65h29.6v3.56h-29.6zM601.6 536.81h29.6v3.56h-29.6zM688.8 539.97h29.6v3.56h-29.6zM601.6 543.13h29.6v3.56h-29.6zM688.8 543.13h29.6v3.56h-29.6zM834.0 543.13h29.6v3.56h-29.6zM659.7 546.29h29.6v3.56h-29.6zM775.9 549.44h29.6v3.56h-29.6zM834.0 549.44h29.6v3.56h-29.6zM630.7 552.60h58.7v3.56h-58.7zM834.0 552.60h29.6v3.56h-29.6zM485.5 555.76h29.6v3.56h-29.6zM601.6 555.76h29.6v3.56h-29.6zM601.6 558.92h29.6v3.56h-29.6zM688.8 558.92h29.6v3.56h-29.6zM804.9 558.92h29.6v3.56h-29.6zM688.8 562.07h29.6v3.56h-29.6zM601.6 565.23h58.7v3.56h-58.7zM688.8 565.23h29.6v3.56h-29.6zM804.9 565.23h29.6v3.56h-29.6zM804.9 568.39h29.6v3.56h-29.6zM659.7 571.55h29.6v3.56h-29.6zM659.7 574.71h58.7v3.56h-58.7zM514.5 577.86h29.6v3.56h-29.6zM688.8 577.86h29.6v3.56h-29.6zM804.9 577.86h58.7v3.56h-58.7zM892.0 577.86h30.6v3.56h-30.6zM456.4 587.34h29.6v3.56h-29.6zM688.8 587.34h29.6v3.56h-29.6zM834.0 587.34h29.6v3.56h-29.6zM775.9 590.49h29.6v3.56h-29.6zM775.9 593.65h29.6v3.56h-29.6zM456.4 596.81h58.7v3.56h-58.7zM688.8 596.81h29.6v3.56h-29.6zM688.8 599.97h29.6v3.56h-29.6zM485.5 603.13h29.6v3.56h-29.6zM688.8 603.13h29.6v3.56h-29.6zM688.8 609.44h29.6v3.56h-29.6zM659.7 612.60h29.6v3.56h-29.6zM630.7 615.76h29.6v3.56h-29.6zM688.8 615.76h29.6v3.56h-29.6zM630.7 618.91h29.6v3.56h-29.6zM892.0 625.23h30.6v3.56h-30.6zM485.5 628.39h29.6v3.56h-29.6zM688.8 628.39h29.6v3.56h-29.6zM892.0 628.39h30.6v3.56h-30.6zM688.8 631.55h29.6v3.56h-29.6zM688.8 634.70h29.6v3.56h-29.6zM396.6 637.86h31.4v3.56h-31.4zM804.9 637.86h29.6v3.56h-29.6zM630.7 644.18h29.6v3.56h-29.6zM659.7 647.33h29.6v3.56h-29.6zM396.6 650.49h31.4v3.56h-31.4zM543.6 653.65h29.6v3.56h-29.6zM659.7 653.65h29.6v3.56h-29.6zM892.0 653.65h30.6v3.56h-30.6zM659.7 656.81h58.7v3.56h-58.7zM892.0 656.81h30.6v3.56h-30.6zM456.4 659.97h29.6v3.56h-29.6zM456.4 663.12h29.6v3.56h-29.6zM659.7 663.12h58.7v3.56h-58.7zM834.0 663.12h29.6v3.56h-29.6zM456.4 666.28h29.6v3.56h-29.6zM834.0 666.28h29.6v3.56h-29.6zM688.8 669.44h29.6v3.56h-29.6zM688.8 672.60h29.6v3.56h-29.6zM746.8 672.60h29.6v3.56h-29.6zM804.9 672.60h29.6v3.56h-29.6zM688.8 675.75h29.6v3.56h-29.6zM804.9 675.75h29.6v3.56h-29.6zM1066.3 678.91h29.0v3.56h-29.0zM456.4 682.07h29.6v3.56h-29.6zM804.9 682.07h29.6v3.56h-29.6zM396.6 685.23h31.4v3.56h-31.4zM456.4 685.23h29.6v3.56h-29.6zM427.4 688.38h29.6v3.56h-29.6zM485.5 691.54h29.6v3.56h-29.6zM1008.2 691.54h29.6v3.56h-29.6zM396.6 701.02h31.4v3.56h-31.4zM572.6 704.17h58.7v3.56h-58.7zM514.5 710.49h29.6v3.56h-29.6zM688.8 716.80h29.6v3.56h-29.6zM396.6 719.96h31.4v3.56h-31.4zM834.0 719.96h29.6v3.56h-29.6zM514.5 723.12h29.6v3.56h-29.6zM659.7 723.12h29.6v3.56h-29.6zM514.5 726.28h29.6v3.56h-29.6zM659.7 726.28h29.6v3.56h-29.6zM514.5 729.44h29.6v3.56h-29.6zM659.7 729.44h29.6v3.56h-29.6zM485.5 732.59h29.6v3.56h-29.6zM834.0 735.75h29.6v3.56h-29.6zM863.0 738.91h59.6v3.56h-59.6zM863.0 742.07h59.6v3.56h-59.6zM892.0 745.22h30.6v3.56h-30.6zM543.6 748.38h29.6v3.56h-29.6zM804.9 748.38h29.6v3.56h-29.6zM543.6 751.54h29.6v3.56h-29.6zM804.9 751.54h29.6v3.56h-29.6zM922.0 751.54h28.7v3.56h-28.7zM804.9 757.86h29.6v3.56h-29.6zM485.5 761.01h29.6v3.56h-29.6zM630.7 761.01h58.7v3.56h-58.7zM834.0 761.01h29.6v3.56h-29.6zM514.5 764.17h29.6v3.56h-29.6zM630.7 764.17h29.6v3.56h-29.6zM514.5 767.33h29.6v3.56h-29.6zM659.7 767.33h29.6v3.56h-29.6zM804.9 767.33h29.6v3.56h-29.6zM630.7 770.49h29.6v3.56h-29.6zM804.9 770.49h29.6v3.56h-29.6zM456.4 773.64h29.6v3.56h-29.6zM630.7 773.64h29.6v3.56h-29.6zM892.0 773.64h58.7v3.56h-58.7zM630.7 776.80h29.6v3.56h-29.6zM804.9 776.80h29.6v3.56h-29.6zM892.0 776.80h30.6v3.56h-30.6zM659.7 779.96h29.6v3.56h-29.6zM804.9 783.12h29.6v3.56h-29.6zM396.6 786.28h31.4v3.56h-31.4zM804.9 786.28h29.6v3.56h-29.6zM804.9 789.43h29.6v3.56h-29.6zM396.6 792.59h31.4v3.56h-31.4zM456.4 792.59h29.6v3.56h-29.6zM688.8 792.59h29.6v3.56h-29.6zM804.9 792.59h29.6v3.56h-29.6zM804.9 795.75h29.6v3.56h-29.6zM892.0 795.75h30.6v3.56h-30.6zM485.5 798.91h29.6v3.56h-29.6zM804.9 798.91h29.6v3.56h-29.6zM396.6 802.06h31.4v3.56h-31.4zM688.8 802.06h29.6v3.56h-29.6zM804.9 805.22h29.6v3.56h-29.6zM514.5 808.38h29.6v3.56h-29.6zM922.0 808.38h28.7v3.56h-28.7zM543.6 811.54h29.6v3.56h-29.6zM543.6 814.70h29.6v3.56h-29.6zM892.0 814.70h30.6v3.56h-30.6zM950.1 817.85h29.6v3.56h-29.6zM543.6 821.01h29.6v3.56h-29.6zM746.8 821.01h29.6v3.56h-29.6zM804.9 821.01h29.6v3.56h-29.6zM922.0 821.01h28.7v3.56h-28.7zM543.6 824.17h29.6v3.56h-29.6zM543.6 827.33h29.6v3.56h-29.6zM514.5 830.48h58.7v3.56h-58.7zM804.9 830.48h29.6v3.56h-29.6zM950.1 833.64h29.6v3.56h-29.6z"/><path fill="#fee699" d="M340.3 186.30h29.6v3.56h-29.6zM195.1 189.46h29.6v3.56h-29.6zM282.2 195.77h58.7v3.56h-58.7zM282.2 198.93h29.6v3.56h-29.6zM195.1 202.09h29.6v3.56h-29.6zM311.2 202.09h29.6v3.56h-29.6zM195.1 205.25h29.6v3.56h-29.6zM253.2 205.25h29.6v3.56h-29.6zM195.1 208.40h29.6v3.56h-29.6zM282.2 208.40h58.7v3.56h-58.7zM311.2 211.56h29.6v3.56h-29.6zM369.3 214.72h27.9v3.56h-27.9zM922.0 214.72h28.7v3.56h-28.7zM979.2 214.72h29.6v3.56h-29.6zM224.1 217.88h58.7v3.56h-58.7zM137.0 221.04h29.6v3.56h-29.6zM137.0 224.19h29.6v3.56h-29.6zM224.1 224.19h29.6v3.56h-29.6zM253.2 227.35h29.6v3.56h-29.6zM195.1 233.67h58.7v3.56h-58.7zM224.1 243.14h58.7v3.56h-58.7zM224.1 246.30h29.6v3.56h-29.6zM369.3 249.46h27.9v3.56h-27.9zM195.1 252.61h29.6v3.56h-29.6zM224.1 255.77h29.6v3.56h-29.6zM195.1 258.93h58.7v3.56h-58.7zM282.2 262.09h29.6v3.56h-29.6zM195.1 265.24h29.6v3.56h-29.6zM282.2 265.24h29.6v3.56h-29.6zM224.1 268.40h29.6v3.56h-29.6zM369.3 268.40h27.9v3.56h-27.9zM369.3 271.56h27.9v3.56h-27.9zM340.3 274.72h56.9v3.56h-56.9zM340.3 277.88h29.6v3.56h-29.6zM340.3 281.03h29.6v3.56h-29.6zM282.2 284.19h58.7v3.56h-58.7zM369.3 287.35h27.9v3.56h-27.9zM311.2 296.82h29.6v3.56h-29.6zM979.2 296.82h29.6v3.56h-29.6zM253.2 299.98h58.7v3.56h-58.7zM224.1 306.30h29.6v3.56h-29.6zM282.2 309.45h29.6v3.56h-29.6zM224.1 312.61h29.6v3.56h-29.6zM224.1 315.77h29.6v3.56h-29.6zM166.0 325.24h29.6v3.56h-29.6zM166.0 328.40h29.6v3.56h-29.6zM224.1 331.56h29.6v3.56h-29.6zM311.2 331.56h29.6v3.56h-29.6zM195.1 334.72h29.6v3.56h-29.6zM224.1 337.87h29.6v3.56h-29.6zM282.2 337.87h58.7v3.56h-58.7zM311.2 341.03h29.6v3.56h-29.6zM253.2 344.19h87.7v3.56h-87.7zM224.1 350.50h29.6v3.56h-29.6zM137.0 353.66h29.6v3.56h-29.6zM224.1 356.82h29.6v3.56h-29.6zM224.1 359.98h29.6v3.56h-29.6zM253.2 363.13h29.6v3.56h-29.6zM311.2 363.13h29.6v3.56h-29.6zM224.1 366.29h116.8v3.56h-116.8zM282.2 369.45h29.6v3.56h-29.6zM340.3 372.61h29.6v3.56h-29.6zM282.2 375.77h58.7v3.56h-58.7zM282.2 378.92h58.7v3.56h-58.7zM224.1 385.24h29.6v3.56h-29.6zM282.2 385.24h29.6v3.56h-29.6zM340.3 385.24h29.6v3.56h-29.6zM340.3 391.55h29.6v3.56h-29.6zM253.2 394.71h29.6v3.56h-29.6zM282.2 401.03h29.6v3.56h-29.6zM340.3 401.03h29.6v3.56h-29.6zM340.3 419.97h29.6v3.56h-29.6zM1037.2 432.61h29.6v3.56h-29.6zM282.2 435.76h58.7v3.56h-58.7zM340.3 438.92h29.6v3.56h-29.6zM340.3 442.08h29.6v3.56h-29.6zM282.2 448.39h58.7v3.56h-58.7zM253.2 454.71h29.6v3.56h-29.6zM340.3 454.71h29.6v3.56h-29.6zM282.2 457.87h29.6v3.56h-29.6zM224.1 461.03h29.6v3.56h-29.6zM253.2 467.34h29.6v3.56h-29.6zM166.0 473.66h29.6v3.56h-29.6zM311.2 476.81h29.6v3.56h-29.6zM311.2 479.97h29.6v3.56h-29.6zM253.2 483.13h29.6v3.56h-29.6zM311.2 498.92h29.6v3.56h-29.6zM311.2 505.23h29.6v3.56h-29.6zM311.2 508.39h29.6v3.56h-29.6zM282.2 511.55h29.6v3.56h-29.6zM195.1 514.71h29.6v3.56h-29.6zM166.0 517.87h29.6v3.56h-29.6zM340.3 517.87h29.6v3.56h-29.6zM282.2 521.02h29.6v3.56h-29.6zM166.0 527.34h29.6v3.56h-29.6zM253.2 530.50h29.6v3.56h-29.6zM311.2 530.50h29.6v3.56h-29.6zM659.7 543.13h29.6v3.56h-29.6zM659.7 549.44h29.6v3.56h-29.6zM863.0 549.44h29.6v3.56h-29.6zM863.0 552.60h29.6v3.56h-29.6zM834.0 555.76h29.6v3.56h-29.6zM485.5 558.92h29.6v3.56h-29.6zM746.8 562.07h29.6v3.56h-29.6zM863.0 562.07h29.6v3.56h-29.6zM485.5 565.23h29.6v3.56h-29.6zM1008.2 565.23h29.6v3.56h-29.6zM688.8 568.39h29.6v3.56h-29.6zM601.6 571.55h58.7v3.56h-58.7zM688.8 571.55h29.6v3.56h-29.6zM543.6 574.71h29.6v3.56h-29.6zM630.7 574.71h29.6v3.56h-29.6zM804.9 574.71h29.6v3.56h-29.6zM456.4 581.02h29.6v3.56h-29.6zM514.5 581.02h29.6v3.56h-29.6zM688.8 581.02h29.6v3.56h-29.6zM456.4 584.18h29.6v3.56h-29.6zM630.7 599.97h29.6v3.56h-29.6zM630.7 603.13h29.6v3.56h-29.6zM688.8 606.28h29.6v3.56h-29.6zM688.8 612.60h29.6v3.56h-29.6zM630.7 631.55h29.6v3.56h-29.6zM804.9 631.55h29.6v3.56h-29.6zM630.7 634.70h29.6v3.56h-29.6zM804.9 634.70h29.6v3.56h-29.6zM659.7 637.86h58.7v3.56h-58.7zM659.7 644.18h29.6v3.56h-29.6zM659.7 650.49h29.6v3.56h-29.6zM804.9 650.49h29.6v3.56h-29.6zM543.6 659.97h29.6v3.56h-29.6zM659.7 659.97h29.6v3.56h-29.6zM543.6 663.12h29.6v3.56h-29.6zM659.7 666.28h58.7v3.56h-58.7zM427.4 678.91h58.7v3.56h-58.7zM514.5 678.91h29.6v3.56h-29.6zM396.6 688.38h31.4v3.56h-31.4zM659.7 697.86h29.6v3.56h-29.6zM863.0 697.86h29.6v3.56h-29.6zM572.6 701.02h29.6v3.56h-29.6zM456.4 704.17h29.6v3.56h-29.6zM775.9 716.80h29.6v3.56h-29.6zM863.0 735.75h29.6v3.56h-29.6zM396.6 738.91h31.4v3.56h-31.4zM396.6 742.07h31.4v3.56h-31.4zM804.9 745.22h29.6v3.56h-29.6zM863.0 745.22h29.6v3.56h-29.6zM922.0 745.22h28.7v3.56h-28.7zM775.9 748.38h29.6v3.56h-29.6zM543.6 754.70h29.6v3.56h-29.6zM834.0 754.70h29.6v3.56h-29.6zM543.6 757.86h29.6v3.56h-29.6zM834.0 757.86h29.6v3.56h-29.6zM572.6 764.17h29.6v3.56h-29.6zM630.7 767.33h29.6v3.56h-29.6zM834.0 770.49h29.6v3.56h-29.6zM456.4 776.80h29.6v3.56h-29.6zM892.0 779.96h30.6v3.56h-30.6zM659.7 783.12h29.6v3.56h-29.6zM659.7 786.28h29.6v3.56h-29.6zM688.8 789.43h29.6v3.56h-29.6zM485.5 792.59h29.6v3.56h-29.6zM688.8 795.75h29.6v3.56h-29.6zM804.9 802.06h29.6v3.56h-29.6zM485.5 805.22h29.6v3.56h-29.6zM485.5 808.38h29.6v3.56h-29.6zM804.9 808.38h29.6v3.56h-29.6zM892.0 808.38h30.6v3.56h-30.6zM892.0 811.54h30.6v3.56h-30.6zM746.8 817.85h29.6v3.56h-29.6zM804.9 817.85h29.6v3.56h-29.6zM892.0 817.85h58.7v3.56h-58.7zM804.9 827.33h29.6v3.56h-29.6zM950.1 830.48h29.6v3.56h-29.6zM804.9 833.64h29.6v3.56h-29.6z"/><path fill="#fee394" d="M282.2 202.09h29.6v3.56h-29.6zM311.2 205.25h29.6v3.56h-29.6zM253.2 208.40h29.6v3.56h-29.6zM369.3 208.40h27.9v3.56h-27.9zM224.1 211.56h29.6v3.56h-29.6zM282.2 211.56h29.6v3.56h-29.6zM282.2 214.72h58.7v3.56h-58.7zM369.3 221.04h27.9v3.56h-27.9zM979.2 221.04h29.6v3.56h-29.6zM253.2 224.19h29.6v3.56h-29.6zM369.3 227.35h27.9v3.56h-27.9zM224.1 230.51h29.6v3.56h-29.6zM369.3 236.82h27.9v3.56h-27.9zM369.3 239.98h27.9v3.56h-27.9zM311.2 243.14h29.6v3.56h-29.6zM224.1 252.61h29.6v3.56h-29.6zM369.3 252.61h27.9v3.56h-27.9zM340.3 255.77h29.6v3.56h-29.6zM311.2 258.93h58.7v3.56h-58.7zM137.0 262.09h29.6v3.56h-29.6zM369.3 262.09h27.9v3.56h-27.9zM311.2 268.40h29.6v3.56h-29.6zM311.2 271.56h29.6v3.56h-29.6zM282.2 274.72h58.7v3.56h-58.7zM311.2 277.88h29.6v3.56h-29.6zM137.0 281.03h29.6v3.56h-29.6zM253.2 284.19h29.6v3.56h-29.6zM224.1 287.35h29.6v3.56h-29.6zM369.3 290.51h27.9v3.56h-27.9zM224.1 293.66h29.6v3.56h-29.6zM224.1 309.45h29.6v3.56h-29.6zM282.2 312.61h29.6v3.56h-29.6zM166.0 318.93h29.6v3.56h-29.6zM369.3 318.93h27.9v3.56h-27.9zM166.0 322.08h29.6v3.56h-29.6zM1066.3 325.24h29.0v3.56h-29.0zM166.0 331.56h29.6v3.56h-29.6zM253.2 331.56h29.6v3.56h-29.6zM224.1 334.72h29.6v3.56h-29.6zM282.2 334.72h29.6v3.56h-29.6zM369.3 334.72h27.9v3.56h-27.9zM224.1 341.03h29.6v3.56h-29.6zM311.2 347.35h29.6v3.56h-29.6zM253.2 350.50h29.6v3.56h-29.6zM224.1 353.66h29.6v3.56h-29.6zM311.2 353.66h29.6v3.56h-29.6zM137.0 356.82h29.6v3.56h-29.6zM282.2 359.98h29.6v3.56h-29.6zM369.3 366.29h27.9v3.56h-27.9zM311.2 369.45h29.6v3.56h-29.6zM340.3 375.77h29.6v3.56h-29.6zM311.2 382.08h58.7v3.56h-58.7zM253.2 385.24h29.6v3.56h-29.6zM311.2 388.40h29.6v3.56h-29.6zM311.2 391.55h29.6v3.56h-29.6zM224.1 394.71h29.6v3.56h-29.6zM224.1 397.87h29.6v3.56h-29.6zM282.2 397.87h58.7v3.56h-58.7zM311.2 401.03h29.6v3.56h-29.6zM340.3 410.50h29.6v3.56h-29.6zM224.1 419.97h58.7v3.56h-58.7zM224.1 423.13h29.6v3.56h-29.6zM979.2 423.13h29.6v3.56h-29.6zM224.1 426.29h29.6v3.56h-29.6zM340.3 426.29h29.6v3.56h-29.6zM311.2 432.61h29.6v3.56h-29.6zM1008.2 432.61h29.6v3.56h-29.6zM224.1 435.76h58.7v3.56h-58.7zM224.1 438.92h58.7v3.56h-58.7zM224.1 442.08h29.6v3.56h-29.6zM311.2 442.08h29.6v3.56h-29.6zM311.2 445.24h29.6v3.56h-29.6zM311.2 451.55h29.6v3.56h-29.6zM224.1 454.71h29.6v3.56h-29.6zM311.2 454.71h29.6v3.56h-29.6zM311.2 464.18h29.6v3.56h-29.6zM311.2 467.34h29.6v3.56h-29.6zM369.3 467.34h27.9v3.56h-27.9zM311.2 473.66h29.6v3.56h-29.6zM369.3 476.81h27.9v3.56h-27.9zM282.2 495.76h29.6v3.56h-29.6zM311.2 502.08h29.6v3.56h-29.6zM282.2 508.39h29.6v3.56h-29.6zM311.2 511.55h58.7v3.56h-58.7zM311.2 517.87h29.6v3.56h-29.6zM340.3 521.02h29.6v3.56h-29.6zM340.3 524.18h29.6v3.56h-29.6zM311.2 527.34h29.6v3.56h-29.6zM340.3 530.50h29.6v3.56h-29.6zM688.8 533.65h29.6v3.56h-29.6zM543.6 539.97h29.6v3.56h-29.6zM543.6 546.29h29.6v3.56h-29.6zM746.8 552.60h29.6v3.56h-29.6zM746.8 555.76h29.6v3.56h-29.6zM834.0 558.92h29.6v3.56h-29.6zM543.6 562.07h29.6v3.56h-29.6zM543.6 568.39h29.6v3.56h-29.6zM659.7 568.39h29.6v3.56h-29.6zM688.8 584.18h29.6v3.56h-29.6zM804.9 596.81h29.6v3.56h-29.6zM630.7 606.28h29.6v3.56h-29.6zM688.8 641.02h29.6v3.56h-29.6zM543.6 656.81h29.6v3.56h-29.6zM601.6 663.12h29.6v3.56h-29.6zM630.7 669.44h29.6v3.56h-29.6zM427.4 682.07h29.6v3.56h-29.6zM485.5 682.07h58.7v3.56h-58.7zM427.4 685.23h29.6v3.56h-29.6zM514.5 685.23h29.6v3.56h-29.6zM456.4 688.38h29.6v3.56h-29.6zM456.4 691.54h29.6v3.56h-29.6zM456.4 697.86h29.6v3.56h-29.6zM601.6 710.49h29.6v3.56h-29.6zM485.5 757.86h29.6v3.56h-29.6zM834.0 764.17h29.6v3.56h-29.6zM746.8 767.33h29.6v3.56h-29.6zM950.1 779.96h29.6v3.56h-29.6zM485.5 795.75h29.6v3.56h-29.6zM950.1 811.54h29.6v3.56h-29.6zM804.9 824.17h29.6v3.56h-29.6z"/><path fill="#fee090" d="M311.2 186.30h29.6v3.56h-29.6zM311.2 192.62h29.6v3.56h-29.6zM369.3 195.77h27.9v3.56h-27.9zM224.1 205.25h29.6v3.56h-29.6zM282.2 205.25h29.6v3.56h-29.6zM282.2 217.88h58.7v3.56h-58.7zM282.2 224.19h29.6v3.56h-29.6zM369.3 224.19h27.9v3.56h-27.9zM282.2 230.51h29.6v3.56h-29.6zM369.3 230.51h27.9v3.56h-27.9zM137.0 233.67h29.6v3.56h-29.6zM137.0 243.14h29.6v3.56h-29.6zM282.2 243.14h29.6v3.56h-29.6zM369.3 243.14h27.9v3.56h-27.9zM282.2 246.30h29.6v3.56h-29.6zM369.3 246.30h27.9v3.56h-27.9zM369.3 255.77h27.9v3.56h-27.9zM137.0 258.93h29.6v3.56h-29.6zM369.3 258.93h27.9v3.56h-27.9zM166.0 265.24h29.6v3.56h-29.6zM369.3 265.24h27.9v3.56h-27.9zM137.0 271.56h58.7v3.56h-58.7zM253.2 274.72h29.6v3.56h-29.6zM137.0 277.88h29.6v3.56h-29.6zM253.2 277.88h29.6v3.56h-29.6zM137.0 284.19h29.6v3.56h-29.6zM224.1 284.19h29.6v3.56h-29.6zM369.3 284.19h27.9v3.56h-27.9zM137.0 287.35h29.6v3.56h-29.6zM311.2 306.30h29.6v3.56h-29.6zM137.0 312.61h29.6v3.56h-29.6zM311.2 318.93h29.6v3.56h-29.6zM137.0 331.56h29.6v3.56h-29.6zM369.3 331.56h27.9v3.56h-27.9zM137.0 334.72h29.6v3.56h-29.6zM137.0 341.03h29.6v3.56h-29.6zM369.3 341.03h27.9v3.56h-27.9zM137.0 344.19h29.6v3.56h-29.6zM137.0 347.35h29.6v3.56h-29.6zM369.3 347.35h27.9v3.56h-27.9zM137.0 350.50h29.6v3.56h-29.6zM369.3 350.50h27.9v3.56h-27.9zM369.3 353.66h27.9v3.56h-27.9zM369.3 356.82h27.9v3.56h-27.9zM311.2 359.98h29.6v3.56h-29.6zM166.0 375.77h29.6v3.56h-29.6zM311.2 385.24h29.6v3.56h-29.6zM224.1 391.55h29.6v3.56h-29.6zM311.2 394.71h29.6v3.56h-29.6zM253.2 423.13h29.6v3.56h-29.6zM979.2 426.29h29.6v3.56h-29.6zM224.1 429.45h58.7v3.56h-58.7zM166.0 445.24h29.6v3.56h-29.6zM340.3 445.24h29.6v3.56h-29.6zM166.0 448.39h29.6v3.56h-29.6zM369.3 448.39h27.9v3.56h-27.9zM311.2 457.87h29.6v3.56h-29.6zM369.3 461.03h27.9v3.56h-27.9zM369.3 464.18h27.9v3.56h-27.9zM224.1 470.50h29.6v3.56h-29.6zM224.1 473.66h29.6v3.56h-29.6zM369.3 473.66h27.9v3.56h-27.9zM166.0 486.29h29.6v3.56h-29.6zM369.3 495.76h27.9v3.56h-27.9zM369.3 505.23h27.9v3.56h-27.9zM253.2 514.71h29.6v3.56h-29.6zM340.3 514.71h29.6v3.56h-29.6zM543.6 533.65h29.6v3.56h-29.6zM834.0 536.81h29.6v3.56h-29.6zM834.0 539.97h29.6v3.56h-29.6zM543.6 543.13h29.6v3.56h-29.6zM543.6 555.76h29.6v3.56h-29.6zM543.6 558.92h29.6v3.56h-29.6zM543.6 565.23h29.6v3.56h-29.6zM892.0 565.23h30.6v3.56h-30.6zM630.7 568.39h29.6v3.56h-29.6zM1008.2 568.39h29.6v3.56h-29.6zM979.2 593.65h29.6v3.56h-29.6zM863.0 599.97h29.6v3.56h-29.6zM863.0 603.13h29.6v3.56h-29.6zM863.0 606.28h29.6v3.56h-29.6zM396.6 612.60h31.4v3.56h-31.4zM834.0 634.70h29.6v3.56h-29.6zM659.7 641.02h29.6v3.56h-29.6zM630.7 653.65h29.6v3.56h-29.6zM630.7 659.97h29.6v3.56h-29.6zM863.0 659.97h29.6v3.56h-29.6zM863.0 663.12h29.6v3.56h-29.6zM630.7 666.28h29.6v3.56h-29.6zM456.4 669.44h29.6v3.56h-29.6zM485.5 685.23h29.6v3.56h-29.6zM456.4 694.70h29.6v3.56h-29.6zM863.0 694.70h29.6v3.56h-29.6zM601.6 697.86h29.6v3.56h-29.6zM601.6 701.02h29.6v3.56h-29.6zM456.4 707.33h29.6v3.56h-29.6zM601.6 707.33h29.6v3.56h-29.6zM456.4 710.49h29.6v3.56h-29.6zM834.0 748.38h29.6v3.56h-29.6zM834.0 751.54h29.6v3.56h-29.6zM950.1 776.80h29.6v3.56h-29.6zM950.1 783.12h29.6v3.56h-29.6zM950.1 789.43h29.6v3.56h-29.6zM950.1 795.75h29.6v3.56h-29.6zM688.8 798.91h29.6v3.56h-29.6zM485.5 802.06h29.6v3.56h-29.6zM688.8 805.22h29.6v3.56h-29.6zM950.1 808.38h29.6v3.56h-29.6z"/><path fill="#fed88b" d="M253.2 186.30h29.6v3.56h-29.6zM369.3 186.30h27.9v3.56h-27.9zM166.0 189.46h29.6v3.56h-29.6zM311.2 189.46h29.6v3.56h-29.6zM369.3 189.46h27.9v3.56h-27.9zM166.0 192.62h29.6v3.56h-29.6zM369.3 192.62h27.9v3.56h-27.9zM137.0 195.77h29.6v3.56h-29.6zM137.0 198.93h29.6v3.56h-29.6zM369.3 202.09h27.9v3.56h-27.9zM369.3 211.56h27.9v3.56h-27.9zM253.2 221.04h29.6v3.56h-29.6zM282.2 227.35h29.6v3.56h-29.6zM369.3 233.67h27.9v3.56h-27.9zM137.0 236.82h29.6v3.56h-29.6zM282.2 236.82h29.6v3.56h-29.6zM282.2 239.98h29.6v3.56h-29.6zM137.0 246.30h29.6v3.56h-29.6zM282.2 249.46h29.6v3.56h-29.6zM137.0 252.61h29.6v3.56h-29.6zM253.2 252.61h29.6v3.56h-29.6zM137.0 255.77h29.6v3.56h-29.6zM253.2 255.77h29.6v3.56h-29.6zM253.2 258.93h29.6v3.56h-29.6zM224.1 262.09h29.6v3.56h-29.6zM137.0 265.24h29.6v3.56h-29.6zM166.0 268.40h29.6v3.56h-29.6zM253.2 271.56h29.6v3.56h-29.6zM137.0 274.72h58.7v3.56h-58.7zM166.0 277.88h29.6v3.56h-29.6zM224.1 277.88h29.6v3.56h-29.6zM369.3 277.88h27.9v3.56h-27.9zM253.2 281.03h29.6v3.56h-29.6zM137.0 299.98h29.6v3.56h-29.6zM137.0 303.14h29.6v3.56h-29.6zM311.2 303.14h29.6v3.56h-29.6zM137.0 309.45h29.6v3.56h-29.6zM311.2 309.45h29.6v3.56h-29.6zM311.2 315.77h29.6v3.56h-29.6zM137.0 318.93h29.6v3.56h-29.6zM369.3 322.08h27.9v3.56h-27.9zM369.3 325.24h27.9v3.56h-27.9zM137.0 337.87h29.6v3.56h-29.6zM369.3 337.87h27.9v3.56h-27.9zM166.0 341.03h29.6v3.56h-29.6zM369.3 344.19h27.9v3.56h-27.9zM166.0 347.35h29.6v3.56h-29.6zM166.0 369.45h29.6v3.56h-29.6zM224.1 388.40h29.6v3.56h-29.6zM137.0 391.55h58.7v3.56h-58.7zM369.3 391.55h27.9v3.56h-27.9zM137.0 394.71h29.6v3.56h-29.6zM369.3 394.71h27.9v3.56h-27.9zM369.3 397.87h27.9v3.56h-27.9zM369.3 401.03h27.9v3.56h-27.9zM369.3 404.19h27.9v3.56h-27.9zM166.0 426.29h29.6v3.56h-29.6zM166.0 429.45h29.6v3.56h-29.6zM311.2 429.45h29.6v3.56h-29.6zM166.0 432.61h29.6v3.56h-29.6zM253.2 432.61h29.6v3.56h-29.6zM369.3 435.76h27.9v3.56h-27.9zM166.0 442.08h29.6v3.56h-29.6zM253.2 442.08h29.6v3.56h-29.6zM369.3 445.24h27.9v3.56h-27.9zM166.0 451.55h29.6v3.56h-29.6zM369.3 451.55h27.9v3.56h-27.9zM166.0 454.71h29.6v3.56h-29.6zM369.3 454.71h27.9v3.56h-27.9zM311.2 461.03h29.6v3.56h-29.6zM224.1 467.34h29.6v3.56h-29.6zM311.2 470.50h29.6v3.56h-29.6zM369.3 470.50h27.9v3.56h-27.9zM137.0 476.81h29.6v3.56h-29.6zM369.3 489.45h27.9v3.56h-27.9zM311.2 492.60h29.6v3.56h-29.6zM369.3 492.60h27.9v3.56h-27.9zM282.2 498.92h29.6v3.56h-29.6zM369.3 498.92h27.9v3.56h-27.9zM282.2 502.08h29.6v3.56h-29.6zM166.0 505.23h29.6v3.56h-29.6zM369.3 508.39h27.9v3.56h-27.9zM253.2 511.55h29.6v3.56h-29.6zM311.2 514.71h29.6v3.56h-29.6zM369.3 521.02h27.9v3.56h-27.9zM311.2 524.18h29.6v3.56h-29.6zM369.3 524.18h27.9v3.56h-27.9zM340.3 527.34h56.9v3.56h-56.9zM543.6 549.44h29.6v3.56h-29.6zM543.6 552.60h29.6v3.56h-29.6zM543.6 571.55h29.6v3.56h-29.6zM514.5 584.18h29.6v3.56h-29.6zM514.5 587.34h29.6v3.56h-29.6zM688.8 644.18h29.6v3.56h-29.6zM601.6 659.97h29.6v3.56h-29.6zM630.7 663.12h29.6v3.56h-29.6zM601.6 666.28h29.6v3.56h-29.6zM1008.2 678.91h29.6v3.56h-29.6zM396.6 682.07h31.4v3.56h-31.4zM396.6 691.54h31.4v3.56h-31.4zM514.5 694.70h29.6v3.56h-29.6zM688.8 719.96h29.6v3.56h-29.6zM804.9 742.07h29.6v3.56h-29.6zM834.0 745.22h29.6v3.56h-29.6zM746.8 761.01h29.6v3.56h-29.6zM746.8 764.17h29.6v3.56h-29.6z"/><path fill="#fed086" d="M137.0 186.30h29.6v3.56h-29.6zM137.0 189.46h29.6v3.56h-29.6zM282.2 192.62h29.6v3.56h-29.6zM166.0 198.93h29.6v3.56h-29.6zM369.3 198.93h27.9v3.56h-27.9zM369.3 205.25h27.9v3.56h-27.9zM166.0 221.04h29.6v3.56h-29.6zM137.0 230.51h58.7v3.56h-58.7zM137.0 239.98h29.6v3.56h-29.6zM166.0 249.46h29.6v3.56h-29.6zM253.2 249.46h29.6v3.56h-29.6zM311.2 262.09h29.6v3.56h-29.6zM137.0 268.40h29.6v3.56h-29.6zM224.1 271.56h29.6v3.56h-29.6zM224.1 274.72h29.6v3.56h-29.6zM166.0 281.03h29.6v3.56h-29.6zM224.1 290.51h29.6v3.56h-29.6zM137.0 293.66h29.6v3.56h-29.6zM137.0 306.30h29.6v3.56h-29.6zM369.3 306.30h27.9v3.56h-27.9zM311.2 312.61h29.6v3.56h-29.6zM166.0 315.77h29.6v3.56h-29.6zM369.3 315.77h27.9v3.56h-27.9zM282.2 318.93h29.6v3.56h-29.6zM282.2 322.08h29.6v3.56h-29.6zM369.3 328.40h27.9v3.56h-27.9zM166.0 344.19h29.6v3.56h-29.6zM224.1 344.19h29.6v3.56h-29.6zM224.1 347.35h29.6v3.56h-29.6zM166.0 350.50h29.6v3.56h-29.6zM166.0 366.29h29.6v3.56h-29.6zM369.3 375.77h27.9v3.56h-27.9zM369.3 378.92h27.9v3.56h-27.9zM369.3 382.08h27.9v3.56h-27.9zM166.0 385.24h29.6v3.56h-29.6zM166.0 397.87h29.6v3.56h-29.6zM253.2 426.29h29.6v3.56h-29.6zM369.3 429.45h27.9v3.56h-27.9zM137.0 442.08h29.6v3.56h-29.6zM369.3 442.08h27.9v3.56h-27.9zM369.3 457.87h27.9v3.56h-27.9zM311.2 486.29h29.6v3.56h-29.6zM369.3 486.29h27.9v3.56h-27.9zM311.2 489.45h29.6v3.56h-29.6zM166.0 492.60h29.6v3.56h-29.6zM282.2 492.60h29.6v3.56h-29.6zM166.0 495.76h29.6v3.56h-29.6zM166.0 498.92h29.6v3.56h-29.6zM166.0 502.08h29.6v3.56h-29.6zM369.3 502.08h27.9v3.56h-27.9zM166.0 508.39h29.6v3.56h-29.6zM369.3 511.55h27.9v3.56h-27.9zM369.3 514.71h27.9v3.56h-27.9zM253.2 517.87h29.6v3.56h-29.6zM253.2 521.02h29.6v3.56h-29.6zM369.3 530.50h27.9v3.56h-27.9zM543.6 536.81h29.6v3.56h-29.6zM630.7 609.44h29.6v3.56h-29.6zM485.5 612.60h29.6v3.56h-29.6zM514.5 641.02h29.6v3.56h-29.6zM630.7 650.49h29.6v3.56h-29.6zM514.5 688.38h29.6v3.56h-29.6zM485.5 694.70h29.6v3.56h-29.6zM396.6 707.33h31.4v3.56h-31.4zM804.9 738.91h29.6v3.56h-29.6zM950.1 745.22h29.6v3.56h-29.6zM922.0 786.28h28.7v3.56h-28.7zM485.5 789.43h29.6v3.56h-29.6zM950.1 792.59h29.6v3.56h-29.6z"/><path fill="#fdc880" d="M282.2 189.46h29.6v3.56h-29.6zM137.0 192.62h29.6v3.56h-29.6zM166.0 195.77h29.6v3.56h-29.6zM166.0 208.40h29.6v3.56h-29.6zM369.3 217.88h27.9v3.56h-27.9zM166.0 224.19h29.6v3.56h-29.6zM137.0 227.35h29.6v3.56h-29.6zM166.0 243.14h29.6v3.56h-29.6zM166.0 246.30h29.6v3.56h-29.6zM166.0 252.61h29.6v3.56h-29.6zM166.0 255.77h29.6v3.56h-29.6zM311.2 265.24h29.6v3.56h-29.6zM166.0 284.19h29.6v3.56h-29.6zM137.0 290.51h29.6v3.56h-29.6zM137.0 296.82h29.6v3.56h-29.6zM166.0 299.98h29.6v3.56h-29.6zM369.3 299.98h27.9v3.56h-27.9zM166.0 303.14h29.6v3.56h-29.6zM369.3 303.14h27.9v3.56h-27.9zM369.3 309.45h27.9v3.56h-27.9zM369.3 312.61h27.9v3.56h-27.9zM137.0 315.77h29.6v3.56h-29.6zM137.0 322.08h29.6v3.56h-29.6zM282.2 325.24h29.6v3.56h-29.6zM166.0 334.72h29.6v3.56h-29.6zM166.0 353.66h29.6v3.56h-29.6zM166.0 372.61h29.6v3.56h-29.6zM369.3 372.61h27.9v3.56h-27.9zM166.0 378.92h29.6v3.56h-29.6zM166.0 382.08h29.6v3.56h-29.6zM137.0 385.24h29.6v3.56h-29.6zM369.3 385.24h27.9v3.56h-27.9zM137.0 388.40h58.7v3.56h-58.7zM369.3 388.40h27.9v3.56h-27.9zM166.0 394.71h29.6v3.56h-29.6zM369.3 419.97h27.9v3.56h-27.9zM137.0 423.13h29.6v3.56h-29.6zM311.2 423.13h29.6v3.56h-29.6zM137.0 426.29h29.6v3.56h-29.6zM369.3 426.29h27.9v3.56h-27.9zM137.0 429.45h29.6v3.56h-29.6zM166.0 435.76h29.6v3.56h-29.6zM137.0 438.92h58.7v3.56h-58.7zM369.3 438.92h27.9v3.56h-27.9zM166.0 457.87h29.6v3.56h-29.6zM166.0 464.18h29.6v3.56h-29.6zM311.2 483.13h29.6v3.56h-29.6zM166.0 489.45h29.6v3.56h-29.6zM369.3 517.87h27.9v3.56h-27.9zM311.2 521.02h29.6v3.56h-29.6zM485.5 587.34h29.6v3.56h-29.6zM630.7 612.60h29.6v3.56h-29.6zM514.5 697.86h29.6v3.56h-29.6z"/><path fill="#fdc07b" d="M166.0 186.30h29.6v3.56h-29.6zM166.0 205.25h29.6v3.56h-29.6zM166.0 217.88h29.6v3.56h-29.6zM166.0 227.35h29.6v3.56h-29.6zM166.0 233.67h29.6v3.56h-29.6zM166.0 236.82h29.6v3.56h-29.6zM166.0 239.98h29.6v3.56h-29.6zM166.0 296.82h29.6v3.56h-29.6zM369.3 296.82h27.9v3.56h-27.9zM166.0 309.45h29.6v3.56h-29.6zM166.0 312.61h29.6v3.56h-29.6zM166.0 337.87h29.6v3.56h-29.6zM311.2 350.50h29.6v3.56h-29.6zM166.0 363.13h29.6v3.56h-29.6zM369.3 369.45h27.9v3.56h-27.9zM311.2 426.29h29.6v3.56h-29.6zM369.3 432.61h27.9v3.56h-27.9zM137.0 435.76h29.6v3.56h-29.6zM166.0 461.03h29.6v3.56h-29.6zM137.0 473.66h29.6v3.56h-29.6zM485.5 584.18h29.6v3.56h-29.6zM630.7 656.81h29.6v3.56h-29.6zM514.5 691.54h29.6v3.56h-29.6zM485.5 697.86h29.6v3.56h-29.6zM950.1 773.64h29.6v3.56h-29.6zM950.1 786.28h29.6v3.56h-29.6zM485.5 833.64h29.6v3.56h-29.6z"/><path fill="#fdb876" d="M166.0 202.09h29.6v3.56h-29.6zM166.0 211.56h29.6v3.56h-29.6zM253.2 265.24h29.6v3.56h-29.6zM166.0 287.35h29.6v3.56h-29.6zM166.0 290.51h29.6v3.56h-29.6zM253.2 388.40h29.6v3.56h-29.6zM340.3 413.66h29.6v3.56h-29.6zM340.3 416.82h56.9v3.56h-56.9zM369.3 423.13h27.9v3.56h-27.9zM137.0 432.61h29.6v3.56h-29.6zM137.0 445.24h29.6v3.56h-29.6zM166.0 467.34h29.6v3.56h-29.6zM166.0 470.50h29.6v3.56h-29.6zM485.5 830.48h29.6v3.56h-29.6z"/><path fill="#fdb171" d="M166.0 262.09h29.6v3.56h-29.6zM166.0 293.66h29.6v3.56h-29.6zM166.0 306.30h29.6v3.56h-29.6zM166.0 359.98h29.6v3.56h-29.6zM369.3 359.98h27.9v3.56h-27.9zM369.3 363.13h27.9v3.56h-27.9zM369.3 410.50h27.9v3.56h-27.9zM137.0 448.39h29.6v3.56h-29.6zM137.0 505.23h29.6v3.56h-29.6zM137.0 508.39h29.6v3.56h-29.6zM950.1 821.01h29.6v3.56h-29.6z"/><path fill="#fda96b" d="M166.0 214.72h29.6v3.56h-29.6zM253.2 262.09h29.6v3.56h-29.6zM137.0 325.24h29.6v3.56h-29.6zM137.0 328.40h29.6v3.56h-29.6zM166.0 356.82h29.6v3.56h-29.6zM137.0 359.98h29.6v3.56h-29.6zM137.0 369.45h29.6v3.56h-29.6zM369.3 413.66h27.9v3.56h-27.9zM137.0 451.55h29.6v3.56h-29.6zM137.0 454.71h29.6v3.56h-29.6zM340.3 476.81h29.6v3.56h-29.6zM340.3 479.97h56.9v3.56h-56.9zM137.0 486.29h29.6v3.56h-29.6zM137.0 489.45h29.6v3.56h-29.6zM137.0 521.02h29.6v3.56h-29.6z"/><path fill="#fca166" d="M166.0 258.93h29.6v3.56h-29.6zM137.0 363.13h29.6v3.56h-29.6zM137.0 372.61h29.6v3.56h-29.6zM137.0 479.97h29.6v3.56h-29.6zM137.0 483.13h29.6v3.56h-29.6zM137.0 492.60h29.6v3.56h-29.6zM137.0 495.76h29.6v3.56h-29.6zM137.0 527.34h29.6v3.56h-29.6zM950.1 824.17h29.6v3.56h-29.6z"/><path fill="#fc9961" d="M137.0 366.29h29.6v3.56h-29.6zM137.0 375.77h29.6v3.56h-29.6zM137.0 382.08h29.6v3.56h-29.6zM369.3 483.13h27.9v3.56h-27.9zM137.0 530.50h29.6v3.56h-29.6z"/><path fill="#fc915c" d="M137.0 457.87h29.6v3.56h-29.6zM137.0 517.87h29.6v3.56h-29.6zM137.0 524.18h29.6v3.56h-29.6z"/><path fill="#fa8957" d="M137.0 378.92h29.6v3.56h-29.6zM137.0 461.03h29.6v3.56h-29.6zM137.0 464.18h29.6v3.56h-29.6zM137.0 502.08h29.6v3.56h-29.6z"/><path fill="#f78052" d="M137.0 470.50h29.6v3.56h-29.6z"/><path fill="#f3774d" d="M137.0 467.34h29.6v3.56h-29.6zM137.0 498.92h29.6v3.56h-29.6zM137.0 514.71h29.6v3.56h-29.6z"/><path fill="#f06e48" d="M137.0 511.55h29.6v3.56h-29.6z"/><path fill="#e5533a" d="M137.0 407.34h29.6v3.56h-29.6zM137.0 410.50h29.6v3.56h-29.6zM137.0 413.66h29.6v3.56h-29.6zM137.0 416.82h29.6v3.56h-29.6z"/><path fill="#e24b35" d="M137.0 404.19h29.6v3.56h-29.6z"/><path fill="#de4231" d="M137.0 419.97h29.6v3.56h-29.6z"/></g>
<rect x="136.5" y="154.3" width="259.7" height="31.5" fill="#80dbf8"/>
<rect x="396.2" y="154.3" width="699.3" height="31.5" fill="#f98b89"/>
<path d="M136.3 154.2H1095.8M136.3 185.9H1095.8" stroke="#0b1638" stroke-width="1.7" fill="none"/>
<path d="M136.0 153.4V843.6M1095.9 153.4V843.6M135.1 842.8H1096.8" stroke="#0b1638" stroke-width="1.9" fill="none"/>
<path d="M396.2 186V838.5M922.2 186V838.5" stroke="#141414" stroke-width="1.4" fill="none"/><path d="M396.2 153.4V186M922.2 153.4V186" stroke="#0b1230" stroke-width="1.7" fill="none"/>
<rect x="1109.8" y="188.2" width="24.2" height="409.8" fill="url(#cb)"/>
<g font-family="Liberation Sans" font-size="28" fill="#1a1a1a">
<text transform="translate(1142.6 232.5) scale(0.86 1)">4</text>
<text transform="translate(1142.6 321.4) scale(0.86 1)">2</text>
<text transform="translate(1142.6 407.5) scale(0.86 1)">0</text>
<text transform="translate(1142.2 494) scale(0.86 1)">-2</text>
<text transform="translate(1142.2 581.8) scale(0.86 1)">-4</text>
</g>
<rect x="1178" y="203.4" width="35.8" height="36.2" fill="#80dbf8" stroke="#0b1230" stroke-width="2"/>
<rect x="1178.9" y="245.3" width="36.2" height="36.2" fill="#f98b89" stroke="#0b1230" stroke-width="2"/>
<g font-family="Liberation Sans" font-size="27" fill="#111">
<text x="1228" y="200" textLength="64" lengthAdjust="spacingAndGlyphs">Stock</text>
<text x="1229" y="237" textLength="42" lengthAdjust="spacingAndGlyphs">ECS</text>
<text x="1229" y="274" textLength="31" lengthAdjust="spacingAndGlyphs">BB</text>
</g>
<g font-family="Liberation Sans" font-size="29" fill="#111">
<text x="236.5" y="373" textLength="42" lengthAdjust="spacingAndGlyphs">ECS</text>
<text x="584.5" y="376.3" textLength="143" lengthAdjust="spacingAndGlyphs">BB-Summer</text>
<text x="953.5" y="372.6" textLength="118" lengthAdjust="spacingAndGlyphs">BB-Spring</text>
</g>
<g font-family="Liberation Sans" font-size="26.0" fill="#111"><text transform="translate(140.4 844.8) rotate(90) scale(0.98 1)">LDL-14-13</text><text transform="translate(169.5 844.8) rotate(90) scale(0.98 1)">LDL10-17</text><text transform="translate(198.6 844.8) rotate(90) scale(0.98 1)">LDL-17-14303</text><text transform="translate(227.6 844.8) rotate(90) scale(0.98 1)">LDL10-13</text><text transform="translate(256.7 844.8) rotate(90) scale(0.98 1)">LDL10-14</text><text transform="translate(285.8 844.8) rotate(90) scale(0.98 1)">LDL-17-14304</text><text transform="translate(314.9 844.8) rotate(90) scale(0.98 1)">LDL-17-3</text><text transform="translate(344.0 844.8) rotate(90) scale(0.98 1)">LDL-14-14</text><text transform="translate(373.0 844.8) rotate(90) scale(0.98 1)">LDL-14-16</text><text transform="translate(402.1 844.8) rotate(90) scale(0.98 1)">DLBB-14-07</text><text transform="translate(431.2 844.8) rotate(90) scale(0.98 1)">DLBB13-09</text><text transform="translate(460.3 844.8) rotate(90) scale(0.98 1)">DLBB13-10</text><text transform="translate(489.4 844.8) rotate(90) scale(0.98 1)">DLBB-14-09</text><text transform="translate(518.4 844.8) rotate(90) scale(0.98 1)">DLBB08-17</text><text transform="translate(547.5 844.8) rotate(90) scale(0.98 1)">DLBB08-15</text><text transform="translate(576.6 844.8) rotate(90) scale(0.98 1)">DLBB12-06</text><text transform="translate(605.7 844.8) rotate(90) scale(0.98 1)">DLBB12-07</text><text transform="translate(634.8 844.8) rotate(90) scale(0.98 1)">DLBB-14-02</text><text transform="translate(663.8 844.8) rotate(90) scale(0.98 1)">DLBB-13-2</text><text transform="translate(692.9 844.8) rotate(90) scale(0.98 1)">DLBB-14-3</text><text transform="translate(722.0 844.8) rotate(90) scale(0.98 1)">DLBB08-12</text><text transform="translate(751.1 844.8) rotate(90) scale(0.98 1)">DLBB12-04</text><text transform="translate(780.2 844.8) rotate(90) scale(0.98 1)">DLBB08-18</text><text transform="translate(809.2 844.8) rotate(90) scale(0.98 1)">DLBB-14-10</text><text transform="translate(838.3 844.8) rotate(90) scale(0.98 1)">DLBB08-14</text><text transform="translate(867.4 844.8) rotate(90) scale(0.98 1)">DLBB-14-01</text><text transform="translate(896.5 844.8) rotate(90) scale(0.98 1)">DLBB-14-08</text><text transform="translate(925.6 844.8) rotate(90) scale(0.98 1)">DLBB08-03</text><text transform="translate(954.6 844.8) rotate(90) scale(0.98 1)">DLBB08-10</text><text transform="translate(983.7 844.8) rotate(90) scale(0.98 1)">DLBB08-02</text><text transform="translate(1012.8 844.8) rotate(90) scale(0.98 1)">DLBB-16-02</text><text transform="translate(1041.9 844.8) rotate(90) scale(0.98 1)">DLBB-16-07</text><text transform="translate(1071.0 844.8) rotate(90) scale(0.98 1)">DLBB-16-09</text></g>
</svg>
</body></html>
